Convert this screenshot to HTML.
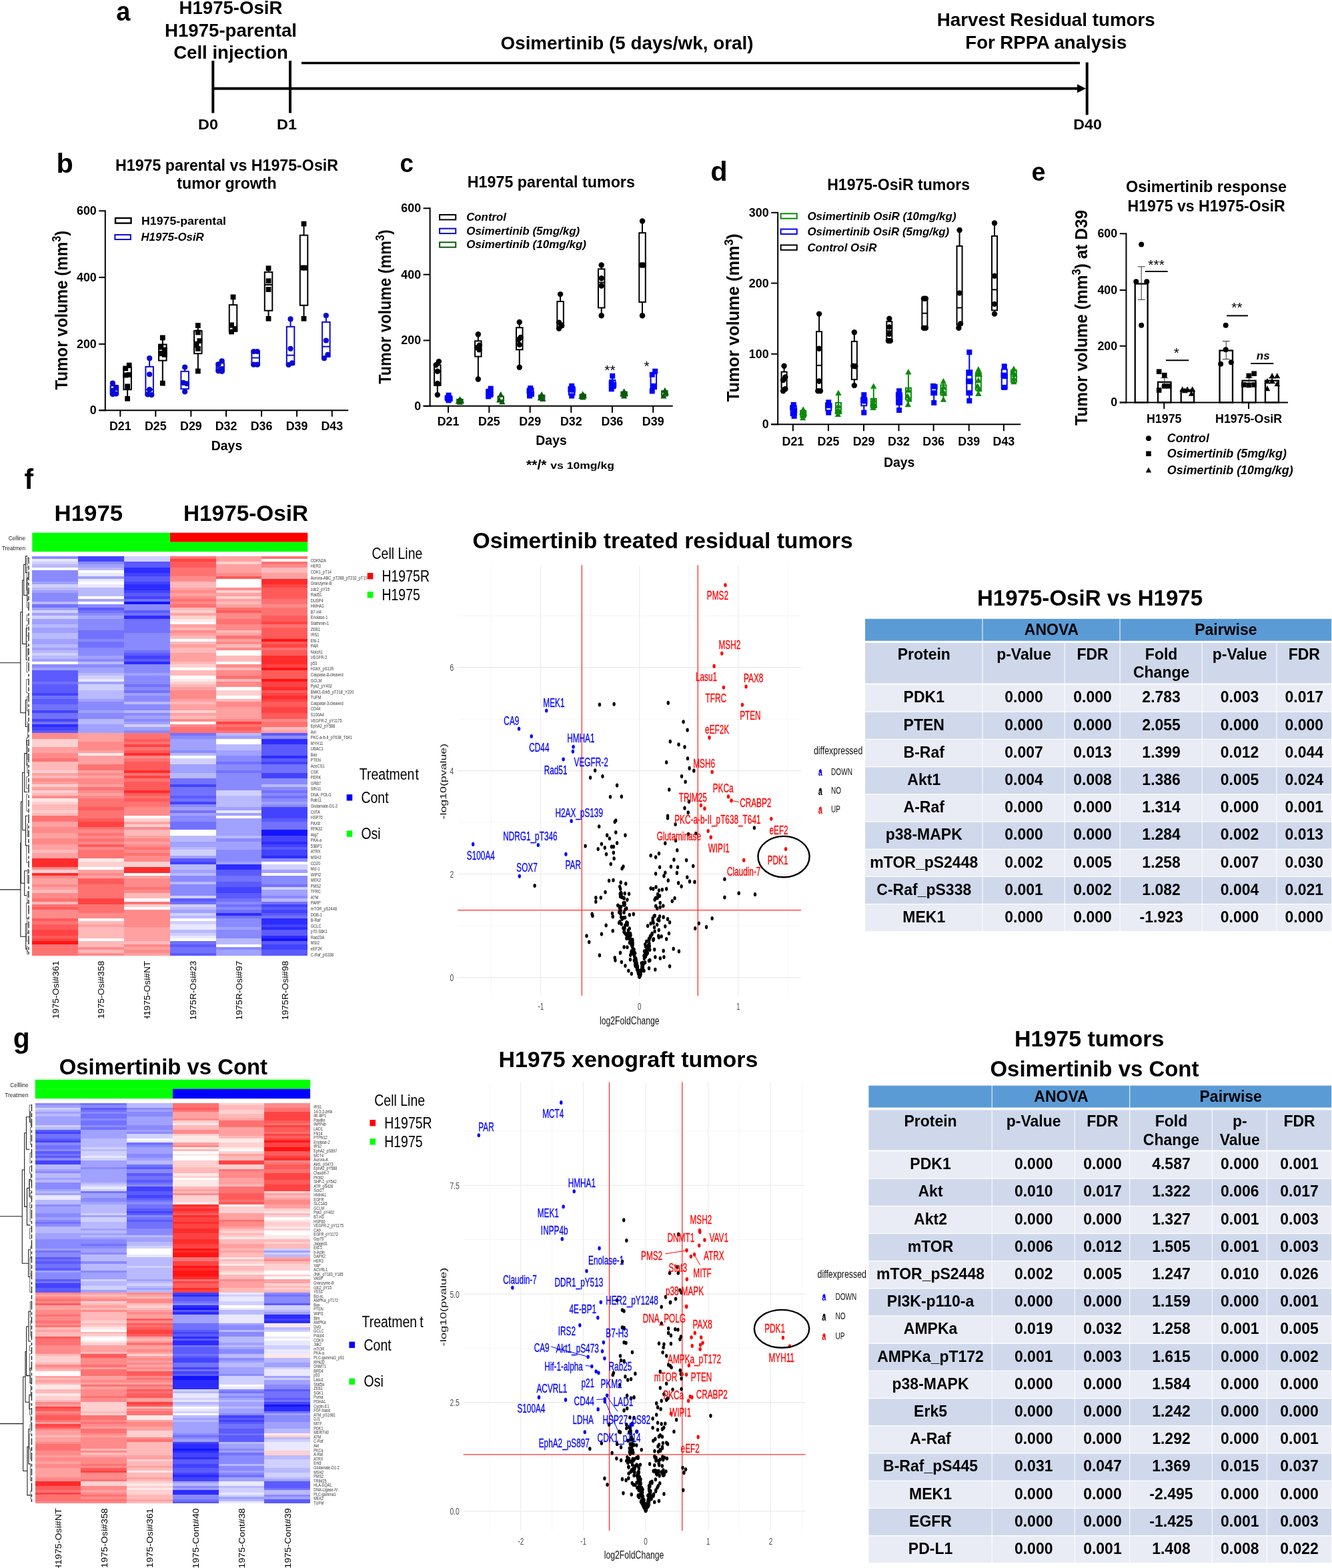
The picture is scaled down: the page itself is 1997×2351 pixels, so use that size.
<!DOCTYPE html>
<html lang="en">
<head>
<meta charset="utf-8">
<title>Figure</title>
<style>
html,body{margin:0;padding:0;background:#fff;}
body{width:1997px;height:2351px;overflow:hidden;}
svg{display:block;font-family:"Liberation Sans",sans-serif;}
svg text{white-space:pre;}
</style>
</head>
<body>
<svg width="1997" height="2351" viewBox="0 0 1997 2351">
<rect x="0" y="0" width="1997" height="2351" fill="#ffffff"/>
<g id="p-a">
<text transform="translate(174.3,30.6) scale(0.95,1)" font-size="40" font-weight="bold">a</text>
<text transform="translate(346,21.3)" font-size="27.6" font-weight="bold" text-anchor="middle">H1975-OsiR</text>
<text transform="translate(346,54.6)" font-size="27.6" font-weight="bold" text-anchor="middle">H1975-parental</text>
<text transform="translate(346,88.1)" font-size="27.6" font-weight="bold" text-anchor="middle">Cell injection</text>
<text transform="translate(940,73.7)" font-size="27.8" font-weight="bold" text-anchor="middle" textLength="379" lengthAdjust="spacingAndGlyphs">Osimertinib (5 days/wk, oral)</text>
<text transform="translate(1568.3,39.2)" font-size="27.8" font-weight="bold" text-anchor="middle" textLength="327" lengthAdjust="spacingAndGlyphs">Harvest Residual tumors</text>
<text transform="translate(1568.3,72.9)" font-size="27.8" font-weight="bold" text-anchor="middle" textLength="242" lengthAdjust="spacingAndGlyphs">For RPPA analysis</text>
<line x1="319.3" y1="91" x2="319.3" y2="169.5" stroke="#000" stroke-width="4" />
<line x1="435" y1="91" x2="435" y2="169.5" stroke="#000" stroke-width="4" />
<line x1="1629.7" y1="93.5" x2="1629.7" y2="172.3" stroke="#000" stroke-width="4" />
<line x1="318" y1="132.8" x2="1618" y2="132.8" stroke="#000" stroke-width="4" />
<path d="M1615 126.3L1628 132.8L1615 139.3Z" fill="#000"/>
<line x1="452" y1="94.5" x2="1619" y2="94.5" stroke="#000" stroke-width="3.5" />
<text transform="translate(312,194.3) scale(1.04,1)" font-size="22.5" font-weight="bold" text-anchor="middle">D0</text>
<text transform="translate(430,194.3) scale(1.04,1)" font-size="22.5" font-weight="bold" text-anchor="middle">D1</text>
<text transform="translate(1630.6,194.4)" font-size="22.5" font-weight="bold" text-anchor="middle" textLength="42.5" lengthAdjust="spacingAndGlyphs">D40</text>
</g>
<g id="p-b">
<text transform="translate(84.5,258.7)" font-size="41.5" font-weight="bold">b</text>
<text transform="translate(340,256.3)" font-size="23" font-weight="bold" text-anchor="middle" textLength="334" lengthAdjust="spacingAndGlyphs">H1975 parental vs H1975-OsiR</text>
<text transform="translate(340,282.8)" font-size="23" font-weight="bold" text-anchor="middle" textLength="149.5" lengthAdjust="spacingAndGlyphs">tumor growth</text>
<line x1="157.78" y1="315.19" x2="157.78" y2="616.24" stroke="#000" stroke-width="2" />
<line x1="148.25" y1="615.24" x2="522.22" y2="615.24" stroke="#000" stroke-width="2" />
<line x1="148.25" y1="316.19" x2="157.78" y2="316.19" stroke="#000" stroke-width="2" />
<text transform="translate(144.75,322.14) scale(0.94,1)" font-size="19" font-weight="bold" text-anchor="end">600</text>
<line x1="148.25" y1="415.87" x2="157.78" y2="415.87" stroke="#000" stroke-width="2" />
<text transform="translate(144.75,421.83) scale(0.94,1)" font-size="19" font-weight="bold" text-anchor="end">400</text>
<line x1="148.25" y1="515.87" x2="157.78" y2="515.87" stroke="#000" stroke-width="2" />
<text transform="translate(144.75,521.83) scale(0.94,1)" font-size="19" font-weight="bold" text-anchor="end">200</text>
<line x1="148.25" y1="615.24" x2="157.78" y2="615.24" stroke="#000" stroke-width="2" />
<text transform="translate(144.75,621.19) scale(0.94,1)" font-size="19" font-weight="bold" text-anchor="end">0</text>
<line x1="180.32" y1="615.24" x2="180.32" y2="624.76" stroke="#000" stroke-width="2" />
<text transform="translate(180.32,645.4) scale(0.94,1)" font-size="19" font-weight="bold" text-anchor="middle">D21</text>
<line x1="233.33" y1="615.24" x2="233.33" y2="624.76" stroke="#000" stroke-width="2" />
<text transform="translate(233.33,645.4) scale(0.94,1)" font-size="19" font-weight="bold" text-anchor="middle">D25</text>
<line x1="286.35" y1="615.24" x2="286.35" y2="624.76" stroke="#000" stroke-width="2" />
<text transform="translate(286.35,645.4) scale(0.94,1)" font-size="19" font-weight="bold" text-anchor="middle">D29</text>
<line x1="339.05" y1="615.24" x2="339.05" y2="624.76" stroke="#000" stroke-width="2" />
<text transform="translate(339.05,645.4) scale(0.94,1)" font-size="19" font-weight="bold" text-anchor="middle">D32</text>
<line x1="392.06" y1="615.24" x2="392.06" y2="624.76" stroke="#000" stroke-width="2" />
<text transform="translate(392.06,645.4) scale(0.94,1)" font-size="19" font-weight="bold" text-anchor="middle">D36</text>
<line x1="445.08" y1="615.24" x2="445.08" y2="624.76" stroke="#000" stroke-width="2" />
<text transform="translate(445.08,645.4) scale(0.94,1)" font-size="19" font-weight="bold" text-anchor="middle">D39</text>
<line x1="497.78" y1="615.24" x2="497.78" y2="624.76" stroke="#000" stroke-width="2" />
<text transform="translate(497.78,645.4) scale(0.94,1)" font-size="19" font-weight="bold" text-anchor="middle">D43</text>
<text transform="translate(340,675.24) scale(0.97,1)" font-size="20" font-weight="bold" text-anchor="middle">Days</text>
<text transform="translate(100.95,465.08) rotate(-90)" font-size="26" font-weight="bold" text-anchor="middle" textLength="238.73" lengthAdjust="spacingAndGlyphs">Tumor volume (mm<tspan dy="-9.88" font-size="17.68">3</tspan><tspan dy="9.88">)</tspan></text>
<rect x="173.02" y="326.98" width="23.49" height="7.62" fill="#fff" stroke="#000" stroke-width="2.4"/>
<text transform="translate(212.06,336.51)" font-size="17" font-weight="bold" textLength="126.98" lengthAdjust="spacingAndGlyphs">H1975-parental</text>
<rect x="172.38" y="352.06" width="23.49" height="6.98" fill="#fff" stroke="#0a0ad2" stroke-width="2"/>
<text transform="translate(211.43,361.27)" font-size="17" font-weight="bold" font-style="italic" textLength="94.29" lengthAdjust="spacingAndGlyphs">H1975-OsiR</text>
<line x1="171.43" y1="574.6" x2="171.43" y2="578.41" stroke="#0a0ad2" stroke-width="2" />
<line x1="171.43" y1="591.11" x2="171.43" y2="592.38" stroke="#0a0ad2" stroke-width="2" />
<rect x="165.68" y="578.41" width="11.5" height="12.7" fill="#fff" stroke="#0a0ad2" stroke-width="2"/>
<line x1="165.68" y1="584.76" x2="177.18" y2="584.76" stroke="#0a0ad2" stroke-width="2" />
<circle cx="168.89" cy="574.6" r="4.1" fill="#0a0ad2"/>
<circle cx="173.97" cy="580.95" r="4.1" fill="#0a0ad2"/>
<circle cx="168.89" cy="585.71" r="4.1" fill="#0a0ad2"/>
<circle cx="173.97" cy="590.48" r="4.1" fill="#0a0ad2"/>
<circle cx="168.89" cy="591.11" r="4.1" fill="#0a0ad2"/>
<line x1="224.13" y1="537.14" x2="224.13" y2="549.84" stroke="#0a0ad2" stroke-width="2" />
<line x1="224.13" y1="592.06" x2="224.13" y2="593.02" stroke="#0a0ad2" stroke-width="2" />
<rect x="218.38" y="549.84" width="11.5" height="42.22" fill="#fff" stroke="#0a0ad2" stroke-width="2"/>
<line x1="218.38" y1="584.13" x2="229.88" y2="584.13" stroke="#0a0ad2" stroke-width="2" />
<circle cx="224.13" cy="537.14" r="4.1" fill="#0a0ad2"/>
<circle cx="224.13" cy="561.27" r="4.1" fill="#0a0ad2"/>
<circle cx="224.13" cy="584.13" r="4.1" fill="#0a0ad2"/>
<circle cx="221.59" cy="591.43" r="4.1" fill="#0a0ad2"/>
<circle cx="227.3" cy="592.06" r="4.1" fill="#0a0ad2"/>
<line x1="277.14" y1="550.48" x2="277.14" y2="556.83" stroke="#0a0ad2" stroke-width="2" />
<line x1="277.14" y1="583.17" x2="277.14" y2="587.94" stroke="#0a0ad2" stroke-width="2" />
<rect x="271.39" y="556.83" width="11.5" height="26.35" fill="#fff" stroke="#0a0ad2" stroke-width="2"/>
<line x1="271.39" y1="574.6" x2="282.89" y2="574.6" stroke="#0a0ad2" stroke-width="2" />
<circle cx="277.14" cy="550.48" r="4.1" fill="#0a0ad2"/>
<circle cx="274.92" cy="573.97" r="4.1" fill="#0a0ad2"/>
<circle cx="280" cy="575.24" r="4.1" fill="#0a0ad2"/>
<circle cx="277.14" cy="587.3" r="4.1" fill="#0a0ad2"/>
<line x1="330.16" y1="541.27" x2="330.16" y2="544.44" stroke="#0a0ad2" stroke-width="2" />
<line x1="330.16" y1="557.14" x2="330.16" y2="557.78" stroke="#0a0ad2" stroke-width="2" />
<rect x="324.41" y="544.44" width="11.5" height="12.7" fill="#fff" stroke="#0a0ad2" stroke-width="2"/>
<line x1="324.41" y1="550.79" x2="335.91" y2="550.79" stroke="#0a0ad2" stroke-width="2" />
<circle cx="332.7" cy="541.27" r="4.1" fill="#0a0ad2"/>
<circle cx="327.62" cy="546.03" r="4.1" fill="#0a0ad2"/>
<circle cx="332.7" cy="553.02" r="4.1" fill="#0a0ad2"/>
<circle cx="327.62" cy="556.19" r="4.1" fill="#0a0ad2"/>
<circle cx="332.7" cy="556.83" r="4.1" fill="#0a0ad2"/>
<line x1="383.17" y1="526.35" x2="383.17" y2="526.98" stroke="#0a0ad2" stroke-width="2" />
<line x1="383.17" y1="547.62" x2="383.17" y2="548.25" stroke="#0a0ad2" stroke-width="2" />
<rect x="377.42" y="526.98" width="11.5" height="20.63" fill="#fff" stroke="#0a0ad2" stroke-width="2"/>
<line x1="377.42" y1="536.51" x2="388.92" y2="536.51" stroke="#0a0ad2" stroke-width="2" />
<circle cx="380.32" cy="526.98" r="4.1" fill="#0a0ad2"/>
<circle cx="385.71" cy="526.98" r="4.1" fill="#0a0ad2"/>
<circle cx="380.32" cy="546.67" r="4.1" fill="#0a0ad2"/>
<circle cx="385.71" cy="546.67" r="4.1" fill="#0a0ad2"/>
<line x1="435.56" y1="478.41" x2="435.56" y2="489.84" stroke="#0a0ad2" stroke-width="2" />
<line x1="435.56" y1="546.67" x2="435.56" y2="547.3" stroke="#0a0ad2" stroke-width="2" />
<rect x="429.81" y="489.84" width="11.5" height="56.83" fill="#fff" stroke="#0a0ad2" stroke-width="2"/>
<line x1="429.81" y1="532.7" x2="441.31" y2="532.7" stroke="#0a0ad2" stroke-width="2" />
<circle cx="435.56" cy="478.41" r="4.1" fill="#0a0ad2"/>
<circle cx="435.56" cy="522.86" r="4.1" fill="#0a0ad2"/>
<circle cx="438.1" cy="544.44" r="4.1" fill="#0a0ad2"/>
<circle cx="432.7" cy="546.98" r="4.1" fill="#0a0ad2"/>
<line x1="488.89" y1="473.02" x2="488.89" y2="482.86" stroke="#0a0ad2" stroke-width="2" />
<line x1="488.89" y1="534.92" x2="488.89" y2="537.46" stroke="#0a0ad2" stroke-width="2" />
<rect x="483.14" y="482.86" width="11.5" height="52.06" fill="#fff" stroke="#0a0ad2" stroke-width="2"/>
<line x1="483.14" y1="519.68" x2="494.64" y2="519.68" stroke="#0a0ad2" stroke-width="2" />
<circle cx="488.89" cy="473.02" r="4.1" fill="#0a0ad2"/>
<circle cx="488.89" cy="510.48" r="4.1" fill="#0a0ad2"/>
<circle cx="491.43" cy="531.75" r="4.1" fill="#0a0ad2"/>
<circle cx="486.03" cy="537.14" r="4.1" fill="#0a0ad2"/>
<line x1="191.11" y1="547.62" x2="191.11" y2="550.79" stroke="#000" stroke-width="2" />
<line x1="191.11" y1="584.13" x2="191.11" y2="597.78" stroke="#000" stroke-width="2" />
<rect x="185.36" y="550.79" width="11.5" height="33.33" fill="#fff" stroke="#000" stroke-width="2"/>
<line x1="185.36" y1="561.9" x2="196.86" y2="561.9" stroke="#000" stroke-width="2" />
<rect x="189.76" y="543.72" width="7.79" height="7.79" fill="#000"/>
<rect x="184.36" y="548.49" width="7.79" height="7.79" fill="#000"/>
<rect x="189.76" y="558.01" width="7.79" height="7.79" fill="#000"/>
<rect x="184.36" y="558.64" width="7.79" height="7.79" fill="#000"/>
<rect x="187.22" y="575.47" width="7.79" height="7.79" fill="#000"/>
<rect x="187.22" y="593.88" width="7.79" height="7.79" fill="#000"/>
<line x1="243.81" y1="506.35" x2="243.81" y2="516.51" stroke="#000" stroke-width="2" />
<line x1="243.81" y1="540.63" x2="243.81" y2="574.6" stroke="#000" stroke-width="2" />
<rect x="238.06" y="516.51" width="11.5" height="24.13" fill="#fff" stroke="#000" stroke-width="2"/>
<line x1="238.06" y1="526.98" x2="249.56" y2="526.98" stroke="#000" stroke-width="2" />
<rect x="239.91" y="502.45" width="7.79" height="7.79" fill="#000"/>
<rect x="237.37" y="516.74" width="7.79" height="7.79" fill="#000"/>
<rect x="242.77" y="520.55" width="7.79" height="7.79" fill="#000"/>
<rect x="237.37" y="526.26" width="7.79" height="7.79" fill="#000"/>
<rect x="242.77" y="527.85" width="7.79" height="7.79" fill="#000"/>
<rect x="239.91" y="570.71" width="7.79" height="7.79" fill="#000"/>
<line x1="296.83" y1="487.94" x2="296.83" y2="495.87" stroke="#000" stroke-width="2" />
<line x1="296.83" y1="530.16" x2="296.83" y2="556.51" stroke="#000" stroke-width="2" />
<rect x="291.08" y="495.87" width="11.5" height="34.29" fill="#fff" stroke="#000" stroke-width="2"/>
<line x1="291.08" y1="512.7" x2="302.58" y2="512.7" stroke="#000" stroke-width="2" />
<rect x="292.93" y="484.04" width="7.79" height="7.79" fill="#000"/>
<rect x="292.93" y="494.52" width="7.79" height="7.79" fill="#000"/>
<rect x="295.47" y="507.22" width="7.79" height="7.79" fill="#000"/>
<rect x="290.71" y="513.57" width="7.79" height="7.79" fill="#000"/>
<rect x="292.93" y="518.96" width="7.79" height="7.79" fill="#000"/>
<rect x="292.93" y="552.61" width="7.79" height="7.79" fill="#000"/>
<line x1="349.52" y1="445.4" x2="349.52" y2="457.14" stroke="#000" stroke-width="2" />
<line x1="349.52" y1="496.83" x2="349.52" y2="498.41" stroke="#000" stroke-width="2" />
<rect x="343.77" y="457.14" width="11.5" height="39.68" fill="#fff" stroke="#000" stroke-width="2"/>
<line x1="343.77" y1="490.48" x2="355.27" y2="490.48" stroke="#000" stroke-width="2" />
<rect x="345.63" y="441.5" width="7.79" height="7.79" fill="#000"/>
<rect x="343.09" y="483.41" width="7.79" height="7.79" fill="#000"/>
<rect x="348.49" y="489.12" width="7.79" height="7.79" fill="#000"/>
<rect x="343.09" y="493.57" width="7.79" height="7.79" fill="#000"/>
<line x1="402.54" y1="402.22" x2="402.54" y2="407.94" stroke="#000" stroke-width="2" />
<line x1="402.54" y1="465.71" x2="402.54" y2="477.78" stroke="#000" stroke-width="2" />
<rect x="396.79" y="407.94" width="11.5" height="57.78" fill="#fff" stroke="#000" stroke-width="2"/>
<line x1="396.79" y1="426.98" x2="408.29" y2="426.98" stroke="#000" stroke-width="2" />
<rect x="398.64" y="398.33" width="7.79" height="7.79" fill="#000"/>
<rect x="398.64" y="417.37" width="7.79" height="7.79" fill="#000"/>
<rect x="398.64" y="430.07" width="7.79" height="7.79" fill="#000"/>
<rect x="398.64" y="473.88" width="7.79" height="7.79" fill="#000"/>
<line x1="455.56" y1="335.56" x2="455.56" y2="352.7" stroke="#000" stroke-width="2" />
<line x1="455.56" y1="457.78" x2="455.56" y2="477.78" stroke="#000" stroke-width="2" />
<rect x="449.81" y="352.7" width="11.5" height="105.08" fill="#fff" stroke="#000" stroke-width="2"/>
<line x1="449.81" y1="401.59" x2="461.31" y2="401.59" stroke="#000" stroke-width="2" />
<rect x="451.66" y="331.66" width="7.79" height="7.79" fill="#000"/>
<rect x="449.44" y="397.69" width="7.79" height="7.79" fill="#000"/>
<rect x="454.2" y="397.69" width="7.79" height="7.79" fill="#000"/>
<rect x="451.66" y="473.88" width="7.79" height="7.79" fill="#000"/>
</g>
<g id="p-c">
<text transform="translate(599.6,257.7) scale(0.93,1)" font-size="39.7" font-weight="bold">c</text>
<text transform="translate(826.3,281.07)" font-size="23" font-weight="bold" text-anchor="middle" textLength="251.16" lengthAdjust="spacingAndGlyphs">H1975 parental tumors</text>
<line x1="644.65" y1="311.31" x2="644.65" y2="609.87" stroke="#000" stroke-width="2" />
<line x1="634.63" y1="608.87" x2="1008.71" y2="608.87" stroke="#000" stroke-width="2" />
<line x1="634.63" y1="312.31" x2="644.65" y2="312.31" stroke="#000" stroke-width="2" />
<text transform="translate(631.13,318.26) scale(0.94,1)" font-size="19" font-weight="bold" text-anchor="end">600</text>
<line x1="634.63" y1="411.66" x2="644.65" y2="411.66" stroke="#000" stroke-width="2" />
<text transform="translate(631.13,417.61) scale(0.94,1)" font-size="19" font-weight="bold" text-anchor="end">400</text>
<line x1="634.63" y1="510.41" x2="644.65" y2="510.41" stroke="#000" stroke-width="2" />
<text transform="translate(631.13,516.36) scale(0.94,1)" font-size="19" font-weight="bold" text-anchor="end">200</text>
<line x1="634.63" y1="608.87" x2="644.65" y2="608.87" stroke="#000" stroke-width="2" />
<text transform="translate(631.13,614.82) scale(0.94,1)" font-size="19" font-weight="bold" text-anchor="end">0</text>
<line x1="672.06" y1="608.87" x2="672.06" y2="618.89" stroke="#000" stroke-width="2" />
<text transform="translate(672.06,638.34) scale(0.94,1)" font-size="19" font-weight="bold" text-anchor="middle">D21</text>
<line x1="733.38" y1="608.87" x2="733.38" y2="618.89" stroke="#000" stroke-width="2" />
<text transform="translate(733.38,638.34) scale(0.94,1)" font-size="19" font-weight="bold" text-anchor="middle">D25</text>
<line x1="794.69" y1="608.87" x2="794.69" y2="618.89" stroke="#000" stroke-width="2" />
<text transform="translate(794.69,638.34) scale(0.94,1)" font-size="19" font-weight="bold" text-anchor="middle">D29</text>
<line x1="856.3" y1="608.87" x2="856.3" y2="618.89" stroke="#000" stroke-width="2" />
<text transform="translate(856.3,638.34) scale(0.94,1)" font-size="19" font-weight="bold" text-anchor="middle">D32</text>
<line x1="917.91" y1="608.87" x2="917.91" y2="618.89" stroke="#000" stroke-width="2" />
<text transform="translate(917.91,638.34) scale(0.94,1)" font-size="19" font-weight="bold" text-anchor="middle">D36</text>
<line x1="979.23" y1="608.87" x2="979.23" y2="618.89" stroke="#000" stroke-width="2" />
<text transform="translate(979.23,638.34) scale(0.94,1)" font-size="19" font-weight="bold" text-anchor="middle">D39</text>
<text transform="translate(826.53,667.23) scale(0.97,1)" font-size="20" font-weight="bold" text-anchor="middle">Days</text>
<text transform="translate(585.99,460) rotate(-90)" font-size="26" font-weight="bold" text-anchor="middle" textLength="231.41" lengthAdjust="spacingAndGlyphs">Tumor volume (mm<tspan dy="-9.88" font-size="17.68">3</tspan><tspan dy="9.88">)</tspan></text>
<text transform="translate(789.09,703.79)" font-size="21" font-weight="bold" textLength="30.36" lengthAdjust="spacingAndGlyphs">**/*</text>
<text transform="translate(825.35,702.61)" font-size="14.5" font-weight="bold" textLength="95.51" lengthAdjust="spacingAndGlyphs">vs 10mg/kg</text>
<rect x="659.09" y="322.04" width="24.17" height="7.37" fill="#fff" stroke="#000" stroke-width="2"/>
<text transform="translate(699.18,331.18)" font-size="17" font-weight="bold" font-style="italic" textLength="59.84" lengthAdjust="spacingAndGlyphs">Control</text>
<rect x="659.09" y="342.68" width="24.17" height="7.37" fill="#fff" stroke="#0a0ad2" stroke-width="2"/>
<text transform="translate(699.18,351.81)" font-size="17" font-weight="bold" font-style="italic" textLength="170.09" lengthAdjust="spacingAndGlyphs">Osimertinib (5mg/kg)</text>
<rect x="659.09" y="363.31" width="24.17" height="7.37" fill="#fff" stroke="#0b5a0b" stroke-width="2"/>
<text transform="translate(699.18,372.45)" font-size="17" font-weight="bold" font-style="italic" textLength="179.82" lengthAdjust="spacingAndGlyphs">Osimertinib (10mg/kg)</text>
<line x1="655.85" y1="541.95" x2="655.85" y2="547.26" stroke="#000" stroke-width="2" />
<line x1="655.85" y1="577.91" x2="655.85" y2="592.06" stroke="#000" stroke-width="2" />
<rect x="651.1" y="547.26" width="9.5" height="30.66" fill="#fff" stroke="#000" stroke-width="2"/>
<line x1="651.1" y1="557.28" x2="660.6" y2="557.28" stroke="#000" stroke-width="2" />
<circle cx="657.91" cy="541.95" r="4.2" fill="#000"/>
<circle cx="653.79" cy="547.26" r="4.2" fill="#000"/>
<circle cx="655.85" cy="556.69" r="4.2" fill="#000"/>
<circle cx="655.85" cy="574.97" r="4.2" fill="#000"/>
<circle cx="655.85" cy="592.06" r="4.2" fill="#000"/>
<line x1="716.87" y1="501.27" x2="716.87" y2="511.29" stroke="#000" stroke-width="2" />
<line x1="716.87" y1="534.58" x2="716.87" y2="568.48" stroke="#000" stroke-width="2" />
<rect x="712.12" y="511.29" width="9.5" height="23.29" fill="#fff" stroke="#000" stroke-width="2"/>
<line x1="712.12" y1="521.32" x2="721.62" y2="521.32" stroke="#000" stroke-width="2" />
<circle cx="716.87" cy="501.27" r="4.2" fill="#000"/>
<circle cx="718.93" cy="517.78" r="4.2" fill="#000"/>
<circle cx="715.4" cy="521.32" r="4.2" fill="#000"/>
<circle cx="718.34" cy="524.26" r="4.2" fill="#000"/>
<circle cx="716.87" cy="568.48" r="4.2" fill="#000"/>
<line x1="778.78" y1="482.99" x2="778.78" y2="491.25" stroke="#000" stroke-width="2" />
<line x1="778.78" y1="524.26" x2="778.78" y2="550.79" stroke="#000" stroke-width="2" />
<rect x="774.03" y="491.25" width="9.5" height="33.02" fill="#fff" stroke="#000" stroke-width="2"/>
<line x1="774.03" y1="508.05" x2="783.53" y2="508.05" stroke="#000" stroke-width="2" />
<circle cx="778.78" cy="482.99" r="4.2" fill="#000"/>
<circle cx="780.54" cy="505.99" r="4.2" fill="#000"/>
<circle cx="777.01" cy="509.52" r="4.2" fill="#000"/>
<circle cx="778.78" cy="516.89" r="4.2" fill="#000"/>
<circle cx="778.78" cy="550.79" r="4.2" fill="#000"/>
<line x1="840.09" y1="441.13" x2="840.09" y2="452.04" stroke="#000" stroke-width="2" />
<line x1="840.09" y1="490.36" x2="840.09" y2="493.31" stroke="#000" stroke-width="2" />
<rect x="835.34" y="452.04" width="9.5" height="38.32" fill="#fff" stroke="#000" stroke-width="2"/>
<line x1="835.34" y1="484.47" x2="844.84" y2="484.47" stroke="#000" stroke-width="2" />
<circle cx="840.09" cy="441.13" r="4.2" fill="#000"/>
<circle cx="838.03" cy="483.58" r="4.2" fill="#000"/>
<circle cx="842.15" cy="488.3" r="4.2" fill="#000"/>
<circle cx="838.03" cy="492.43" r="4.2" fill="#000"/>
<line x1="901.7" y1="397.51" x2="901.7" y2="403.4" stroke="#000" stroke-width="2" />
<line x1="901.7" y1="461.47" x2="901.7" y2="473.27" stroke="#000" stroke-width="2" />
<rect x="896.95" y="403.4" width="9.5" height="58.07" fill="#fff" stroke="#000" stroke-width="2"/>
<line x1="896.95" y1="423.45" x2="906.45" y2="423.45" stroke="#000" stroke-width="2" />
<circle cx="901.7" cy="397.51" r="4.2" fill="#000"/>
<circle cx="901.7" cy="417.26" r="4.2" fill="#000"/>
<circle cx="901.7" cy="428.46" r="4.2" fill="#000"/>
<circle cx="901.7" cy="473.27" r="4.2" fill="#000"/>
<line x1="963.02" y1="331.47" x2="963.02" y2="349.16" stroke="#000" stroke-width="2" />
<line x1="963.02" y1="452.93" x2="963.02" y2="473.27" stroke="#000" stroke-width="2" />
<rect x="958.27" y="349.16" width="9.5" height="103.76" fill="#fff" stroke="#000" stroke-width="2"/>
<line x1="958.27" y1="397.51" x2="967.77" y2="397.51" stroke="#000" stroke-width="2" />
<circle cx="963.02" cy="331.47" r="4.2" fill="#000"/>
<circle cx="961.54" cy="397.51" r="4.2" fill="#000"/>
<circle cx="964.78" cy="397.51" r="4.2" fill="#000"/>
<circle cx="963.02" cy="473.27" r="4.2" fill="#000"/>
<line x1="672.65" y1="592.06" x2="672.65" y2="593.83" stroke="#0000ff" stroke-width="2" />
<line x1="672.65" y1="600.91" x2="672.65" y2="601.5" stroke="#0000ff" stroke-width="2" />
<rect x="668.4" y="593.83" width="8.5" height="7.07" fill="#fff" stroke="#0000ff" stroke-width="2"/>
<rect x="668.66" y="588.66" width="7.98" height="7.98" fill="#0000ff"/>
<rect x="666.6" y="592.5" width="7.98" height="7.98" fill="#0000ff"/>
<rect x="670.73" y="593.97" width="7.98" height="7.98" fill="#0000ff"/>
<rect x="668.66" y="596.33" width="7.98" height="7.98" fill="#0000ff"/>
<line x1="733.97" y1="581.75" x2="733.97" y2="583.81" stroke="#0000ff" stroke-width="2" />
<line x1="733.97" y1="595.01" x2="733.97" y2="596.49" stroke="#0000ff" stroke-width="2" />
<rect x="729.72" y="583.81" width="8.5" height="11.2" fill="#fff" stroke="#0000ff" stroke-width="2"/>
<rect x="731.75" y="578.64" width="7.98" height="7.98" fill="#0000ff"/>
<rect x="728.21" y="583.65" width="7.98" height="7.98" fill="#0000ff"/>
<rect x="731.75" y="586.6" width="7.98" height="7.98" fill="#0000ff"/>
<rect x="728.21" y="590.43" width="7.98" height="7.98" fill="#0000ff"/>
<line x1="795.28" y1="581.16" x2="795.28" y2="582.34" stroke="#0000ff" stroke-width="2" />
<line x1="795.28" y1="593.83" x2="795.28" y2="595.01" stroke="#0000ff" stroke-width="2" />
<rect x="791.03" y="582.34" width="8.5" height="11.5" fill="#fff" stroke="#0000ff" stroke-width="2"/>
<rect x="791.29" y="578.05" width="7.98" height="7.98" fill="#0000ff"/>
<rect x="789.52" y="582.18" width="7.98" height="7.98" fill="#0000ff"/>
<rect x="793.06" y="586.6" width="7.98" height="7.98" fill="#0000ff"/>
<rect x="790.11" y="589.55" width="7.98" height="7.98" fill="#0000ff"/>
<line x1="857.19" y1="578.21" x2="857.19" y2="579.68" stroke="#0000ff" stroke-width="2" />
<line x1="857.19" y1="592.06" x2="857.19" y2="594.13" stroke="#0000ff" stroke-width="2" />
<rect x="852.94" y="579.68" width="8.5" height="12.38" fill="#fff" stroke="#0000ff" stroke-width="2"/>
<rect x="853.2" y="574.81" width="7.98" height="7.98" fill="#0000ff"/>
<rect x="851.43" y="580.11" width="7.98" height="7.98" fill="#0000ff"/>
<rect x="854.97" y="580.7" width="7.98" height="7.98" fill="#0000ff"/>
<rect x="853.2" y="589.55" width="7.98" height="7.98" fill="#0000ff"/>
<line x1="918.21" y1="563.76" x2="918.21" y2="569.95" stroke="#0000ff" stroke-width="2" />
<line x1="918.21" y1="582.34" x2="918.21" y2="584.69" stroke="#0000ff" stroke-width="2" />
<rect x="913.96" y="569.95" width="8.5" height="12.38" fill="#fff" stroke="#0000ff" stroke-width="2"/>
<rect x="914.22" y="559.77" width="7.98" height="7.98" fill="#0000ff"/>
<rect x="912.74" y="570.98" width="7.98" height="7.98" fill="#0000ff"/>
<rect x="916.28" y="573.33" width="7.98" height="7.98" fill="#0000ff"/>
<rect x="912.74" y="579.23" width="7.98" height="7.98" fill="#0000ff"/>
<line x1="979.82" y1="556.69" x2="979.82" y2="560.23" stroke="#0000ff" stroke-width="2" />
<line x1="979.82" y1="583.22" x2="979.82" y2="587.05" stroke="#0000ff" stroke-width="2" />
<rect x="975.57" y="560.23" width="8.5" height="22.99" fill="#fff" stroke="#0000ff" stroke-width="2"/>
<rect x="978.19" y="552.7" width="7.98" height="7.98" fill="#0000ff"/>
<rect x="973.77" y="557.71" width="7.98" height="7.98" fill="#0000ff"/>
<rect x="975.83" y="574.81" width="7.98" height="7.98" fill="#0000ff"/>
<rect x="973.77" y="582.47" width="7.98" height="7.98" fill="#0000ff"/>
<line x1="689.46" y1="597.96" x2="689.46" y2="598.84" stroke="#0b5a0b" stroke-width="2" />
<line x1="689.46" y1="602.68" x2="689.46" y2="603.27" stroke="#0b5a0b" stroke-width="2" />
<rect x="685.21" y="598.84" width="8.5" height="3.83" fill="#fff" stroke="#0b5a0b" stroke-width="2"/>
<path d="M689.46 593.92L694.09 602.52L684.83 602.52Z" fill="#0b5a0b"/>
<path d="M687.39 596.87L692.02 605.47L682.76 605.47Z" fill="#0b5a0b"/>
<path d="M691.52 596.28L696.15 604.88L686.89 604.88Z" fill="#0b5a0b"/>
<path d="M689.46 598.05L694.09 606.64L684.83 606.64Z" fill="#0b5a0b"/>
<line x1="750.77" y1="591.47" x2="750.77" y2="594.42" stroke="#0b5a0b" stroke-width="2" />
<line x1="750.77" y1="601.5" x2="750.77" y2="603.85" stroke="#0b5a0b" stroke-width="2" />
<rect x="746.52" y="594.42" width="8.5" height="7.07" fill="#fff" stroke="#0b5a0b" stroke-width="2"/>
<path d="M750.77 586.84L755.4 595.44L746.14 595.44Z" fill="#0b5a0b"/>
<path d="M748.71 594.8L753.34 603.4L744.08 603.4Z" fill="#0b5a0b"/>
<path d="M752.83 597.75L757.46 606.35L748.2 606.35Z" fill="#0b5a0b"/>
<line x1="812.09" y1="590.88" x2="812.09" y2="592.65" stroke="#0b5a0b" stroke-width="2" />
<line x1="812.09" y1="598.55" x2="812.09" y2="599.73" stroke="#0b5a0b" stroke-width="2" />
<rect x="807.84" y="592.65" width="8.5" height="5.9" fill="#fff" stroke="#0b5a0b" stroke-width="2"/>
<path d="M812.09 586.84L816.72 595.44L807.46 595.44Z" fill="#0b5a0b"/>
<path d="M810.32 591.85L814.95 600.45L805.69 600.45Z" fill="#0b5a0b"/>
<path d="M813.85 593.33L818.49 601.93L809.22 601.93Z" fill="#0b5a0b"/>
<line x1="873.7" y1="590.29" x2="873.7" y2="591.47" stroke="#0b5a0b" stroke-width="2" />
<line x1="873.7" y1="595.6" x2="873.7" y2="596.49" stroke="#0b5a0b" stroke-width="2" />
<rect x="869.45" y="591.47" width="8.5" height="4.13" fill="#fff" stroke="#0b5a0b" stroke-width="2"/>
<path d="M873.7 586.25L878.33 594.85L869.07 594.85Z" fill="#0b5a0b"/>
<path d="M871.93 589.5L876.56 598.1L867.3 598.1Z" fill="#0b5a0b"/>
<path d="M875.46 588.91L880.1 597.51L870.83 597.51Z" fill="#0b5a0b"/>
<path d="M873.7 590.97L878.33 599.57L869.07 599.57Z" fill="#0b5a0b"/>
<line x1="935.6" y1="586.17" x2="935.6" y2="587.64" stroke="#0b5a0b" stroke-width="2" />
<line x1="935.6" y1="593.54" x2="935.6" y2="594.42" stroke="#0b5a0b" stroke-width="2" />
<rect x="931.35" y="587.64" width="8.5" height="5.9" fill="#fff" stroke="#0b5a0b" stroke-width="2"/>
<path d="M935.6 582.13L940.23 590.73L930.97 590.73Z" fill="#0b5a0b"/>
<path d="M933.83 585.96L938.46 594.56L929.2 594.56Z" fill="#0b5a0b"/>
<path d="M937.37 585.07L942 593.67L932.74 593.67Z" fill="#0b5a0b"/>
<path d="M935.6 588.91L940.23 597.51L930.97 597.51Z" fill="#0b5a0b"/>
<line x1="996.33" y1="584.69" x2="996.33" y2="586.17" stroke="#0b5a0b" stroke-width="2" />
<line x1="996.33" y1="593.54" x2="996.33" y2="594.42" stroke="#0b5a0b" stroke-width="2" />
<rect x="992.08" y="586.17" width="8.5" height="7.37" fill="#fff" stroke="#0b5a0b" stroke-width="2"/>
<path d="M996.92 580.65L1001.55 589.25L992.29 589.25Z" fill="#0b5a0b"/>
<path d="M998.39 583.9L1003.02 592.5L993.76 592.5Z" fill="#0b5a0b"/>
<path d="M994.85 588.91L999.48 597.51L990.22 597.51Z" fill="#0b5a0b"/>
<text transform="translate(914.38,562)" font-size="21" text-anchor="middle">**</text>
<text transform="translate(969.5,556.1)" font-size="21" text-anchor="middle">*</text>
</g>
<g id="p-d">
<text transform="translate(1065.35,271.34)" font-size="41.5" font-weight="bold">d</text>
<text transform="translate(1347.17,284.6)" font-size="23" font-weight="bold" text-anchor="middle" textLength="214.01" lengthAdjust="spacingAndGlyphs">H1975-OsiR tumors</text>
<line x1="1166.17" y1="317.8" x2="1166.17" y2="637.28" stroke="#000" stroke-width="2" />
<line x1="1156.15" y1="636.28" x2="1530.23" y2="636.28" stroke="#000" stroke-width="2" />
<line x1="1156.15" y1="318.8" x2="1166.17" y2="318.8" stroke="#000" stroke-width="2" />
<text transform="translate(1152.65,324.75) scale(0.94,1)" font-size="19" font-weight="bold" text-anchor="end">300</text>
<line x1="1156.15" y1="424.63" x2="1166.17" y2="424.63" stroke="#000" stroke-width="2" />
<text transform="translate(1152.65,430.58) scale(0.94,1)" font-size="19" font-weight="bold" text-anchor="end">200</text>
<line x1="1156.15" y1="530.75" x2="1166.17" y2="530.75" stroke="#000" stroke-width="2" />
<text transform="translate(1152.65,536.7) scale(0.94,1)" font-size="19" font-weight="bold" text-anchor="end">100</text>
<line x1="1156.15" y1="636.28" x2="1166.17" y2="636.28" stroke="#000" stroke-width="2" />
<text transform="translate(1152.65,642.23) scale(0.94,1)" font-size="19" font-weight="bold" text-anchor="end">0</text>
<line x1="1188.87" y1="636.28" x2="1188.87" y2="646.3" stroke="#000" stroke-width="2" />
<text transform="translate(1188.87,668.12) scale(0.94,1)" font-size="19" font-weight="bold" text-anchor="middle">D21</text>
<line x1="1241.93" y1="636.28" x2="1241.93" y2="646.3" stroke="#000" stroke-width="2" />
<text transform="translate(1241.93,668.12) scale(0.94,1)" font-size="19" font-weight="bold" text-anchor="middle">D25</text>
<line x1="1294.99" y1="636.28" x2="1294.99" y2="646.3" stroke="#000" stroke-width="2" />
<text transform="translate(1294.99,668.12) scale(0.94,1)" font-size="19" font-weight="bold" text-anchor="middle">D29</text>
<line x1="1347.46" y1="636.28" x2="1347.46" y2="646.3" stroke="#000" stroke-width="2" />
<text transform="translate(1347.46,668.12) scale(0.94,1)" font-size="19" font-weight="bold" text-anchor="middle">D32</text>
<line x1="1399.64" y1="636.28" x2="1399.64" y2="646.3" stroke="#000" stroke-width="2" />
<text transform="translate(1399.64,668.12) scale(0.94,1)" font-size="19" font-weight="bold" text-anchor="middle">D36</text>
<line x1="1452.7" y1="636.28" x2="1452.7" y2="646.3" stroke="#000" stroke-width="2" />
<text transform="translate(1452.7,668.12) scale(0.94,1)" font-size="19" font-weight="bold" text-anchor="middle">D39</text>
<line x1="1504.88" y1="636.28" x2="1504.88" y2="646.3" stroke="#000" stroke-width="2" />
<text transform="translate(1504.88,668.12) scale(0.94,1)" font-size="19" font-weight="bold" text-anchor="middle">D43</text>
<text transform="translate(1348.05,700.25) scale(0.97,1)" font-size="20" font-weight="bold" text-anchor="middle">Days</text>
<text transform="translate(1108.39,476.21) rotate(-90)" font-size="26" font-weight="bold" text-anchor="middle" textLength="252.04" lengthAdjust="spacingAndGlyphs">Tumor volume (mm<tspan dy="-9.88" font-size="17.68">3</tspan><tspan dy="9.88">)</tspan></text>
<rect x="1170.59" y="320.27" width="24.17" height="7.37" fill="#fff" stroke="#0a8a0a" stroke-width="2"/>
<text transform="translate(1210.39,329.71)" font-size="17" font-weight="bold" font-style="italic" textLength="223.15" lengthAdjust="spacingAndGlyphs">Osimertinib OsiR (10mg/kg)</text>
<rect x="1170.59" y="343.56" width="24.17" height="7.37" fill="#fff" stroke="#0000ff" stroke-width="2"/>
<text transform="translate(1210.39,352.7)" font-size="17" font-weight="bold" font-style="italic" textLength="212.83" lengthAdjust="spacingAndGlyphs">Osimertinib OsiR (5mg/kg)</text>
<rect x="1170.59" y="367.44" width="24.17" height="7.37" fill="#fff" stroke="#000" stroke-width="2"/>
<text transform="translate(1210.39,376.87)" font-size="17" font-weight="bold" font-style="italic" textLength="104.06" lengthAdjust="spacingAndGlyphs">Control OsiR</text>
<line x1="1175.6" y1="548.73" x2="1175.6" y2="557.57" stroke="#000" stroke-width="2" />
<line x1="1175.6" y1="581.75" x2="1175.6" y2="586.17" stroke="#000" stroke-width="2" />
<rect x="1171.6" y="557.57" width="8" height="24.17" fill="#fff" stroke="#000" stroke-width="2"/>
<line x1="1171.6" y1="569.95" x2="1179.6" y2="569.95" stroke="#000" stroke-width="2" />
<circle cx="1175.6" cy="548.73" r="4.2" fill="#000"/>
<circle cx="1177.37" cy="565.53" r="4.2" fill="#000"/>
<circle cx="1174.13" cy="569.95" r="4.2" fill="#000"/>
<circle cx="1177.37" cy="583.22" r="4.2" fill="#000"/>
<circle cx="1174.13" cy="586.17" r="4.2" fill="#000"/>
<line x1="1228.07" y1="470.61" x2="1228.07" y2="497.14" stroke="#000" stroke-width="2" />
<line x1="1228.07" y1="586.17" x2="1228.07" y2="586.76" stroke="#000" stroke-width="2" />
<rect x="1224.07" y="497.14" width="8" height="89.02" fill="#fff" stroke="#000" stroke-width="2"/>
<line x1="1224.07" y1="547.85" x2="1232.07" y2="547.85" stroke="#000" stroke-width="2" />
<circle cx="1228.07" cy="470.61" r="4.2" fill="#000"/>
<circle cx="1228.07" cy="522.79" r="4.2" fill="#000"/>
<circle cx="1228.07" cy="571.43" r="4.2" fill="#000"/>
<circle cx="1226.3" cy="586.17" r="4.2" fill="#000"/>
<circle cx="1229.84" cy="586.17" r="4.2" fill="#000"/>
<line x1="1280.84" y1="498.32" x2="1280.84" y2="511.88" stroke="#000" stroke-width="2" />
<line x1="1280.84" y1="569.07" x2="1280.84" y2="577.91" stroke="#000" stroke-width="2" />
<rect x="1276.84" y="511.88" width="8" height="57.19" fill="#fff" stroke="#000" stroke-width="2"/>
<line x1="1276.84" y1="548.73" x2="1284.84" y2="548.73" stroke="#000" stroke-width="2" />
<circle cx="1280.84" cy="498.32" r="4.2" fill="#000"/>
<circle cx="1279.37" cy="548.73" r="4.2" fill="#000"/>
<circle cx="1282.31" cy="549.32" r="4.2" fill="#000"/>
<circle cx="1280.84" cy="577.91" r="4.2" fill="#000"/>
<line x1="1333.31" y1="477.69" x2="1333.31" y2="482.11" stroke="#000" stroke-width="2" />
<line x1="1333.31" y1="511" x2="1333.31" y2="511.59" stroke="#000" stroke-width="2" />
<rect x="1329.31" y="482.11" width="8" height="28.89" fill="#fff" stroke="#000" stroke-width="2"/>
<line x1="1329.31" y1="496.26" x2="1337.31" y2="496.26" stroke="#000" stroke-width="2" />
<circle cx="1333.31" cy="477.69" r="4.2" fill="#000"/>
<circle cx="1333.31" cy="490.36" r="4.2" fill="#000"/>
<circle cx="1333.31" cy="500.68" r="4.2" fill="#000"/>
<circle cx="1331.84" cy="511" r="4.2" fill="#000"/>
<circle cx="1334.78" cy="511" r="4.2" fill="#000"/>
<line x1="1386.37" y1="447.03" x2="1386.37" y2="447.62" stroke="#000" stroke-width="2" />
<line x1="1386.37" y1="491.84" x2="1386.37" y2="492.43" stroke="#000" stroke-width="2" />
<rect x="1382.37" y="447.62" width="8" height="44.22" fill="#fff" stroke="#000" stroke-width="2"/>
<line x1="1382.37" y1="469.73" x2="1390.37" y2="469.73" stroke="#000" stroke-width="2" />
<circle cx="1384.9" cy="447.62" r="4.2" fill="#000"/>
<circle cx="1387.85" cy="447.62" r="4.2" fill="#000"/>
<circle cx="1384.9" cy="491.84" r="4.2" fill="#000"/>
<circle cx="1387.85" cy="491.84" r="4.2" fill="#000"/>
<line x1="1438.55" y1="345.03" x2="1438.55" y2="368.91" stroke="#000" stroke-width="2" />
<line x1="1438.55" y1="487.41" x2="1438.55" y2="492.43" stroke="#000" stroke-width="2" />
<rect x="1434.55" y="368.91" width="8" height="118.5" fill="#fff" stroke="#000" stroke-width="2"/>
<line x1="1434.55" y1="461.47" x2="1442.55" y2="461.47" stroke="#000" stroke-width="2" />
<circle cx="1438.55" cy="345.03" r="4.2" fill="#000"/>
<circle cx="1438.55" cy="439.37" r="4.2" fill="#000"/>
<circle cx="1440.02" cy="485.35" r="4.2" fill="#000"/>
<circle cx="1437.37" cy="491.84" r="4.2" fill="#000"/>
<line x1="1491.02" y1="334.42" x2="1491.02" y2="353.88" stroke="#000" stroke-width="2" />
<line x1="1491.02" y1="465.31" x2="1491.02" y2="470.61" stroke="#000" stroke-width="2" />
<rect x="1487.02" y="353.88" width="8" height="111.43" fill="#fff" stroke="#000" stroke-width="2"/>
<line x1="1487.02" y1="434.35" x2="1495.02" y2="434.35" stroke="#000" stroke-width="2" />
<circle cx="1491.02" cy="334.42" r="4.2" fill="#000"/>
<circle cx="1491.02" cy="413.72" r="4.2" fill="#000"/>
<circle cx="1491.02" cy="455.87" r="4.2" fill="#000"/>
<circle cx="1491.02" cy="470.61" r="4.2" fill="#000"/>
<line x1="1189.75" y1="606.21" x2="1189.75" y2="608.28" stroke="#0000ff" stroke-width="2" />
<line x1="1189.75" y1="623.02" x2="1189.75" y2="625.08" stroke="#0000ff" stroke-width="2" />
<rect x="1185.75" y="608.28" width="8" height="14.74" fill="#fff" stroke="#0000ff" stroke-width="2"/>
<rect x="1185.76" y="602.81" width="7.98" height="7.98" fill="#0000ff"/>
<rect x="1184.29" y="607.23" width="7.98" height="7.98" fill="#0000ff"/>
<rect x="1187.23" y="611.66" width="7.98" height="7.98" fill="#0000ff"/>
<rect x="1184.88" y="616.08" width="7.98" height="7.98" fill="#0000ff"/>
<rect x="1186.64" y="619.91" width="7.98" height="7.98" fill="#0000ff"/>
<line x1="1242.22" y1="602.38" x2="1242.22" y2="605.33" stroke="#0000ff" stroke-width="2" />
<line x1="1242.22" y1="615.65" x2="1242.22" y2="619.18" stroke="#0000ff" stroke-width="2" />
<rect x="1238.22" y="605.33" width="8" height="10.32" fill="#fff" stroke="#0000ff" stroke-width="2"/>
<rect x="1238.23" y="599.28" width="7.98" height="7.98" fill="#0000ff"/>
<rect x="1237.05" y="603.4" width="7.98" height="7.98" fill="#0000ff"/>
<rect x="1239.41" y="604.29" width="7.98" height="7.98" fill="#0000ff"/>
<rect x="1238.23" y="614.6" width="7.98" height="7.98" fill="#0000ff"/>
<line x1="1295.28" y1="592.06" x2="1295.28" y2="596.49" stroke="#0000ff" stroke-width="2" />
<line x1="1295.28" y1="608.28" x2="1295.28" y2="618.59" stroke="#0000ff" stroke-width="2" />
<rect x="1291.28" y="596.49" width="8" height="11.79" fill="#fff" stroke="#0000ff" stroke-width="2"/>
<rect x="1291.29" y="588.07" width="7.98" height="7.98" fill="#0000ff"/>
<rect x="1290.11" y="595.44" width="7.98" height="7.98" fill="#0000ff"/>
<rect x="1292.47" y="597.51" width="7.98" height="7.98" fill="#0000ff"/>
<rect x="1291.29" y="614.6" width="7.98" height="7.98" fill="#0000ff"/>
<line x1="1348.05" y1="585.58" x2="1348.05" y2="589.12" stroke="#0000ff" stroke-width="2" />
<line x1="1348.05" y1="606.8" x2="1348.05" y2="615.65" stroke="#0000ff" stroke-width="2" />
<rect x="1344.05" y="589.12" width="8" height="17.69" fill="#fff" stroke="#0000ff" stroke-width="2"/>
<rect x="1344.06" y="582.18" width="7.98" height="7.98" fill="#0000ff"/>
<rect x="1342.88" y="588.07" width="7.98" height="7.98" fill="#0000ff"/>
<rect x="1345.24" y="592.5" width="7.98" height="7.98" fill="#0000ff"/>
<rect x="1343.47" y="598.39" width="7.98" height="7.98" fill="#0000ff"/>
<rect x="1344.06" y="611.07" width="7.98" height="7.98" fill="#0000ff"/>
<line x1="1400.23" y1="578.21" x2="1400.23" y2="580.27" stroke="#0000ff" stroke-width="2" />
<line x1="1400.23" y1="592.06" x2="1400.23" y2="603.85" stroke="#0000ff" stroke-width="2" />
<rect x="1396.23" y="580.27" width="8" height="11.79" fill="#fff" stroke="#0000ff" stroke-width="2"/>
<rect x="1395.06" y="574.81" width="7.98" height="7.98" fill="#0000ff"/>
<rect x="1397.71" y="575.69" width="7.98" height="7.98" fill="#0000ff"/>
<rect x="1396.24" y="585.13" width="7.98" height="7.98" fill="#0000ff"/>
<rect x="1396.24" y="599.86" width="7.98" height="7.98" fill="#0000ff"/>
<line x1="1453.29" y1="528.1" x2="1453.29" y2="555.22" stroke="#0000ff" stroke-width="2" />
<line x1="1453.29" y1="592.06" x2="1453.29" y2="601.5" stroke="#0000ff" stroke-width="2" />
<rect x="1449.29" y="555.22" width="8" height="36.85" fill="#fff" stroke="#0000ff" stroke-width="2"/>
<rect x="1449.3" y="524.11" width="7.98" height="7.98" fill="#0000ff"/>
<rect x="1449.3" y="555.65" width="7.98" height="7.98" fill="#0000ff"/>
<rect x="1448.12" y="567.44" width="7.98" height="7.98" fill="#0000ff"/>
<rect x="1450.48" y="568.03" width="7.98" height="7.98" fill="#0000ff"/>
<rect x="1449.3" y="585.13" width="7.98" height="7.98" fill="#0000ff"/>
<rect x="1449.3" y="596.92" width="7.98" height="7.98" fill="#0000ff"/>
<line x1="1505.76" y1="549.32" x2="1505.76" y2="553.74" stroke="#0000ff" stroke-width="2" />
<line x1="1505.76" y1="583.22" x2="1505.76" y2="583.81" stroke="#0000ff" stroke-width="2" />
<rect x="1501.76" y="553.74" width="8" height="29.48" fill="#fff" stroke="#0000ff" stroke-width="2"/>
<rect x="1501.77" y="545.33" width="7.98" height="7.98" fill="#0000ff"/>
<rect x="1500.59" y="558.6" width="7.98" height="7.98" fill="#0000ff"/>
<rect x="1502.95" y="560.07" width="7.98" height="7.98" fill="#0000ff"/>
<rect x="1501.77" y="576.87" width="7.98" height="7.98" fill="#0000ff"/>
<line x1="1204.2" y1="613.29" x2="1204.2" y2="615.65" stroke="#0a8a0a" stroke-width="2" />
<line x1="1204.2" y1="624.49" x2="1204.2" y2="626.85" stroke="#0a8a0a" stroke-width="2" />
<rect x="1200.2" y="615.65" width="8" height="8.84" fill="#fff" stroke="#0a8a0a" stroke-width="2"/>
<path d="M1204.2 609.25L1208.83 617.85L1199.56 617.85Z" fill="#0a8a0a"/>
<path d="M1202.72 613.37L1207.35 621.97L1198.09 621.97Z" fill="#0a8a0a"/>
<path d="M1205.67 614.55L1210.3 623.15L1201.04 623.15Z" fill="#0a8a0a"/>
<path d="M1204.2 618.39L1208.83 626.98L1199.56 626.98Z" fill="#0a8a0a"/>
<path d="M1203.61 621.63L1208.24 630.23L1198.97 630.23Z" fill="#0a8a0a"/>
<line x1="1256.96" y1="589.12" x2="1256.96" y2="603.85" stroke="#0a8a0a" stroke-width="2" />
<line x1="1256.96" y1="620.07" x2="1256.96" y2="622.13" stroke="#0a8a0a" stroke-width="2" />
<rect x="1252.96" y="603.85" width="8" height="16.21" fill="#fff" stroke="#0a8a0a" stroke-width="2"/>
<path d="M1256.96 584.49L1261.59 593.08L1252.33 593.08Z" fill="#0a8a0a"/>
<path d="M1256.96 603.65L1261.59 612.25L1252.33 612.25Z" fill="#0a8a0a"/>
<path d="M1255.78 611.02L1260.41 619.62L1251.15 619.62Z" fill="#0a8a0a"/>
<path d="M1258.14 611.61L1262.77 620.2L1253.51 620.2Z" fill="#0a8a0a"/>
<path d="M1256.37 616.32L1261 624.92L1251.74 624.92Z" fill="#0a8a0a"/>
<line x1="1309.73" y1="578.8" x2="1309.73" y2="597.96" stroke="#0a8a0a" stroke-width="2" />
<line x1="1309.73" y1="611.22" x2="1309.73" y2="612.11" stroke="#0a8a0a" stroke-width="2" />
<rect x="1305.73" y="597.96" width="8" height="13.27" fill="#fff" stroke="#0a8a0a" stroke-width="2"/>
<path d="M1309.73 574.17L1314.36 582.77L1305.1 582.77Z" fill="#0a8a0a"/>
<path d="M1309.73 594.8L1314.36 603.4L1305.1 603.4Z" fill="#0a8a0a"/>
<path d="M1308.55 600.7L1313.18 609.3L1303.92 609.3Z" fill="#0a8a0a"/>
<path d="M1310.91 602.17L1315.54 610.77L1306.28 610.77Z" fill="#0a8a0a"/>
<path d="M1309.14 606.3L1313.77 614.9L1304.51 614.9Z" fill="#0a8a0a"/>
<line x1="1361.9" y1="557.57" x2="1361.9" y2="581.75" stroke="#0a8a0a" stroke-width="2" />
<line x1="1361.9" y1="599.43" x2="1361.9" y2="606.8" stroke="#0a8a0a" stroke-width="2" />
<rect x="1357.9" y="581.75" width="8" height="17.69" fill="#fff" stroke="#0a8a0a" stroke-width="2"/>
<path d="M1361.9 552.94L1366.54 561.54L1357.27 561.54Z" fill="#0a8a0a"/>
<path d="M1361.9 580.06L1366.54 588.66L1357.27 588.66Z" fill="#0a8a0a"/>
<path d="M1360.73 588.91L1365.36 597.51L1356.1 597.51Z" fill="#0a8a0a"/>
<path d="M1363.08 593.92L1367.71 602.52L1358.45 602.52Z" fill="#0a8a0a"/>
<path d="M1361.32 601.58L1365.95 610.18L1356.68 610.18Z" fill="#0a8a0a"/>
<line x1="1414.38" y1="570.84" x2="1414.38" y2="577.32" stroke="#0a8a0a" stroke-width="2" />
<line x1="1414.38" y1="592.06" x2="1414.38" y2="599.43" stroke="#0a8a0a" stroke-width="2" />
<rect x="1410.38" y="577.32" width="8" height="14.74" fill="#fff" stroke="#0a8a0a" stroke-width="2"/>
<path d="M1414.38 566.8L1419.01 575.4L1409.75 575.4Z" fill="#0a8a0a"/>
<path d="M1414.38 575.64L1419.01 584.24L1409.75 584.24Z" fill="#0a8a0a"/>
<path d="M1413.2 581.54L1417.83 590.14L1408.57 590.14Z" fill="#0a8a0a"/>
<path d="M1415.56 585.07L1420.19 593.67L1410.93 593.67Z" fill="#0a8a0a"/>
<path d="M1414.38 594.21L1419.01 602.81L1409.75 602.81Z" fill="#0a8a0a"/>
<line x1="1466.85" y1="553.15" x2="1466.85" y2="559.05" stroke="#0a8a0a" stroke-width="2" />
<line x1="1466.85" y1="584.69" x2="1466.85" y2="590.59" stroke="#0a8a0a" stroke-width="2" />
<rect x="1462.85" y="559.05" width="8" height="25.65" fill="#fff" stroke="#0a8a0a" stroke-width="2"/>
<path d="M1466.85 549.11L1471.48 557.71L1462.22 557.71Z" fill="#0a8a0a"/>
<path d="M1465.67 555.6L1470.3 564.2L1461.04 564.2Z" fill="#0a8a0a"/>
<path d="M1468.32 556.48L1472.95 565.08L1463.69 565.08Z" fill="#0a8a0a"/>
<path d="M1466.85 565.32L1471.48 573.92L1462.22 573.92Z" fill="#0a8a0a"/>
<path d="M1465.67 574.17L1470.3 582.77L1461.04 582.77Z" fill="#0a8a0a"/>
<path d="M1468.03 578.59L1472.66 587.19L1463.4 587.19Z" fill="#0a8a0a"/>
<path d="M1466.85 585.37L1471.48 593.97L1462.22 593.97Z" fill="#0a8a0a"/>
<line x1="1519.91" y1="552.27" x2="1519.91" y2="555.22" stroke="#0a8a0a" stroke-width="2" />
<line x1="1519.91" y1="572.9" x2="1519.91" y2="573.79" stroke="#0a8a0a" stroke-width="2" />
<rect x="1515.91" y="555.22" width="8" height="17.69" fill="#fff" stroke="#0a8a0a" stroke-width="2"/>
<path d="M1519.91 548.23L1524.54 556.83L1515.28 556.83Z" fill="#0a8a0a"/>
<path d="M1518.73 553.53L1523.36 562.13L1514.1 562.13Z" fill="#0a8a0a"/>
<path d="M1521.09 556.48L1525.72 565.08L1516.46 565.08Z" fill="#0a8a0a"/>
<path d="M1519.91 562.38L1524.54 570.98L1515.28 570.98Z" fill="#0a8a0a"/>
<path d="M1519.91 567.68L1524.54 576.28L1515.28 576.28Z" fill="#0a8a0a"/>
</g>
<g id="p-e">
<text transform="translate(1546.5,270.57) scale(0.95,1)" font-size="39.7" font-weight="bold">e</text>
<text transform="translate(1808.53,288.14)" font-size="23" font-weight="bold" text-anchor="middle" textLength="241.2" lengthAdjust="spacingAndGlyphs">Osimertinib response</text>
<text transform="translate(1808.53,316.54)" font-size="23" font-weight="bold" text-anchor="middle" textLength="236.07" lengthAdjust="spacingAndGlyphs">H1975 vs H1975-OsiR</text>
<rect x="1701.73" y="425.51" width="18.89" height="177.93" fill="#fff" stroke="#000" stroke-width="2.3"/>
<line x1="1711.18" y1="399.82" x2="1711.18" y2="449.31" stroke="#333" stroke-width="1" />
<line x1="1705.68" y1="399.82" x2="1716.68" y2="399.82" stroke="#333" stroke-width="1" />
<line x1="1705.68" y1="449.31" x2="1716.68" y2="449.31" stroke="#333" stroke-width="1" />
<rect x="1736.07" y="572.88" width="19.43" height="30.56" fill="#fff" stroke="#000" stroke-width="2.3"/>
<line x1="1745.79" y1="566.66" x2="1745.79" y2="579.1" stroke="#333" stroke-width="1" />
<line x1="1740.29" y1="566.66" x2="1751.29" y2="566.66" stroke="#333" stroke-width="1" />
<line x1="1740.29" y1="579.1" x2="1751.29" y2="579.1" stroke="#333" stroke-width="1" />
<rect x="1770.69" y="585.59" width="19.43" height="17.85" fill="#fff" stroke="#000" stroke-width="2.3"/>
<line x1="1780.4" y1="583.7" x2="1780.4" y2="587.76" stroke="#333" stroke-width="1" />
<line x1="1774.9" y1="583.7" x2="1785.9" y2="583.7" stroke="#333" stroke-width="1" />
<line x1="1774.9" y1="587.76" x2="1785.9" y2="587.76" stroke="#333" stroke-width="1" />
<rect x="1828.55" y="525.56" width="19.43" height="77.88" fill="#fff" stroke="#000" stroke-width="2.3"/>
<line x1="1838.27" y1="511.5" x2="1838.27" y2="538.54" stroke="#333" stroke-width="1" />
<line x1="1832.77" y1="511.5" x2="1843.77" y2="511.5" stroke="#333" stroke-width="1" />
<line x1="1832.77" y1="538.54" x2="1843.77" y2="538.54" stroke="#333" stroke-width="1" />
<rect x="1862.63" y="570.72" width="19.97" height="32.72" fill="#fff" stroke="#000" stroke-width="2.3"/>
<line x1="1872.61" y1="566.12" x2="1872.61" y2="574.78" stroke="#333" stroke-width="1" />
<line x1="1867.11" y1="566.12" x2="1878.11" y2="566.12" stroke="#333" stroke-width="1" />
<line x1="1867.11" y1="574.78" x2="1878.11" y2="574.78" stroke="#333" stroke-width="1" />
<rect x="1896.97" y="570.72" width="19.97" height="32.72" fill="#fff" stroke="#000" stroke-width="2.3"/>
<line x1="1906.95" y1="566.93" x2="1906.95" y2="574.23" stroke="#333" stroke-width="1" />
<line x1="1901.45" y1="566.93" x2="1912.45" y2="566.93" stroke="#333" stroke-width="1" />
<line x1="1901.45" y1="574.23" x2="1912.45" y2="574.23" stroke="#333" stroke-width="1" />
<line x1="1688.46" y1="349.34" x2="1688.46" y2="604.44" stroke="#000" stroke-width="2" />
<line x1="1678.73" y1="603.44" x2="1931.02" y2="603.44" stroke="#000" stroke-width="2" />
<line x1="1678.73" y1="350.34" x2="1688.46" y2="350.34" stroke="#000" stroke-width="2" />
<text transform="translate(1675.23,356.29) scale(0.94,1)" font-size="19" font-weight="bold" text-anchor="end">600</text>
<line x1="1678.73" y1="434.97" x2="1688.46" y2="434.97" stroke="#000" stroke-width="2" />
<text transform="translate(1675.23,440.93) scale(0.94,1)" font-size="19" font-weight="bold" text-anchor="end">400</text>
<line x1="1678.73" y1="518.8" x2="1688.46" y2="518.8" stroke="#000" stroke-width="2" />
<text transform="translate(1675.23,524.75) scale(0.94,1)" font-size="19" font-weight="bold" text-anchor="end">200</text>
<line x1="1678.73" y1="603.44" x2="1688.46" y2="603.44" stroke="#000" stroke-width="2" />
<text transform="translate(1675.23,609.39) scale(0.94,1)" font-size="19" font-weight="bold" text-anchor="end">0</text>
<line x1="1745.25" y1="603.44" x2="1745.25" y2="613.17" stroke="#000" stroke-width="2" />
<text transform="translate(1745.25,633.72) scale(0.94,1)" font-size="19" font-weight="bold" text-anchor="middle">H1975</text>
<line x1="1872.07" y1="603.44" x2="1872.07" y2="613.17" stroke="#000" stroke-width="2" />
<text transform="translate(1872.07,633.72) scale(0.94,1)" font-size="19" font-weight="bold" text-anchor="middle">H1975-OsiR</text>
<text transform="translate(1630.06,476.35) rotate(-90)" font-size="26.5" font-weight="bold" text-anchor="middle" textLength="323.14" lengthAdjust="spacingAndGlyphs">Tumor volume (mm<tspan dy="-10.07" font-size="18.02">3</tspan><tspan dy="10.07">) at D39</tspan></text>
<circle cx="1711.18" cy="366.56" r="4" fill="#000"/>
<circle cx="1703.34" cy="422.27" r="4" fill="#000"/>
<circle cx="1719.29" cy="422.27" r="4" fill="#000"/>
<circle cx="1711.18" cy="487.7" r="4" fill="#000"/>
<rect x="1733.88" y="553.4" width="7.6" height="7.6" fill="#000"/>
<rect x="1741.99" y="558.81" width="7.6" height="7.6" fill="#000"/>
<rect x="1733.88" y="581.25" width="7.6" height="7.6" fill="#000"/>
<rect x="1748.75" y="575.03" width="7.6" height="7.6" fill="#000"/>
<rect x="1741.99" y="575.03" width="7.6" height="7.6" fill="#000"/>
<path d="M1772.83 579.29L1777.24 587.48L1768.42 587.48Z" fill="#000"/>
<path d="M1780.13 579.29L1784.54 587.48L1775.72 587.48Z" fill="#000"/>
<path d="M1787.7 579.29L1792.11 587.48L1783.29 587.48Z" fill="#000"/>
<path d="M1776.35 581.18L1780.76 589.37L1771.94 589.37Z" fill="#000"/>
<path d="M1786.35 585.51L1790.76 593.7L1781.94 593.7Z" fill="#000"/>
<circle cx="1837.73" cy="487.7" r="4" fill="#000"/>
<circle cx="1837.73" cy="524.21" r="4" fill="#000"/>
<circle cx="1830.16" cy="545.84" r="4" fill="#000"/>
<circle cx="1845.84" cy="543.14" r="4" fill="#000"/>
<rect x="1868.54" y="559.62" width="7.6" height="7.6" fill="#000"/>
<rect x="1876.38" y="556.37" width="7.6" height="7.6" fill="#000"/>
<rect x="1860.97" y="573.14" width="7.6" height="7.6" fill="#000"/>
<rect x="1868.54" y="573.68" width="7.6" height="7.6" fill="#000"/>
<rect x="1876.38" y="573.14" width="7.6" height="7.6" fill="#000"/>
<path d="M1907.22 559.01L1911.63 567.2L1902.81 567.2Z" fill="#000"/>
<path d="M1914.8 559.01L1919.21 567.2L1910.39 567.2Z" fill="#000"/>
<path d="M1899.92 567.12L1904.33 575.31L1895.51 575.31Z" fill="#000"/>
<path d="M1907.22 567.12L1911.63 575.31L1902.81 575.31Z" fill="#000"/>
<path d="M1914.8 571.18L1919.21 579.37L1910.39 579.37Z" fill="#000"/>
<path d="M1899.92 577.94L1904.33 586.13L1895.51 586.13Z" fill="#000"/>
<line x1="1716.86" y1="407.12" x2="1750.66" y2="407.12" stroke="#000" stroke-width="2" />
<line x1="1747.95" y1="540.16" x2="1782.3" y2="540.16" stroke="#000" stroke-width="2" />
<line x1="1839.08" y1="473.37" x2="1870.99" y2="473.37" stroke="#000" stroke-width="2" />
<line x1="1875.05" y1="545.03" x2="1909.39" y2="545.03" stroke="#000" stroke-width="2" />
<text transform="translate(1733.62,403.88)" font-size="21" text-anchor="middle">***</text>
<text transform="translate(1763.91,536.38)" font-size="21" text-anchor="middle">*</text>
<text transform="translate(1854.49,467.69)" font-size="21" text-anchor="middle">**</text>
<text transform="translate(1893.7,539.08)" font-size="17" font-weight="bold" font-style="italic" text-anchor="middle">ns</text>
<circle cx="1721.99" cy="657.25" r="4" fill="#000"/>
<rect x="1718.19" y="676.43" width="7.6" height="7.6" fill="#000"/>
<path d="M1721.99 700.64L1726.19 708.44L1717.79 708.44Z" fill="#000"/>
<text transform="translate(1749.85,663.47)" font-size="17.5" font-weight="bold" font-style="italic" textLength="63.01" lengthAdjust="spacingAndGlyphs">Control</text>
<text transform="translate(1749.85,686.45)" font-size="17.5" font-weight="bold" font-style="italic" textLength="179.01" lengthAdjust="spacingAndGlyphs">Osimertinib (5mg/kg)</text>
<text transform="translate(1749.85,710.79)" font-size="17.5" font-weight="bold" font-style="italic" textLength="188.74" lengthAdjust="spacingAndGlyphs">Osimertinib (10mg/kg)</text>
</g>
<g id="p-f1_heatmap">
<text transform="translate(36.5,732.93) scale(0.95,1)" font-size="43" font-weight="bold">f</text>
<text transform="translate(81.56,781.19)" font-size="33" font-weight="bold" textLength="102.52" lengthAdjust="spacingAndGlyphs">H1975</text>
<text transform="translate(275,781.19)" font-size="33" font-weight="bold" textLength="187.07" lengthAdjust="spacingAndGlyphs">H1975-OsiR</text>
<rect x="48.27" y="798.78" width="206.53" height="14.03" fill="#00ff00"/>
<rect x="254.8" y="798.78" width="206.53" height="14.03" fill="#ff0000"/>
<rect x="48.27" y="812.62" width="413.06" height="14.59" fill="#00ff00"/>
<text transform="translate(38.16,810) scale(0.88,1)" font-size="9.5" text-anchor="end" fill="#222">Celline</text>
<text transform="translate(38.16,824.59) scale(0.88,1)" font-size="9.5" text-anchor="end" fill="#222">Treatmen</text>
<g shape-rendering="crispEdges">
<rect x="48.27" y="833.57" width="69.14" height="4.58" fill="#8a8aff"/>
<rect x="48.27" y="837.85" width="69.14" height="4.58" fill="#e8e8ff"/>
<rect x="48.27" y="842.13" width="69.14" height="4.58" fill="#d0d0ff"/>
<rect x="48.27" y="846.41" width="69.14" height="4.58" fill="#b9b9ff"/>
<rect x="48.27" y="850.69" width="69.14" height="4.58" fill="#ffffff"/>
<rect x="48.27" y="854.97" width="69.14" height="17.42" fill="#8a8aff"/>
<rect x="48.27" y="872.09" width="69.14" height="4.58" fill="#a1a1ff"/>
<rect x="48.27" y="876.38" width="69.14" height="4.58" fill="#d0d0ff"/>
<rect x="48.27" y="880.66" width="69.14" height="4.58" fill="#b9b9ff"/>
<rect x="48.27" y="884.94" width="69.14" height="4.58" fill="#a1a1ff"/>
<rect x="48.27" y="889.22" width="69.14" height="13.14" fill="#8a8aff"/>
<rect x="48.27" y="902.06" width="69.14" height="4.58" fill="#b9b9ff"/>
<rect x="48.27" y="906.34" width="69.14" height="4.58" fill="#7272ff"/>
<rect x="48.27" y="910.62" width="69.14" height="4.58" fill="#a1a1ff"/>
<rect x="48.27" y="914.9" width="69.14" height="4.58" fill="#d0d0ff"/>
<rect x="48.27" y="919.18" width="69.14" height="4.58" fill="#a1a1ff"/>
<rect x="48.27" y="923.46" width="69.14" height="4.58" fill="#d0d0ff"/>
<rect x="48.27" y="927.74" width="69.14" height="8.86" fill="#a1a1ff"/>
<rect x="48.27" y="936.3" width="69.14" height="4.58" fill="#b9b9ff"/>
<rect x="48.27" y="940.58" width="69.14" height="8.86" fill="#a1a1ff"/>
<rect x="48.27" y="949.14" width="69.14" height="8.86" fill="#b9b9ff"/>
<rect x="48.27" y="957.7" width="69.14" height="8.86" fill="#a1a1ff"/>
<rect x="48.27" y="966.26" width="69.14" height="4.58" fill="#b9b9ff"/>
<rect x="48.27" y="970.54" width="69.14" height="4.58" fill="#a1a1ff"/>
<rect x="48.27" y="974.82" width="69.14" height="4.58" fill="#b9b9ff"/>
<rect x="48.27" y="979.1" width="69.14" height="4.58" fill="#d0d0ff"/>
<rect x="48.27" y="983.38" width="69.14" height="4.58" fill="#b9b9ff"/>
<rect x="48.27" y="987.66" width="69.14" height="4.58" fill="#a1a1ff"/>
<rect x="48.27" y="991.95" width="69.14" height="4.58" fill="#ffffff"/>
<rect x="48.27" y="996.23" width="69.14" height="4.58" fill="#8a8aff"/>
<rect x="48.27" y="1000.51" width="69.14" height="4.58" fill="#a1a1ff"/>
<rect x="48.27" y="1004.79" width="69.14" height="17.42" fill="#5b5bff"/>
<rect x="48.27" y="1021.91" width="69.14" height="4.58" fill="#7272ff"/>
<rect x="48.27" y="1026.19" width="69.14" height="13.14" fill="#5b5bff"/>
<rect x="48.27" y="1039.03" width="69.14" height="4.58" fill="#4343ff"/>
<rect x="48.27" y="1043.31" width="69.14" height="4.58" fill="#7272ff"/>
<rect x="48.27" y="1047.59" width="69.14" height="8.86" fill="#5b5bff"/>
<rect x="48.27" y="1056.15" width="69.14" height="8.86" fill="#7272ff"/>
<rect x="48.27" y="1064.71" width="69.14" height="4.58" fill="#4343ff"/>
<rect x="48.27" y="1068.99" width="69.14" height="8.86" fill="#7272ff"/>
<rect x="48.27" y="1077.55" width="69.14" height="4.58" fill="#4343ff"/>
<rect x="48.27" y="1081.83" width="69.14" height="4.58" fill="#7272ff"/>
<rect x="48.27" y="1086.11" width="69.14" height="4.58" fill="#2c2cff"/>
<rect x="48.27" y="1090.39" width="69.14" height="4.58" fill="#4343ff"/>
<rect x="48.27" y="1094.67" width="69.14" height="4.58" fill="#5b5bff"/>
<rect x="48.27" y="1098.95" width="69.14" height="8.86" fill="#ff8a8a"/>
<rect x="48.27" y="1107.52" width="69.14" height="13.14" fill="#ffd0d0"/>
<rect x="48.27" y="1120.36" width="69.14" height="8.86" fill="#ffa1a1"/>
<rect x="48.27" y="1128.92" width="69.14" height="8.86" fill="#ff8a8a"/>
<rect x="48.27" y="1137.48" width="69.14" height="4.58" fill="#ff7272"/>
<rect x="48.27" y="1141.76" width="69.14" height="13.14" fill="#ffb9b9"/>
<rect x="48.27" y="1154.6" width="69.14" height="4.58" fill="#ffd0d0"/>
<rect x="48.27" y="1158.88" width="69.14" height="4.58" fill="#ffa1a1"/>
<rect x="48.27" y="1163.16" width="69.14" height="4.58" fill="#ffb9b9"/>
<rect x="48.27" y="1167.44" width="69.14" height="4.58" fill="#ff8a8a"/>
<rect x="48.27" y="1171.72" width="69.14" height="4.58" fill="#ffa1a1"/>
<rect x="48.27" y="1176" width="69.14" height="4.58" fill="#ffd0d0"/>
<rect x="48.27" y="1180.28" width="69.14" height="4.58" fill="#ffa1a1"/>
<rect x="48.27" y="1184.56" width="69.14" height="4.58" fill="#ffd0d0"/>
<rect x="48.27" y="1188.84" width="69.14" height="4.58" fill="#ffb9b9"/>
<rect x="48.27" y="1193.12" width="69.14" height="4.58" fill="#ff8a8a"/>
<rect x="48.27" y="1197.4" width="69.14" height="4.58" fill="#ffe8e8"/>
<rect x="48.27" y="1201.68" width="69.14" height="4.58" fill="#ffd0d0"/>
<rect x="48.27" y="1205.96" width="69.14" height="8.86" fill="#ffb9b9"/>
<rect x="48.27" y="1214.52" width="69.14" height="4.58" fill="#ffd0d0"/>
<rect x="48.27" y="1218.8" width="69.14" height="4.58" fill="#ffb9b9"/>
<rect x="48.27" y="1223.09" width="69.14" height="8.86" fill="#ff7272"/>
<rect x="48.27" y="1231.65" width="69.14" height="8.86" fill="#ffa1a1"/>
<rect x="48.27" y="1240.21" width="69.14" height="8.86" fill="#ff8a8a"/>
<rect x="48.27" y="1248.77" width="69.14" height="8.86" fill="#ffa1a1"/>
<rect x="48.27" y="1257.33" width="69.14" height="8.86" fill="#ff8a8a"/>
<rect x="48.27" y="1265.89" width="69.14" height="8.86" fill="#ffa1a1"/>
<rect x="48.27" y="1274.45" width="69.14" height="4.58" fill="#ffb9b9"/>
<rect x="48.27" y="1278.73" width="69.14" height="8.86" fill="#ffa1a1"/>
<rect x="48.27" y="1287.29" width="69.14" height="13.14" fill="#ff2c2c"/>
<rect x="48.27" y="1300.13" width="69.14" height="4.58" fill="#ff8a8a"/>
<rect x="48.27" y="1304.41" width="69.14" height="4.58" fill="#ffd0d0"/>
<rect x="48.27" y="1308.69" width="69.14" height="4.58" fill="#ff2c2c"/>
<rect x="48.27" y="1312.97" width="69.14" height="4.58" fill="#ff8a8a"/>
<rect x="48.27" y="1317.25" width="69.14" height="8.86" fill="#ffa1a1"/>
<rect x="48.27" y="1325.81" width="69.14" height="4.58" fill="#ff8a8a"/>
<rect x="48.27" y="1330.09" width="69.14" height="4.58" fill="#ffa1a1"/>
<rect x="48.27" y="1334.37" width="69.14" height="4.58" fill="#ffb9b9"/>
<rect x="48.27" y="1338.66" width="69.14" height="8.86" fill="#ff8a8a"/>
<rect x="48.27" y="1347.22" width="69.14" height="4.58" fill="#ff7272"/>
<rect x="48.27" y="1351.5" width="69.14" height="4.58" fill="#ffb9b9"/>
<rect x="48.27" y="1355.78" width="69.14" height="4.58" fill="#ff7272"/>
<rect x="48.27" y="1360.06" width="69.14" height="4.58" fill="#ff5b5b"/>
<rect x="48.27" y="1364.34" width="69.14" height="13.14" fill="#ff8a8a"/>
<rect x="48.27" y="1377.18" width="69.14" height="4.58" fill="#ff5b5b"/>
<rect x="48.27" y="1381.46" width="69.14" height="4.58" fill="#ff7272"/>
<rect x="48.27" y="1385.74" width="69.14" height="8.86" fill="#ff5b5b"/>
<rect x="48.27" y="1394.3" width="69.14" height="8.86" fill="#ff4343"/>
<rect x="48.27" y="1402.86" width="69.14" height="4.58" fill="#ff5b5b"/>
<rect x="48.27" y="1407.14" width="69.14" height="4.58" fill="#ff4343"/>
<rect x="48.27" y="1411.42" width="69.14" height="4.58" fill="#ff1414"/>
<rect x="48.27" y="1415.7" width="69.14" height="17.12" fill="#ff7272"/>
<rect x="117.11" y="833.57" width="69.14" height="8.86" fill="#4343ff"/>
<rect x="117.11" y="842.13" width="69.14" height="4.58" fill="#8a8aff"/>
<rect x="117.11" y="846.41" width="69.14" height="4.58" fill="#a1a1ff"/>
<rect x="117.11" y="850.69" width="69.14" height="4.58" fill="#b9b9ff"/>
<rect x="117.11" y="854.97" width="69.14" height="4.58" fill="#ffffff"/>
<rect x="117.11" y="859.25" width="69.14" height="4.58" fill="#e8e8ff"/>
<rect x="117.11" y="863.53" width="69.14" height="4.58" fill="#a1a1ff"/>
<rect x="117.11" y="867.81" width="69.14" height="4.58" fill="#e8e8ff"/>
<rect x="117.11" y="872.09" width="69.14" height="4.58" fill="#ffffff"/>
<rect x="117.11" y="876.38" width="69.14" height="4.58" fill="#e8e8ff"/>
<rect x="117.11" y="880.66" width="69.14" height="13.14" fill="#b9b9ff"/>
<rect x="117.11" y="893.5" width="69.14" height="4.58" fill="#ffffff"/>
<rect x="117.11" y="897.78" width="69.14" height="4.58" fill="#a1a1ff"/>
<rect x="117.11" y="902.06" width="69.14" height="4.58" fill="#ffffff"/>
<rect x="117.11" y="906.34" width="69.14" height="4.58" fill="#8a8aff"/>
<rect x="117.11" y="910.62" width="69.14" height="4.58" fill="#5b5bff"/>
<rect x="117.11" y="914.9" width="69.14" height="4.58" fill="#7272ff"/>
<rect x="117.11" y="919.18" width="69.14" height="4.58" fill="#8a8aff"/>
<rect x="117.11" y="923.46" width="69.14" height="4.58" fill="#a1a1ff"/>
<rect x="117.11" y="927.74" width="69.14" height="17.42" fill="#8a8aff"/>
<rect x="117.11" y="944.86" width="69.14" height="13.14" fill="#7272ff"/>
<rect x="117.11" y="957.7" width="69.14" height="4.58" fill="#8a8aff"/>
<rect x="117.11" y="961.98" width="69.14" height="8.86" fill="#7272ff"/>
<rect x="117.11" y="970.54" width="69.14" height="13.14" fill="#8a8aff"/>
<rect x="117.11" y="983.38" width="69.14" height="4.58" fill="#a1a1ff"/>
<rect x="117.11" y="987.66" width="69.14" height="4.58" fill="#8a8aff"/>
<rect x="117.11" y="991.95" width="69.14" height="4.58" fill="#b9b9ff"/>
<rect x="117.11" y="996.23" width="69.14" height="4.58" fill="#8a8aff"/>
<rect x="117.11" y="1000.51" width="69.14" height="8.86" fill="#a1a1ff"/>
<rect x="117.11" y="1009.07" width="69.14" height="4.58" fill="#b9b9ff"/>
<rect x="117.11" y="1013.35" width="69.14" height="4.58" fill="#d0d0ff"/>
<rect x="117.11" y="1017.63" width="69.14" height="4.58" fill="#e8e8ff"/>
<rect x="117.11" y="1021.91" width="69.14" height="4.58" fill="#a1a1ff"/>
<rect x="117.11" y="1026.19" width="69.14" height="8.86" fill="#d0d0ff"/>
<rect x="117.11" y="1034.75" width="69.14" height="13.14" fill="#b9b9ff"/>
<rect x="117.11" y="1047.59" width="69.14" height="4.58" fill="#a1a1ff"/>
<rect x="117.11" y="1051.87" width="69.14" height="13.14" fill="#8a8aff"/>
<rect x="117.11" y="1064.71" width="69.14" height="4.58" fill="#a1a1ff"/>
<rect x="117.11" y="1068.99" width="69.14" height="8.86" fill="#8a8aff"/>
<rect x="117.11" y="1077.55" width="69.14" height="8.86" fill="#b9b9ff"/>
<rect x="117.11" y="1086.11" width="69.14" height="13.14" fill="#a1a1ff"/>
<rect x="117.11" y="1098.95" width="69.14" height="13.14" fill="#ffa1a1"/>
<rect x="117.11" y="1111.8" width="69.14" height="13.14" fill="#ff8a8a"/>
<rect x="117.11" y="1124.64" width="69.14" height="4.58" fill="#ffa1a1"/>
<rect x="117.11" y="1128.92" width="69.14" height="4.58" fill="#ffe8e8"/>
<rect x="117.11" y="1133.2" width="69.14" height="13.14" fill="#ffa1a1"/>
<rect x="117.11" y="1146.04" width="69.14" height="8.86" fill="#ff7272"/>
<rect x="117.11" y="1154.6" width="69.14" height="4.58" fill="#ffa1a1"/>
<rect x="117.11" y="1158.88" width="69.14" height="4.58" fill="#ff8a8a"/>
<rect x="117.11" y="1163.16" width="69.14" height="4.58" fill="#ffa1a1"/>
<rect x="117.11" y="1167.44" width="69.14" height="8.86" fill="#ff8a8a"/>
<rect x="117.11" y="1176" width="69.14" height="4.58" fill="#ffa1a1"/>
<rect x="117.11" y="1180.28" width="69.14" height="4.58" fill="#ff7272"/>
<rect x="117.11" y="1184.56" width="69.14" height="4.58" fill="#ff8a8a"/>
<rect x="117.11" y="1188.84" width="69.14" height="4.58" fill="#ffa1a1"/>
<rect x="117.11" y="1193.12" width="69.14" height="4.58" fill="#ff8a8a"/>
<rect x="117.11" y="1197.4" width="69.14" height="13.14" fill="#ff7272"/>
<rect x="117.11" y="1210.24" width="69.14" height="4.58" fill="#ff5b5b"/>
<rect x="117.11" y="1214.52" width="69.14" height="13.14" fill="#ff7272"/>
<rect x="117.11" y="1227.37" width="69.14" height="4.58" fill="#ff5b5b"/>
<rect x="117.11" y="1231.65" width="69.14" height="8.86" fill="#ff4343"/>
<rect x="117.11" y="1240.21" width="69.14" height="4.58" fill="#ff7272"/>
<rect x="117.11" y="1244.49" width="69.14" height="4.58" fill="#ff8a8a"/>
<rect x="117.11" y="1248.77" width="69.14" height="4.58" fill="#ff7272"/>
<rect x="117.11" y="1253.05" width="69.14" height="4.58" fill="#ff8a8a"/>
<rect x="117.11" y="1257.33" width="69.14" height="4.58" fill="#ff7272"/>
<rect x="117.11" y="1261.61" width="69.14" height="4.58" fill="#ff8a8a"/>
<rect x="117.11" y="1265.89" width="69.14" height="4.58" fill="#ff5b5b"/>
<rect x="117.11" y="1270.17" width="69.14" height="4.58" fill="#ff8a8a"/>
<rect x="117.11" y="1274.45" width="69.14" height="13.14" fill="#ff7272"/>
<rect x="117.11" y="1287.29" width="69.14" height="4.58" fill="#ffe8e8"/>
<rect x="117.11" y="1291.57" width="69.14" height="8.86" fill="#ffd0d0"/>
<rect x="117.11" y="1300.13" width="69.14" height="4.58" fill="#ffffff"/>
<rect x="117.11" y="1304.41" width="69.14" height="4.58" fill="#ffa1a1"/>
<rect x="117.11" y="1308.69" width="69.14" height="4.58" fill="#ff8a8a"/>
<rect x="117.11" y="1312.97" width="69.14" height="4.58" fill="#ffa1a1"/>
<rect x="117.11" y="1317.25" width="69.14" height="8.86" fill="#ff5b5b"/>
<rect x="117.11" y="1325.81" width="69.14" height="21.7" fill="#ff7272"/>
<rect x="117.11" y="1347.22" width="69.14" height="8.86" fill="#ff4343"/>
<rect x="117.11" y="1355.78" width="69.14" height="13.14" fill="#ff7272"/>
<rect x="117.11" y="1368.62" width="69.14" height="8.86" fill="#ff8a8a"/>
<rect x="117.11" y="1377.18" width="69.14" height="4.58" fill="#ffffff"/>
<rect x="117.11" y="1381.46" width="69.14" height="4.58" fill="#ffb9b9"/>
<rect x="117.11" y="1385.74" width="69.14" height="4.58" fill="#ffa1a1"/>
<rect x="117.11" y="1390.02" width="69.14" height="17.42" fill="#ffb9b9"/>
<rect x="117.11" y="1407.14" width="69.14" height="4.58" fill="#ffffff"/>
<rect x="117.11" y="1411.42" width="69.14" height="8.86" fill="#ffb9b9"/>
<rect x="117.11" y="1419.98" width="69.14" height="4.58" fill="#ff8a8a"/>
<rect x="117.11" y="1424.26" width="69.14" height="4.58" fill="#ffb9b9"/>
<rect x="117.11" y="1428.54" width="69.14" height="4.28" fill="#ff8a8a"/>
<rect x="185.95" y="833.57" width="69.14" height="8.86" fill="#d0d0ff"/>
<rect x="185.95" y="842.13" width="69.14" height="8.86" fill="#5b5bff"/>
<rect x="185.95" y="850.69" width="69.14" height="8.86" fill="#2c2cff"/>
<rect x="185.95" y="859.25" width="69.14" height="4.58" fill="#4343ff"/>
<rect x="185.95" y="863.53" width="69.14" height="8.86" fill="#5b5bff"/>
<rect x="185.95" y="872.09" width="69.14" height="4.58" fill="#4343ff"/>
<rect x="185.95" y="876.38" width="69.14" height="8.86" fill="#2c2cff"/>
<rect x="185.95" y="884.94" width="69.14" height="4.58" fill="#4343ff"/>
<rect x="185.95" y="889.22" width="69.14" height="4.58" fill="#5b5bff"/>
<rect x="185.95" y="893.5" width="69.14" height="4.58" fill="#4343ff"/>
<rect x="185.95" y="897.78" width="69.14" height="4.58" fill="#7272ff"/>
<rect x="185.95" y="902.06" width="69.14" height="4.58" fill="#1414ff"/>
<rect x="185.95" y="906.34" width="69.14" height="8.86" fill="#8a8aff"/>
<rect x="185.95" y="914.9" width="69.14" height="4.58" fill="#5b5bff"/>
<rect x="185.95" y="919.18" width="69.14" height="4.58" fill="#7272ff"/>
<rect x="185.95" y="923.46" width="69.14" height="4.58" fill="#2c2cff"/>
<rect x="185.95" y="927.74" width="69.14" height="21.7" fill="#7272ff"/>
<rect x="185.95" y="949.14" width="69.14" height="25.98" fill="#8a8aff"/>
<rect x="185.95" y="974.82" width="69.14" height="4.58" fill="#7272ff"/>
<rect x="185.95" y="979.1" width="69.14" height="4.58" fill="#5b5bff"/>
<rect x="185.95" y="983.38" width="69.14" height="4.58" fill="#4343ff"/>
<rect x="185.95" y="987.66" width="69.14" height="4.58" fill="#5b5bff"/>
<rect x="185.95" y="991.95" width="69.14" height="4.58" fill="#2c2cff"/>
<rect x="185.95" y="996.23" width="69.14" height="13.14" fill="#8a8aff"/>
<rect x="185.95" y="1009.07" width="69.14" height="4.58" fill="#a1a1ff"/>
<rect x="185.95" y="1013.35" width="69.14" height="13.14" fill="#8a8aff"/>
<rect x="185.95" y="1026.19" width="69.14" height="4.58" fill="#7272ff"/>
<rect x="185.95" y="1030.47" width="69.14" height="4.58" fill="#8a8aff"/>
<rect x="185.95" y="1034.75" width="69.14" height="4.58" fill="#7272ff"/>
<rect x="185.95" y="1039.03" width="69.14" height="4.58" fill="#a1a1ff"/>
<rect x="185.95" y="1043.31" width="69.14" height="8.86" fill="#8a8aff"/>
<rect x="185.95" y="1051.87" width="69.14" height="4.58" fill="#b9b9ff"/>
<rect x="185.95" y="1056.15" width="69.14" height="8.86" fill="#8a8aff"/>
<rect x="185.95" y="1064.71" width="69.14" height="4.58" fill="#b9b9ff"/>
<rect x="185.95" y="1068.99" width="69.14" height="4.58" fill="#8a8aff"/>
<rect x="185.95" y="1073.27" width="69.14" height="4.58" fill="#a1a1ff"/>
<rect x="185.95" y="1077.55" width="69.14" height="4.58" fill="#8a8aff"/>
<rect x="185.95" y="1081.83" width="69.14" height="4.58" fill="#a1a1ff"/>
<rect x="185.95" y="1086.11" width="69.14" height="4.58" fill="#d0d0ff"/>
<rect x="185.95" y="1090.39" width="69.14" height="4.58" fill="#a1a1ff"/>
<rect x="185.95" y="1094.67" width="69.14" height="4.58" fill="#8a8aff"/>
<rect x="185.95" y="1098.95" width="69.14" height="8.86" fill="#ff7272"/>
<rect x="185.95" y="1107.52" width="69.14" height="4.58" fill="#ff5b5b"/>
<rect x="185.95" y="1111.8" width="69.14" height="4.58" fill="#ff7272"/>
<rect x="185.95" y="1116.08" width="69.14" height="4.58" fill="#ff4343"/>
<rect x="185.95" y="1120.36" width="69.14" height="4.58" fill="#ff7272"/>
<rect x="185.95" y="1124.64" width="69.14" height="4.58" fill="#ff5b5b"/>
<rect x="185.95" y="1128.92" width="69.14" height="4.58" fill="#ff2c2c"/>
<rect x="185.95" y="1133.2" width="69.14" height="4.58" fill="#ff8a8a"/>
<rect x="185.95" y="1137.48" width="69.14" height="4.58" fill="#ff7272"/>
<rect x="185.95" y="1141.76" width="69.14" height="13.14" fill="#ff5b5b"/>
<rect x="185.95" y="1154.6" width="69.14" height="4.58" fill="#ff2c2c"/>
<rect x="185.95" y="1158.88" width="69.14" height="4.58" fill="#ff7272"/>
<rect x="185.95" y="1163.16" width="69.14" height="4.58" fill="#ff4343"/>
<rect x="185.95" y="1167.44" width="69.14" height="4.58" fill="#ff7272"/>
<rect x="185.95" y="1171.72" width="69.14" height="13.14" fill="#ff5b5b"/>
<rect x="185.95" y="1184.56" width="69.14" height="4.58" fill="#ff2c2c"/>
<rect x="185.95" y="1188.84" width="69.14" height="4.58" fill="#ff5b5b"/>
<rect x="185.95" y="1193.12" width="69.14" height="4.58" fill="#ff7272"/>
<rect x="185.95" y="1197.4" width="69.14" height="4.58" fill="#ff5b5b"/>
<rect x="185.95" y="1201.68" width="69.14" height="8.86" fill="#ff7272"/>
<rect x="185.95" y="1210.24" width="69.14" height="13.14" fill="#ff8a8a"/>
<rect x="185.95" y="1223.09" width="69.14" height="4.58" fill="#ffffff"/>
<rect x="185.95" y="1227.37" width="69.14" height="4.58" fill="#ffd0d0"/>
<rect x="185.95" y="1231.65" width="69.14" height="4.58" fill="#ffa1a1"/>
<rect x="185.95" y="1235.93" width="69.14" height="4.58" fill="#ffd0d0"/>
<rect x="185.95" y="1240.21" width="69.14" height="4.58" fill="#ff8a8a"/>
<rect x="185.95" y="1244.49" width="69.14" height="8.86" fill="#ffb9b9"/>
<rect x="185.95" y="1253.05" width="69.14" height="4.58" fill="#ffa1a1"/>
<rect x="185.95" y="1257.33" width="69.14" height="4.58" fill="#ff8a8a"/>
<rect x="185.95" y="1261.61" width="69.14" height="4.58" fill="#ffa1a1"/>
<rect x="185.95" y="1265.89" width="69.14" height="4.58" fill="#ff8a8a"/>
<rect x="185.95" y="1270.17" width="69.14" height="4.58" fill="#ff7272"/>
<rect x="185.95" y="1274.45" width="69.14" height="4.58" fill="#ff8a8a"/>
<rect x="185.95" y="1278.73" width="69.14" height="4.58" fill="#ff7272"/>
<rect x="185.95" y="1283.01" width="69.14" height="8.86" fill="#ff8a8a"/>
<rect x="185.95" y="1291.57" width="69.14" height="8.86" fill="#ffd0d0"/>
<rect x="185.95" y="1300.13" width="69.14" height="8.86" fill="#ff2c2c"/>
<rect x="185.95" y="1308.69" width="69.14" height="4.58" fill="#ffffff"/>
<rect x="185.95" y="1312.97" width="69.14" height="4.58" fill="#ffa1a1"/>
<rect x="185.95" y="1317.25" width="69.14" height="13.14" fill="#ff8a8a"/>
<rect x="185.95" y="1330.09" width="69.14" height="4.58" fill="#ff7272"/>
<rect x="185.95" y="1334.37" width="69.14" height="4.58" fill="#ff8a8a"/>
<rect x="185.95" y="1338.66" width="69.14" height="8.86" fill="#ffb9b9"/>
<rect x="185.95" y="1347.22" width="69.14" height="4.58" fill="#ffffff"/>
<rect x="185.95" y="1351.5" width="69.14" height="4.58" fill="#ff7272"/>
<rect x="185.95" y="1355.78" width="69.14" height="4.58" fill="#ffd0d0"/>
<rect x="185.95" y="1360.06" width="69.14" height="4.58" fill="#ffffff"/>
<rect x="185.95" y="1364.34" width="69.14" height="25.98" fill="#ff8a8a"/>
<rect x="185.95" y="1390.02" width="69.14" height="21.7" fill="#ffa1a1"/>
<rect x="185.95" y="1411.42" width="69.14" height="4.58" fill="#ffb9b9"/>
<rect x="185.95" y="1415.7" width="69.14" height="4.58" fill="#ff8a8a"/>
<rect x="185.95" y="1419.98" width="69.14" height="4.58" fill="#ffa1a1"/>
<rect x="185.95" y="1424.26" width="69.14" height="4.58" fill="#ff8a8a"/>
<rect x="185.95" y="1428.54" width="69.14" height="4.28" fill="#ffa1a1"/>
<rect x="254.8" y="833.57" width="69.14" height="4.58" fill="#ff7272"/>
<rect x="254.8" y="837.85" width="69.14" height="4.58" fill="#ff4343"/>
<rect x="254.8" y="842.13" width="69.14" height="8.86" fill="#ff5b5b"/>
<rect x="254.8" y="850.69" width="69.14" height="13.14" fill="#ff7272"/>
<rect x="254.8" y="863.53" width="69.14" height="8.86" fill="#ff8a8a"/>
<rect x="254.8" y="872.09" width="69.14" height="8.86" fill="#ffb9b9"/>
<rect x="254.8" y="880.66" width="69.14" height="4.58" fill="#ffa1a1"/>
<rect x="254.8" y="884.94" width="69.14" height="4.58" fill="#ff8a8a"/>
<rect x="254.8" y="889.22" width="69.14" height="4.58" fill="#ffa1a1"/>
<rect x="254.8" y="893.5" width="69.14" height="4.58" fill="#ff8a8a"/>
<rect x="254.8" y="897.78" width="69.14" height="4.58" fill="#ff7272"/>
<rect x="254.8" y="902.06" width="69.14" height="4.58" fill="#ff8a8a"/>
<rect x="254.8" y="906.34" width="69.14" height="4.58" fill="#ff7272"/>
<rect x="254.8" y="910.62" width="69.14" height="4.58" fill="#ffb9b9"/>
<rect x="254.8" y="914.9" width="69.14" height="4.58" fill="#ffd0d0"/>
<rect x="254.8" y="919.18" width="69.14" height="4.58" fill="#ffa1a1"/>
<rect x="254.8" y="923.46" width="69.14" height="4.58" fill="#ffd0d0"/>
<rect x="254.8" y="927.74" width="69.14" height="4.58" fill="#ffe8e8"/>
<rect x="254.8" y="932.02" width="69.14" height="4.58" fill="#ffffff"/>
<rect x="254.8" y="936.3" width="69.14" height="4.58" fill="#ffa1a1"/>
<rect x="254.8" y="940.58" width="69.14" height="4.58" fill="#ffb9b9"/>
<rect x="254.8" y="944.86" width="69.14" height="4.58" fill="#ff8a8a"/>
<rect x="254.8" y="949.14" width="69.14" height="4.58" fill="#ffa1a1"/>
<rect x="254.8" y="953.42" width="69.14" height="4.58" fill="#ffb9b9"/>
<rect x="254.8" y="957.7" width="69.14" height="4.58" fill="#ffffff"/>
<rect x="254.8" y="961.98" width="69.14" height="4.58" fill="#ffb9b9"/>
<rect x="254.8" y="966.26" width="69.14" height="4.58" fill="#ffa1a1"/>
<rect x="254.8" y="970.54" width="69.14" height="8.86" fill="#ffb9b9"/>
<rect x="254.8" y="979.1" width="69.14" height="13.14" fill="#ffa1a1"/>
<rect x="254.8" y="991.95" width="69.14" height="4.58" fill="#ffb9b9"/>
<rect x="254.8" y="996.23" width="69.14" height="4.58" fill="#ffd0d0"/>
<rect x="254.8" y="1000.51" width="69.14" height="4.58" fill="#ffffff"/>
<rect x="254.8" y="1004.79" width="69.14" height="8.86" fill="#ffb9b9"/>
<rect x="254.8" y="1013.35" width="69.14" height="4.58" fill="#ffffff"/>
<rect x="254.8" y="1017.63" width="69.14" height="4.58" fill="#ffe8e8"/>
<rect x="254.8" y="1021.91" width="69.14" height="4.58" fill="#ffd0d0"/>
<rect x="254.8" y="1026.19" width="69.14" height="4.58" fill="#ffb9b9"/>
<rect x="254.8" y="1030.47" width="69.14" height="4.58" fill="#ffa1a1"/>
<rect x="254.8" y="1034.75" width="69.14" height="13.14" fill="#ff8a8a"/>
<rect x="254.8" y="1047.59" width="69.14" height="4.58" fill="#ffa1a1"/>
<rect x="254.8" y="1051.87" width="69.14" height="4.58" fill="#ffb9b9"/>
<rect x="254.8" y="1056.15" width="69.14" height="8.86" fill="#ffa1a1"/>
<rect x="254.8" y="1064.71" width="69.14" height="4.58" fill="#ffd0d0"/>
<rect x="254.8" y="1068.99" width="69.14" height="4.58" fill="#ffa1a1"/>
<rect x="254.8" y="1073.27" width="69.14" height="4.58" fill="#ffb9b9"/>
<rect x="254.8" y="1077.55" width="69.14" height="4.58" fill="#ff8a8a"/>
<rect x="254.8" y="1081.83" width="69.14" height="4.58" fill="#ffffff"/>
<rect x="254.8" y="1086.11" width="69.14" height="4.58" fill="#ff8a8a"/>
<rect x="254.8" y="1090.39" width="69.14" height="8.86" fill="#ff7272"/>
<rect x="254.8" y="1098.95" width="69.14" height="4.58" fill="#7272ff"/>
<rect x="254.8" y="1103.23" width="69.14" height="4.58" fill="#8a8aff"/>
<rect x="254.8" y="1107.52" width="69.14" height="17.42" fill="#a1a1ff"/>
<rect x="254.8" y="1124.64" width="69.14" height="4.58" fill="#8a8aff"/>
<rect x="254.8" y="1128.92" width="69.14" height="4.58" fill="#b9b9ff"/>
<rect x="254.8" y="1133.2" width="69.14" height="4.58" fill="#ffffff"/>
<rect x="254.8" y="1137.48" width="69.14" height="8.86" fill="#d0d0ff"/>
<rect x="254.8" y="1146.04" width="69.14" height="13.14" fill="#a1a1ff"/>
<rect x="254.8" y="1158.88" width="69.14" height="8.86" fill="#b9b9ff"/>
<rect x="254.8" y="1167.44" width="69.14" height="8.86" fill="#7272ff"/>
<rect x="254.8" y="1176" width="69.14" height="4.58" fill="#4343ff"/>
<rect x="254.8" y="1180.28" width="69.14" height="13.14" fill="#7272ff"/>
<rect x="254.8" y="1193.12" width="69.14" height="4.58" fill="#5b5bff"/>
<rect x="254.8" y="1197.4" width="69.14" height="4.58" fill="#7272ff"/>
<rect x="254.8" y="1201.68" width="69.14" height="4.58" fill="#4343ff"/>
<rect x="254.8" y="1205.96" width="69.14" height="4.58" fill="#8a8aff"/>
<rect x="254.8" y="1210.24" width="69.14" height="4.58" fill="#a1a1ff"/>
<rect x="254.8" y="1214.52" width="69.14" height="4.58" fill="#7272ff"/>
<rect x="254.8" y="1218.8" width="69.14" height="4.58" fill="#a1a1ff"/>
<rect x="254.8" y="1223.09" width="69.14" height="8.86" fill="#8a8aff"/>
<rect x="254.8" y="1231.65" width="69.14" height="13.14" fill="#7272ff"/>
<rect x="254.8" y="1244.49" width="69.14" height="8.86" fill="#ffffff"/>
<rect x="254.8" y="1253.05" width="69.14" height="8.86" fill="#b9b9ff"/>
<rect x="254.8" y="1261.61" width="69.14" height="8.86" fill="#a1a1ff"/>
<rect x="254.8" y="1270.17" width="69.14" height="4.58" fill="#b9b9ff"/>
<rect x="254.8" y="1274.45" width="69.14" height="8.86" fill="#d0d0ff"/>
<rect x="254.8" y="1283.01" width="69.14" height="4.58" fill="#a1a1ff"/>
<rect x="254.8" y="1287.29" width="69.14" height="4.58" fill="#5b5bff"/>
<rect x="254.8" y="1291.57" width="69.14" height="4.58" fill="#4343ff"/>
<rect x="254.8" y="1295.85" width="69.14" height="8.86" fill="#b9b9ff"/>
<rect x="254.8" y="1304.41" width="69.14" height="4.58" fill="#a1a1ff"/>
<rect x="254.8" y="1308.69" width="69.14" height="4.58" fill="#b9b9ff"/>
<rect x="254.8" y="1312.97" width="69.14" height="8.86" fill="#8a8aff"/>
<rect x="254.8" y="1321.53" width="69.14" height="4.58" fill="#b9b9ff"/>
<rect x="254.8" y="1325.81" width="69.14" height="17.42" fill="#8a8aff"/>
<rect x="254.8" y="1342.94" width="69.14" height="4.58" fill="#d0d0ff"/>
<rect x="254.8" y="1347.22" width="69.14" height="4.58" fill="#5b5bff"/>
<rect x="254.8" y="1351.5" width="69.14" height="4.58" fill="#7272ff"/>
<rect x="254.8" y="1355.78" width="69.14" height="4.58" fill="#d0d0ff"/>
<rect x="254.8" y="1360.06" width="69.14" height="4.58" fill="#b9b9ff"/>
<rect x="254.8" y="1364.34" width="69.14" height="4.58" fill="#a1a1ff"/>
<rect x="254.8" y="1368.62" width="69.14" height="4.58" fill="#d0d0ff"/>
<rect x="254.8" y="1372.9" width="69.14" height="4.58" fill="#b9b9ff"/>
<rect x="254.8" y="1377.18" width="69.14" height="4.58" fill="#ffffff"/>
<rect x="254.8" y="1381.46" width="69.14" height="4.58" fill="#d0d0ff"/>
<rect x="254.8" y="1385.74" width="69.14" height="8.86" fill="#e8e8ff"/>
<rect x="254.8" y="1394.3" width="69.14" height="4.58" fill="#b9b9ff"/>
<rect x="254.8" y="1398.58" width="69.14" height="4.58" fill="#d0d0ff"/>
<rect x="254.8" y="1402.86" width="69.14" height="4.58" fill="#e8e8ff"/>
<rect x="254.8" y="1407.14" width="69.14" height="4.58" fill="#ffffff"/>
<rect x="254.8" y="1411.42" width="69.14" height="4.58" fill="#7272ff"/>
<rect x="254.8" y="1415.7" width="69.14" height="4.58" fill="#5b5bff"/>
<rect x="254.8" y="1419.98" width="69.14" height="8.86" fill="#7272ff"/>
<rect x="254.8" y="1428.54" width="69.14" height="4.28" fill="#5b5bff"/>
<rect x="323.64" y="833.57" width="69.14" height="8.86" fill="#ffa1a1"/>
<rect x="323.64" y="842.13" width="69.14" height="4.58" fill="#ffd0d0"/>
<rect x="323.64" y="846.41" width="69.14" height="13.14" fill="#ffa1a1"/>
<rect x="323.64" y="859.25" width="69.14" height="4.58" fill="#ff8a8a"/>
<rect x="323.64" y="863.53" width="69.14" height="4.58" fill="#ff5b5b"/>
<rect x="323.64" y="867.81" width="69.14" height="13.14" fill="#ffffff"/>
<rect x="323.64" y="880.66" width="69.14" height="4.58" fill="#ff8a8a"/>
<rect x="323.64" y="884.94" width="69.14" height="4.58" fill="#ffd0d0"/>
<rect x="323.64" y="889.22" width="69.14" height="4.58" fill="#ffa1a1"/>
<rect x="323.64" y="893.5" width="69.14" height="4.58" fill="#ffd0d0"/>
<rect x="323.64" y="897.78" width="69.14" height="4.58" fill="#ffa1a1"/>
<rect x="323.64" y="902.06" width="69.14" height="4.58" fill="#ffb9b9"/>
<rect x="323.64" y="906.34" width="69.14" height="4.58" fill="#ffa1a1"/>
<rect x="323.64" y="910.62" width="69.14" height="4.58" fill="#ff7272"/>
<rect x="323.64" y="914.9" width="69.14" height="4.58" fill="#ff5b5b"/>
<rect x="323.64" y="919.18" width="69.14" height="8.86" fill="#ff8a8a"/>
<rect x="323.64" y="927.74" width="69.14" height="8.86" fill="#ff7272"/>
<rect x="323.64" y="936.3" width="69.14" height="8.86" fill="#ff8a8a"/>
<rect x="323.64" y="944.86" width="69.14" height="4.58" fill="#ffb9b9"/>
<rect x="323.64" y="949.14" width="69.14" height="4.58" fill="#ffa1a1"/>
<rect x="323.64" y="953.42" width="69.14" height="4.58" fill="#ff7272"/>
<rect x="323.64" y="957.7" width="69.14" height="4.58" fill="#ffa1a1"/>
<rect x="323.64" y="961.98" width="69.14" height="4.58" fill="#ff8a8a"/>
<rect x="323.64" y="966.26" width="69.14" height="4.58" fill="#ffb9b9"/>
<rect x="323.64" y="970.54" width="69.14" height="4.58" fill="#ff8a8a"/>
<rect x="323.64" y="974.82" width="69.14" height="8.86" fill="#ffffff"/>
<rect x="323.64" y="983.38" width="69.14" height="8.86" fill="#ffb9b9"/>
<rect x="323.64" y="991.95" width="69.14" height="4.58" fill="#ffffff"/>
<rect x="323.64" y="996.23" width="69.14" height="4.58" fill="#ff8a8a"/>
<rect x="323.64" y="1000.51" width="69.14" height="4.58" fill="#ffb9b9"/>
<rect x="323.64" y="1004.79" width="69.14" height="8.86" fill="#ff8a8a"/>
<rect x="323.64" y="1013.35" width="69.14" height="4.58" fill="#ff7272"/>
<rect x="323.64" y="1017.63" width="69.14" height="4.58" fill="#ffb9b9"/>
<rect x="323.64" y="1021.91" width="69.14" height="8.86" fill="#ff8a8a"/>
<rect x="323.64" y="1030.47" width="69.14" height="4.58" fill="#ffffff"/>
<rect x="323.64" y="1034.75" width="69.14" height="8.86" fill="#ffd0d0"/>
<rect x="323.64" y="1043.31" width="69.14" height="4.58" fill="#ffffff"/>
<rect x="323.64" y="1047.59" width="69.14" height="4.58" fill="#ffb9b9"/>
<rect x="323.64" y="1051.87" width="69.14" height="8.86" fill="#ff8a8a"/>
<rect x="323.64" y="1060.43" width="69.14" height="17.42" fill="#ffa1a1"/>
<rect x="323.64" y="1077.55" width="69.14" height="4.58" fill="#ff8a8a"/>
<rect x="323.64" y="1081.83" width="69.14" height="4.58" fill="#ff4343"/>
<rect x="323.64" y="1086.11" width="69.14" height="4.58" fill="#ff7272"/>
<rect x="323.64" y="1090.39" width="69.14" height="4.58" fill="#ff5b5b"/>
<rect x="323.64" y="1094.67" width="69.14" height="4.58" fill="#ff7272"/>
<rect x="323.64" y="1098.95" width="69.14" height="4.58" fill="#b9b9ff"/>
<rect x="323.64" y="1103.23" width="69.14" height="4.58" fill="#a1a1ff"/>
<rect x="323.64" y="1107.52" width="69.14" height="8.86" fill="#ffffff"/>
<rect x="323.64" y="1116.08" width="69.14" height="8.86" fill="#b9b9ff"/>
<rect x="323.64" y="1124.64" width="69.14" height="8.86" fill="#a1a1ff"/>
<rect x="323.64" y="1133.2" width="69.14" height="8.86" fill="#8a8aff"/>
<rect x="323.64" y="1141.76" width="69.14" height="4.58" fill="#7272ff"/>
<rect x="323.64" y="1146.04" width="69.14" height="8.86" fill="#8a8aff"/>
<rect x="323.64" y="1154.6" width="69.14" height="4.58" fill="#7272ff"/>
<rect x="323.64" y="1158.88" width="69.14" height="25.98" fill="#8a8aff"/>
<rect x="323.64" y="1184.56" width="69.14" height="8.86" fill="#d0d0ff"/>
<rect x="323.64" y="1193.12" width="69.14" height="17.42" fill="#b9b9ff"/>
<rect x="323.64" y="1210.24" width="69.14" height="4.58" fill="#a1a1ff"/>
<rect x="323.64" y="1214.52" width="69.14" height="4.58" fill="#e8e8ff"/>
<rect x="323.64" y="1218.8" width="69.14" height="4.58" fill="#a1a1ff"/>
<rect x="323.64" y="1223.09" width="69.14" height="4.58" fill="#ffffff"/>
<rect x="323.64" y="1227.37" width="69.14" height="25.98" fill="#a1a1ff"/>
<rect x="323.64" y="1253.05" width="69.14" height="4.58" fill="#b9b9ff"/>
<rect x="323.64" y="1257.33" width="69.14" height="4.58" fill="#8a8aff"/>
<rect x="323.64" y="1261.61" width="69.14" height="13.14" fill="#a1a1ff"/>
<rect x="323.64" y="1274.45" width="69.14" height="17.42" fill="#8a8aff"/>
<rect x="323.64" y="1291.57" width="69.14" height="4.58" fill="#a1a1ff"/>
<rect x="323.64" y="1295.85" width="69.14" height="8.86" fill="#2c2cff"/>
<rect x="323.64" y="1304.41" width="69.14" height="8.86" fill="#5b5bff"/>
<rect x="323.64" y="1312.97" width="69.14" height="8.86" fill="#7272ff"/>
<rect x="323.64" y="1321.53" width="69.14" height="8.86" fill="#5b5bff"/>
<rect x="323.64" y="1330.09" width="69.14" height="8.86" fill="#4343ff"/>
<rect x="323.64" y="1338.66" width="69.14" height="8.86" fill="#5b5bff"/>
<rect x="323.64" y="1347.22" width="69.14" height="4.58" fill="#7272ff"/>
<rect x="323.64" y="1351.5" width="69.14" height="4.58" fill="#8a8aff"/>
<rect x="323.64" y="1355.78" width="69.14" height="4.58" fill="#7272ff"/>
<rect x="323.64" y="1360.06" width="69.14" height="4.58" fill="#8a8aff"/>
<rect x="323.64" y="1364.34" width="69.14" height="4.58" fill="#7272ff"/>
<rect x="323.64" y="1368.62" width="69.14" height="4.58" fill="#2c2cff"/>
<rect x="323.64" y="1372.9" width="69.14" height="4.58" fill="#7272ff"/>
<rect x="323.64" y="1377.18" width="69.14" height="13.14" fill="#8a8aff"/>
<rect x="323.64" y="1390.02" width="69.14" height="4.58" fill="#a1a1ff"/>
<rect x="323.64" y="1394.3" width="69.14" height="13.14" fill="#8a8aff"/>
<rect x="323.64" y="1407.14" width="69.14" height="8.86" fill="#b9b9ff"/>
<rect x="323.64" y="1415.7" width="69.14" height="4.58" fill="#ffffff"/>
<rect x="323.64" y="1419.98" width="69.14" height="4.58" fill="#8a8aff"/>
<rect x="323.64" y="1424.26" width="69.14" height="8.56" fill="#a1a1ff"/>
<rect x="392.48" y="833.57" width="68.84" height="4.58" fill="#ff7272"/>
<rect x="392.48" y="837.85" width="68.84" height="4.58" fill="#ffffff"/>
<rect x="392.48" y="842.13" width="68.84" height="4.58" fill="#ff7272"/>
<rect x="392.48" y="846.41" width="68.84" height="4.58" fill="#ff8a8a"/>
<rect x="392.48" y="850.69" width="68.84" height="8.86" fill="#ffb9b9"/>
<rect x="392.48" y="859.25" width="68.84" height="8.86" fill="#ffa1a1"/>
<rect x="392.48" y="867.81" width="68.84" height="8.86" fill="#ff2c2c"/>
<rect x="392.48" y="876.38" width="68.84" height="4.58" fill="#ff4343"/>
<rect x="392.48" y="880.66" width="68.84" height="17.42" fill="#ff5b5b"/>
<rect x="392.48" y="897.78" width="68.84" height="8.86" fill="#ff7272"/>
<rect x="392.48" y="906.34" width="68.84" height="4.58" fill="#ff8a8a"/>
<rect x="392.48" y="910.62" width="68.84" height="13.14" fill="#ff7272"/>
<rect x="392.48" y="923.46" width="68.84" height="8.86" fill="#ff5b5b"/>
<rect x="392.48" y="932.02" width="68.84" height="4.58" fill="#ff4343"/>
<rect x="392.48" y="936.3" width="68.84" height="4.58" fill="#ff7272"/>
<rect x="392.48" y="940.58" width="68.84" height="17.42" fill="#ff5b5b"/>
<rect x="392.48" y="957.7" width="68.84" height="4.58" fill="#ff1414"/>
<rect x="392.48" y="961.98" width="68.84" height="4.58" fill="#ff5b5b"/>
<rect x="392.48" y="966.26" width="68.84" height="4.58" fill="#ff4343"/>
<rect x="392.48" y="970.54" width="68.84" height="4.58" fill="#ff7272"/>
<rect x="392.48" y="974.82" width="68.84" height="8.86" fill="#ff5b5b"/>
<rect x="392.48" y="983.38" width="68.84" height="13.14" fill="#ff2c2c"/>
<rect x="392.48" y="996.23" width="68.84" height="4.58" fill="#ff4343"/>
<rect x="392.48" y="1000.51" width="68.84" height="4.58" fill="#ff1414"/>
<rect x="392.48" y="1004.79" width="68.84" height="13.14" fill="#ff5b5b"/>
<rect x="392.48" y="1017.63" width="68.84" height="4.58" fill="#ff1414"/>
<rect x="392.48" y="1021.91" width="68.84" height="8.86" fill="#ff4343"/>
<rect x="392.48" y="1030.47" width="68.84" height="4.58" fill="#ff2c2c"/>
<rect x="392.48" y="1034.75" width="68.84" height="4.58" fill="#ff5b5b"/>
<rect x="392.48" y="1039.03" width="68.84" height="4.58" fill="#ff4343"/>
<rect x="392.48" y="1043.31" width="68.84" height="4.58" fill="#ff2c2c"/>
<rect x="392.48" y="1047.59" width="68.84" height="4.58" fill="#ff4343"/>
<rect x="392.48" y="1051.87" width="68.84" height="8.86" fill="#ff5b5b"/>
<rect x="392.48" y="1060.43" width="68.84" height="8.86" fill="#ff4343"/>
<rect x="392.48" y="1068.99" width="68.84" height="8.86" fill="#ff5b5b"/>
<rect x="392.48" y="1077.55" width="68.84" height="4.58" fill="#ff8a8a"/>
<rect x="392.48" y="1081.83" width="68.84" height="8.86" fill="#ff7272"/>
<rect x="392.48" y="1090.39" width="68.84" height="4.58" fill="#ffb9b9"/>
<rect x="392.48" y="1094.67" width="68.84" height="4.58" fill="#ffa1a1"/>
<rect x="392.48" y="1098.95" width="68.84" height="4.58" fill="#5b5bff"/>
<rect x="392.48" y="1103.23" width="68.84" height="4.58" fill="#8a8aff"/>
<rect x="392.48" y="1107.52" width="68.84" height="8.86" fill="#2c2cff"/>
<rect x="392.48" y="1116.08" width="68.84" height="17.42" fill="#5b5bff"/>
<rect x="392.48" y="1133.2" width="68.84" height="4.58" fill="#2c2cff"/>
<rect x="392.48" y="1137.48" width="68.84" height="4.58" fill="#5b5bff"/>
<rect x="392.48" y="1141.76" width="68.84" height="4.58" fill="#4343ff"/>
<rect x="392.48" y="1146.04" width="68.84" height="13.14" fill="#7272ff"/>
<rect x="392.48" y="1158.88" width="68.84" height="8.86" fill="#4343ff"/>
<rect x="392.48" y="1167.44" width="68.84" height="8.86" fill="#8a8aff"/>
<rect x="392.48" y="1176" width="68.84" height="4.58" fill="#b9b9ff"/>
<rect x="392.48" y="1180.28" width="68.84" height="4.58" fill="#8a8aff"/>
<rect x="392.48" y="1184.56" width="68.84" height="4.58" fill="#7272ff"/>
<rect x="392.48" y="1188.84" width="68.84" height="4.58" fill="#8a8aff"/>
<rect x="392.48" y="1193.12" width="68.84" height="4.58" fill="#7272ff"/>
<rect x="392.48" y="1197.4" width="68.84" height="4.58" fill="#8a8aff"/>
<rect x="392.48" y="1201.68" width="68.84" height="4.58" fill="#a1a1ff"/>
<rect x="392.48" y="1205.96" width="68.84" height="4.58" fill="#8a8aff"/>
<rect x="392.48" y="1210.24" width="68.84" height="17.42" fill="#4343ff"/>
<rect x="392.48" y="1227.37" width="68.84" height="4.58" fill="#5b5bff"/>
<rect x="392.48" y="1231.65" width="68.84" height="13.14" fill="#7272ff"/>
<rect x="392.48" y="1244.49" width="68.84" height="8.86" fill="#1414ff"/>
<rect x="392.48" y="1253.05" width="68.84" height="8.86" fill="#4343ff"/>
<rect x="392.48" y="1261.61" width="68.84" height="4.58" fill="#2c2cff"/>
<rect x="392.48" y="1265.89" width="68.84" height="4.58" fill="#4343ff"/>
<rect x="392.48" y="1270.17" width="68.84" height="4.58" fill="#5b5bff"/>
<rect x="392.48" y="1274.45" width="68.84" height="8.86" fill="#4343ff"/>
<rect x="392.48" y="1283.01" width="68.84" height="4.58" fill="#2c2cff"/>
<rect x="392.48" y="1287.29" width="68.84" height="4.58" fill="#8a8aff"/>
<rect x="392.48" y="1291.57" width="68.84" height="4.58" fill="#ffffff"/>
<rect x="392.48" y="1295.85" width="68.84" height="8.86" fill="#d0d0ff"/>
<rect x="392.48" y="1304.41" width="68.84" height="4.58" fill="#a1a1ff"/>
<rect x="392.48" y="1308.69" width="68.84" height="4.58" fill="#ffffff"/>
<rect x="392.48" y="1312.97" width="68.84" height="13.14" fill="#8a8aff"/>
<rect x="392.48" y="1325.81" width="68.84" height="4.58" fill="#7272ff"/>
<rect x="392.48" y="1330.09" width="68.84" height="4.58" fill="#d0d0ff"/>
<rect x="392.48" y="1334.37" width="68.84" height="8.86" fill="#a1a1ff"/>
<rect x="392.48" y="1342.94" width="68.84" height="4.58" fill="#8a8aff"/>
<rect x="392.48" y="1347.22" width="68.84" height="4.58" fill="#b9b9ff"/>
<rect x="392.48" y="1351.5" width="68.84" height="4.58" fill="#7272ff"/>
<rect x="392.48" y="1355.78" width="68.84" height="4.58" fill="#4343ff"/>
<rect x="392.48" y="1360.06" width="68.84" height="4.58" fill="#5b5bff"/>
<rect x="392.48" y="1364.34" width="68.84" height="4.58" fill="#4343ff"/>
<rect x="392.48" y="1368.62" width="68.84" height="4.58" fill="#5b5bff"/>
<rect x="392.48" y="1372.9" width="68.84" height="4.58" fill="#7272ff"/>
<rect x="392.48" y="1377.18" width="68.84" height="8.86" fill="#2c2cff"/>
<rect x="392.48" y="1385.74" width="68.84" height="4.58" fill="#4343ff"/>
<rect x="392.48" y="1390.02" width="68.84" height="4.58" fill="#2c2cff"/>
<rect x="392.48" y="1394.3" width="68.84" height="8.86" fill="#5b5bff"/>
<rect x="392.48" y="1402.86" width="68.84" height="4.58" fill="#2c2cff"/>
<rect x="392.48" y="1407.14" width="68.84" height="4.58" fill="#1414ff"/>
<rect x="392.48" y="1411.42" width="68.84" height="4.58" fill="#5b5bff"/>
<rect x="392.48" y="1415.7" width="68.84" height="8.86" fill="#4343ff"/>
<rect x="392.48" y="1424.26" width="68.84" height="8.56" fill="#5b5bff"/>
</g>
<clipPath id="clipfr"><rect x="460" y="820" width="90.4" height="630"/></clipPath>
<g clip-path="url(#clipfr)">
<g font-size="6.6" fill="#333" font-weight="normal">
<text transform="translate(465.82,842.83) scale(0.86,1)">CDKN2A</text>
<text transform="translate(465.82,851.39) scale(0.86,1)">HER3</text>
<text transform="translate(465.82,859.95) scale(0.86,1)">CDK1_pT14</text>
<text transform="translate(465.82,868.51) scale(0.86,1)">Aurora-ABC_pT288_pT232_pT198</text>
<text transform="translate(465.82,877.07) scale(0.86,1)">Granzyme-B</text>
<text transform="translate(465.82,885.63) scale(0.86,1)">cdc2_pY15</text>
<text transform="translate(465.82,894.19) scale(0.86,1)">Rad51</text>
<text transform="translate(465.82,902.75) scale(0.86,1)">DUSP4</text>
<text transform="translate(465.82,911.31) scale(0.86,1)">HMHA1</text>
<text transform="translate(465.82,919.87) scale(0.86,1)">B7-H4</text>
<text transform="translate(465.82,928.44) scale(0.86,1)">Enolase-1</text>
<text transform="translate(465.82,937) scale(0.86,1)">Stathmin-1</text>
<text transform="translate(465.82,945.56) scale(0.86,1)">ZEB1</text>
<text transform="translate(465.82,954.12) scale(0.86,1)">IRS1</text>
<text transform="translate(465.82,962.68) scale(0.86,1)">Ets-1</text>
<text transform="translate(465.82,971.24) scale(0.86,1)">PAR</text>
<text transform="translate(465.82,979.8) scale(0.86,1)">Notch1</text>
<text transform="translate(465.82,988.36) scale(0.86,1)">VEGFR-2</text>
<text transform="translate(465.82,996.92) scale(0.86,1)">p53</text>
<text transform="translate(465.82,1005.48) scale(0.86,1)">H2AX_pS139</text>
<text transform="translate(465.82,1014.04) scale(0.86,1)">Caspase-8-cleaved</text>
<text transform="translate(465.82,1022.6) scale(0.86,1)">GCLM</text>
<text transform="translate(465.82,1031.16) scale(0.86,1)">Pyk2_pY402</text>
<text transform="translate(465.82,1039.72) scale(0.86,1)">BMK1-Erk5_pT218_Y220</text>
<text transform="translate(465.82,1048.29) scale(0.86,1)">TUFM</text>
<text transform="translate(465.82,1056.85) scale(0.86,1)">Caspase-3-cleaved</text>
<text transform="translate(465.82,1065.41) scale(0.86,1)">CD44</text>
<text transform="translate(465.82,1073.97) scale(0.86,1)">S100A4</text>
<text transform="translate(465.82,1082.53) scale(0.86,1)">VEGFR-2_pY1175</text>
<text transform="translate(465.82,1091.09) scale(0.86,1)">EphA2_pY588</text>
<text transform="translate(465.82,1099.65) scale(0.86,1)">Axl</text>
<text transform="translate(465.82,1108.21) scale(0.86,1)">PKC-a-b-II_pT638_T641</text>
<text transform="translate(465.82,1116.77) scale(0.86,1)">MYH11</text>
<text transform="translate(465.82,1125.33) scale(0.86,1)">UBAC1</text>
<text transform="translate(465.82,1133.89) scale(0.86,1)">Bax</text>
<text transform="translate(465.82,1142.45) scale(0.86,1)">PTEN</text>
<text transform="translate(465.82,1151.01) scale(0.86,1)">AceCS1</text>
<text transform="translate(465.82,1159.58) scale(0.86,1)">CSK</text>
<text transform="translate(465.82,1168.14) scale(0.86,1)">PERK</text>
<text transform="translate(465.82,1176.7) scale(0.86,1)">GRB7</text>
<text transform="translate(465.82,1185.26) scale(0.86,1)">Slfn11</text>
<text transform="translate(465.82,1193.82) scale(0.86,1)">DNA_POLG</text>
<text transform="translate(465.82,1202.38) scale(0.86,1)">Rab11</text>
<text transform="translate(465.82,1210.94) scale(0.86,1)">Glutamate-D1-2</text>
<text transform="translate(465.82,1219.5) scale(0.86,1)">CIITA</text>
<text transform="translate(465.82,1228.06) scale(0.86,1)">HSP70</text>
<text transform="translate(465.82,1236.62) scale(0.86,1)">PAX8</text>
<text transform="translate(465.82,1245.18) scale(0.86,1)">RPA32</text>
<text transform="translate(465.82,1253.74) scale(0.86,1)">Atg7</text>
<text transform="translate(465.82,1262.3) scale(0.86,1)">PKA-a</text>
<text transform="translate(465.82,1270.86) scale(0.86,1)">53BP1</text>
<text transform="translate(465.82,1279.43) scale(0.86,1)">ATRX</text>
<text transform="translate(465.82,1287.99) scale(0.86,1)">MSH2</text>
<text transform="translate(465.82,1296.55) scale(0.86,1)">CD20</text>
<text transform="translate(465.82,1305.11) scale(0.86,1)">Mcl-1</text>
<text transform="translate(465.82,1313.67) scale(0.86,1)">WIPI2</text>
<text transform="translate(465.82,1322.23) scale(0.86,1)">MEK2</text>
<text transform="translate(465.82,1330.79) scale(0.86,1)">PMS2</text>
<text transform="translate(465.82,1339.35) scale(0.86,1)">TFRC</text>
<text transform="translate(465.82,1347.91) scale(0.86,1)">ATM</text>
<text transform="translate(465.82,1356.47) scale(0.86,1)">PARP</text>
<text transform="translate(465.82,1365.03) scale(0.86,1)">mTOR_pS2448</text>
<text transform="translate(465.82,1373.59) scale(0.86,1)">DDB-1</text>
<text transform="translate(465.82,1382.15) scale(0.86,1)">B-Raf</text>
<text transform="translate(465.82,1390.72) scale(0.86,1)">GCLC</text>
<text transform="translate(465.82,1399.28) scale(0.86,1)">p70-S6K1</text>
<text transform="translate(465.82,1407.84) scale(0.86,1)">Rad23A</text>
<text transform="translate(465.82,1416.4) scale(0.86,1)">MSI2</text>
<text transform="translate(465.82,1424.96) scale(0.86,1)">eEF2K</text>
<text transform="translate(465.82,1433.52) scale(0.86,1)">C-Raf_pS338</text>
</g>
</g>
<clipPath id="clipf"><rect x="0" y="1436" width="700" height="91.8"/></clipPath>
<g clip-path="url(#clipf)">
<text transform="translate(87.62,1440.68) rotate(-90) scale(1.01,1)" font-size="13.7" text-anchor="end">H1975-Osi#361</text>
<text transform="translate(156.46,1440.68) rotate(-90) scale(1.01,1)" font-size="13.7" text-anchor="end">H1975-Osi#358</text>
<text transform="translate(225.31,1440.68) rotate(-90) scale(1.01,1)" font-size="13.7" text-anchor="end">H1975-Osi#NT</text>
<text transform="translate(294.15,1440.68) rotate(-90) scale(1.01,1)" font-size="13.7" text-anchor="end">H1975R-Osi#23</text>
<text transform="translate(362.99,1440.68) rotate(-90) scale(1.01,1)" font-size="13.7" text-anchor="end">H1975R-Osi#97</text>
<text transform="translate(431.84,1440.68) rotate(-90) scale(1.01,1)" font-size="13.7" text-anchor="end">H1975R-Osi#98</text>
</g>
<g stroke="#1a1a1a" stroke-width="1.05" fill="none">
<path d="M0 993.76H30.81M33.58 917.82H30.81V1068.78H38.51M35.74 870.06H33.58V965.57H39.28M38.51 846.5H35.74V892.4H40.82M41.28 941.69H39.28V989.45H41.28M40.82 1049.53H38.51V1089.58H40.82M41.28 833.86H38.51V858.51H41.28M42.21 866.21H40.82V900.1H42.21M0 1333.88H30.84M31.52 1263.6H30.84V1404.33H38.76M33.71 1202.08H31.52V1324.27H36.74M36.74 1158.26H33.71V1244.72H38.43M40.45 1129.61H36.74V1187.42H41.29M41.29 1223.15H38.43V1267.81H41.29M40.11 1305.73H36.74V1342.81H40.11M41.29 1384.94H38.76V1422.87H41.29M41.8 1110.22H40.11V1147.3H41.8"/>
<path d="M42.17 836.57H40.38V847.33H42.17M42.17 849.84H40.21V867.92H42.17M42.17 867.17H39.79V873.44H42.17M42.17 874.27H39.47V884.96H42.17M42.17 888.41H40.51V911.14H42.17M42.17 921.94H40.2V930.96H42.17M42.17 937.1H39.98V953.56H42.17M42.17 961.86H39.95V969.14H42.17M42.17 972.29H41.4V984.31H42.17M42.17 992.48H40.03V1007.93H42.17M42.17 1018.61H39.62V1038.89H42.17M42.17 1044.07H40.58V1066.09H42.17M42.17 1082.43H41.27V1106.01H42.17M42.17 1106.54H39.53V1116.88H42.17M42.17 1119.9H40.86V1138.43H42.17M42.17 1145.04H40.76V1158.76H42.17M42.17 1164.61H39.66V1182.29H42.17M42.17 1191.38H39.75V1215.96H42.17M42.17 1235.42H41.14V1254.85H42.17M42.17 1267.95H39.66V1293.25H42.17M42.17 1303.67H41.04V1323.95H42.17M42.17 1337.1H40.9V1354.57H42.17M42.17 1353.82H39.49V1376.9H42.17M42.17 1376.43H40.64V1398.44H42.17M42.17 1399.22H39.93V1411.1H42.17M42.17 1419.24H40.24V1426.13H42.17M42.17 1425.72H40.8V1430.82H42.17" stroke="#444" stroke-width="0.8"/>
</g>
<path d="M42.97 835.57V1430.82" stroke="#1a1a1a" stroke-width="1.3" stroke-dasharray="10 3 6 2.5 13 4 4 3" fill="none"/>
<text transform="translate(557.48,837.69) scale(0.83,1)" font-size="23.5">Cell Line</text>
<rect x="550.75" y="859.01" width="8.6" height="9.4" fill="#ff0000"/>
<text transform="translate(572.45,872.11) scale(0.83,1)" font-size="23.5">H1975R</text>
<rect x="550.75" y="887.07" width="8.6" height="9.4" fill="#00ff00"/>
<text transform="translate(572.45,900.17) scale(0.83,1)" font-size="23.5">H1975</text>
<text transform="translate(538.78,1169.05) scale(0.83,1)" font-size="23.5">Treatmen</text>
<text transform="translate(622.59,1169.05) scale(0.83,1)" font-size="23.5">t</text>
<rect x="519.69" y="1191.12" width="8.6" height="9.4" fill="#0000ff"/>
<text transform="translate(541.39,1204.22) scale(0.83,1)" font-size="23.5">Cont</text>
<rect x="519.69" y="1245.37" width="8.6" height="9.4" fill="#00ff00"/>
<text transform="translate(541.39,1258.47) scale(0.83,1)" font-size="23.5">Osi</text>
</g>
<g id="p-f2_volcano">
<text transform="translate(708.47,821.9)" font-size="32.5" font-weight="bold" textLength="570.2" lengthAdjust="spacingAndGlyphs">Osimertinib treated residual tumors</text>
<line x1="736.81" y1="847.35" x2="736.81" y2="1492.99" stroke="#f2f2f2" stroke-width="0.7" />
<line x1="884.79" y1="847.35" x2="884.79" y2="1492.99" stroke="#f2f2f2" stroke-width="0.7" />
<line x1="1032.76" y1="847.35" x2="1032.76" y2="1492.99" stroke="#f2f2f2" stroke-width="0.7" />
<line x1="1180.74" y1="847.35" x2="1180.74" y2="1492.99" stroke="#f2f2f2" stroke-width="0.7" />
<line x1="686.02" y1="1388.19" x2="1201.22" y2="1388.19" stroke="#f2f2f2" stroke-width="0.8" />
<line x1="686.02" y1="1233.21" x2="1201.22" y2="1233.21" stroke="#f2f2f2" stroke-width="0.8" />
<line x1="686.02" y1="1078.24" x2="1201.22" y2="1078.24" stroke="#f2f2f2" stroke-width="0.8" />
<line x1="686.02" y1="923.26" x2="1201.22" y2="923.26" stroke="#f2f2f2" stroke-width="0.8" />
<line x1="810.8" y1="847.35" x2="810.8" y2="1492.99" stroke="#ebebeb" stroke-width="1.1" />
<line x1="958.78" y1="847.35" x2="958.78" y2="1492.99" stroke="#ebebeb" stroke-width="1.1" />
<line x1="1106.75" y1="847.35" x2="1106.75" y2="1492.99" stroke="#ebebeb" stroke-width="1.1" />
<line x1="686.02" y1="1465.68" x2="1201.22" y2="1465.68" stroke="#ebebeb" stroke-width="1.3" />
<line x1="686.02" y1="1310.7" x2="1201.22" y2="1310.7" stroke="#ebebeb" stroke-width="1.3" />
<line x1="686.02" y1="1155.73" x2="1201.22" y2="1155.73" stroke="#ebebeb" stroke-width="1.3" />
<line x1="686.02" y1="1000.75" x2="1201.22" y2="1000.75" stroke="#ebebeb" stroke-width="1.3" />
<line x1="872.35" y1="847.35" x2="872.35" y2="1492.99" stroke="#ff3030" stroke-width="1.3" />
<line x1="1046.33" y1="847.35" x2="1046.33" y2="1492.99" stroke="#ff3030" stroke-width="1.3" />
<line x1="686.02" y1="1364.66" x2="1201.22" y2="1364.66" stroke="#ff3030" stroke-width="1.3" />
<text transform="translate(810.8,1514.29) scale(0.7,1)" font-size="14.2" text-anchor="middle" fill="#4d4d4d">-1</text>
<text transform="translate(958.78,1514.29) scale(0.7,1)" font-size="14.2" text-anchor="middle" fill="#4d4d4d">0</text>
<text transform="translate(1106.75,1514.29) scale(0.7,1)" font-size="14.2" text-anchor="middle" fill="#4d4d4d">1</text>
<text transform="translate(680.22,1471.08) scale(0.72,1)" font-size="14.4" text-anchor="end" fill="#4d4d4d">0</text>
<text transform="translate(680.22,1316.1) scale(0.72,1)" font-size="14.4" text-anchor="end" fill="#4d4d4d">2</text>
<text transform="translate(680.22,1161.13) scale(0.72,1)" font-size="14.4" text-anchor="end" fill="#4d4d4d">4</text>
<text transform="translate(680.22,1006.15) scale(0.72,1)" font-size="14.4" text-anchor="end" fill="#4d4d4d">6</text>
<text transform="translate(943.81,1535.9) scale(0.74,1)" font-size="16.5" text-anchor="middle" fill="#111">log2FoldChange</text>
<text transform="translate(668.81,1171.67) rotate(-90)" font-size="12.5" text-anchor="middle" fill="#111" textLength="113.61" lengthAdjust="spacingAndGlyphs">-log10(pvalue)</text>
<ellipse cx="898.91" cy="1056.5" rx="2.2" ry="3.05" fill="#000"/>
<ellipse cx="920.61" cy="1055.75" rx="2.2" ry="3.05" fill="#000"/>
<ellipse cx="1001.8" cy="1053.88" rx="2.2" ry="3.05" fill="#000"/>
<ellipse cx="1024.63" cy="1082.31" rx="2.2" ry="3.05" fill="#000"/>
<ellipse cx="1030.61" cy="1094.66" rx="2.2" ry="3.05" fill="#000"/>
<ellipse cx="1004.8" cy="1111.87" rx="2.2" ry="3.05" fill="#000"/>
<ellipse cx="1017.52" cy="1116.36" rx="2.2" ry="3.05" fill="#000"/>
<ellipse cx="1026.5" cy="1120.1" rx="2.2" ry="3.05" fill="#000"/>
<ellipse cx="1030.99" cy="1137.31" rx="2.2" ry="3.05" fill="#000"/>
<ellipse cx="999.18" cy="1142.93" rx="2.2" ry="3.05" fill="#000"/>
<ellipse cx="892.18" cy="1155.27" rx="2.2" ry="3.05" fill="#000"/>
<ellipse cx="1033.61" cy="1151.9" rx="2.2" ry="3.05" fill="#000"/>
<ellipse cx="1040.34" cy="1155.65" rx="2.2" ry="3.05" fill="#000"/>
<ellipse cx="885.07" cy="1165.99" rx="2.2" ry="3.05" fill="#000"/>
<ellipse cx="903.4" cy="1164.12" rx="2.2" ry="3.05" fill="#000"/>
<ellipse cx="1022.01" cy="1164.12" rx="2.2" ry="3.05" fill="#000"/>
<ellipse cx="925.1" cy="1177.59" rx="2.2" ry="3.05" fill="#000"/>
<ellipse cx="1027.62" cy="1172.35" rx="2.2" ry="3.05" fill="#000"/>
<ellipse cx="1003.3" cy="1183.95" rx="2.2" ry="3.05" fill="#000"/>
<ellipse cx="915" cy="1194.8" rx="2.2" ry="3.05" fill="#000"/>
<ellipse cx="931.84" cy="1194.42" rx="2.2" ry="3.05" fill="#000"/>
<ellipse cx="1032.86" cy="1201.9" rx="2.2" ry="3.05" fill="#000"/>
<ellipse cx="1026.5" cy="1211.63" rx="2.2" ry="3.05" fill="#000"/>
<ellipse cx="1031.73" cy="1218.37" rx="2.2" ry="3.05" fill="#000"/>
<ellipse cx="1001.05" cy="1223.61" rx="2.2" ry="3.05" fill="#000"/>
<ellipse cx="1001.05" cy="1226.6" rx="2.2" ry="3.05" fill="#000"/>
<ellipse cx="923.23" cy="1230.34" rx="2.2" ry="3.05" fill="#000"/>
<ellipse cx="921.73" cy="1232.21" rx="2.2" ry="3.05" fill="#000"/>
<ellipse cx="1012.65" cy="1235.95" rx="2.2" ry="3.05" fill="#000"/>
<ellipse cx="898.16" cy="1239.32" rx="2.2" ry="3.05" fill="#000"/>
<ellipse cx="1130.88" cy="1241.19" rx="2.2" ry="3.05" fill="#000"/>
<ellipse cx="923.23" cy="1247.93" rx="2.2" ry="3.05" fill="#000"/>
<ellipse cx="910.14" cy="1252.41" rx="2.2" ry="3.05" fill="#000"/>
<ellipse cx="937.45" cy="1252.41" rx="2.2" ry="3.05" fill="#000"/>
<ellipse cx="1032.11" cy="1250.92" rx="2.2" ry="3.05" fill="#000"/>
<ellipse cx="1043.33" cy="1249.8" rx="2.2" ry="3.05" fill="#000"/>
<ellipse cx="913.88" cy="1257.28" rx="2.2" ry="3.05" fill="#000"/>
<ellipse cx="1013.03" cy="1260.27" rx="2.2" ry="3.05" fill="#000"/>
<ellipse cx="997.31" cy="1264.39" rx="2.2" ry="3.05" fill="#000"/>
<ellipse cx="901.9" cy="1265.51" rx="2.2" ry="3.05" fill="#000"/>
<ellipse cx="925.1" cy="1264.01" rx="2.2" ry="3.05" fill="#000"/>
<ellipse cx="877.59" cy="1268.5" rx="2.2" ry="3.05" fill="#000"/>
<ellipse cx="906.77" cy="1271.12" rx="2.2" ry="3.05" fill="#000"/>
<ellipse cx="916.87" cy="1269.63" rx="2.2" ry="3.05" fill="#000"/>
<ellipse cx="919.86" cy="1269.63" rx="2.2" ry="3.05" fill="#000"/>
<ellipse cx="896.67" cy="1272.99" rx="2.2" ry="3.05" fill="#000"/>
<ellipse cx="1015.27" cy="1274.86" rx="2.2" ry="3.05" fill="#000"/>
<ellipse cx="919.86" cy="1278.61" rx="2.2" ry="3.05" fill="#000"/>
<ellipse cx="909.01" cy="1280.85" rx="2.2" ry="3.05" fill="#000"/>
<ellipse cx="975.61" cy="1282.72" rx="2.2" ry="3.05" fill="#000"/>
<ellipse cx="987.96" cy="1279.73" rx="2.2" ry="3.05" fill="#000"/>
<ellipse cx="983.1" cy="1285.34" rx="2.2" ry="3.05" fill="#000"/>
<ellipse cx="920.61" cy="1287.21" rx="2.2" ry="3.05" fill="#000"/>
<ellipse cx="1010.41" cy="1289.08" rx="2.2" ry="3.05" fill="#000"/>
<ellipse cx="1029.12" cy="1289.83" rx="2.2" ry="3.05" fill="#000"/>
<ellipse cx="915.75" cy="1295.44" rx="2.2" ry="3.05" fill="#000"/>
<ellipse cx="989.08" cy="1300.31" rx="2.2" ry="3.05" fill="#000"/>
<ellipse cx="934.46" cy="1299.18" rx="2.2" ry="3.05" fill="#000"/>
<ellipse cx="932.59" cy="1302.18" rx="2.2" ry="3.05" fill="#000"/>
<ellipse cx="1005.92" cy="1299.56" rx="2.2" ry="3.05" fill="#000"/>
<ellipse cx="1016.02" cy="1300.31" rx="2.2" ry="3.05" fill="#000"/>
<ellipse cx="1039.22" cy="1298.44" rx="2.2" ry="3.05" fill="#000"/>
<ellipse cx="997.31" cy="1308.54" rx="2.2" ry="3.05" fill="#000"/>
<ellipse cx="983.1" cy="1310.03" rx="2.2" ry="3.05" fill="#000"/>
<ellipse cx="1014.9" cy="1308.91" rx="2.2" ry="3.05" fill="#000"/>
<ellipse cx="995.44" cy="1313.4" rx="2.2" ry="3.05" fill="#000"/>
<ellipse cx="1030.24" cy="1315.27" rx="2.2" ry="3.05" fill="#000"/>
<ellipse cx="913.13" cy="1320.51" rx="2.2" ry="3.05" fill="#000"/>
<ellipse cx="919.49" cy="1319.76" rx="2.2" ry="3.05" fill="#000"/>
<ellipse cx="1001.8" cy="1320.14" rx="2.2" ry="3.05" fill="#000"/>
<ellipse cx="1033.98" cy="1321.63" rx="2.2" ry="3.05" fill="#000"/>
<ellipse cx="1041.46" cy="1322.38" rx="2.2" ry="3.05" fill="#000"/>
<ellipse cx="930.71" cy="1323.13" rx="2.2" ry="3.05" fill="#000"/>
<ellipse cx="938.2" cy="1325" rx="2.2" ry="3.05" fill="#000"/>
<ellipse cx="1017.14" cy="1323.88" rx="2.2" ry="3.05" fill="#000"/>
<ellipse cx="1086.36" cy="1318.27" rx="2.2" ry="3.05" fill="#000"/>
<ellipse cx="801.63" cy="1327.99" rx="2.2" ry="3.05" fill="#000"/>
<ellipse cx="1021.63" cy="1329.12" rx="2.2" ry="3.05" fill="#000"/>
<ellipse cx="929.22" cy="1329.49" rx="2.2" ry="3.05" fill="#000"/>
<ellipse cx="975.61" cy="1332.11" rx="2.2" ry="3.05" fill="#000"/>
<ellipse cx="979.35" cy="1332.86" rx="2.2" ry="3.05" fill="#000"/>
<ellipse cx="987.96" cy="1335.1" rx="2.2" ry="3.05" fill="#000"/>
<ellipse cx="992.82" cy="1333.98" rx="2.2" ry="3.05" fill="#000"/>
<ellipse cx="999.18" cy="1332.86" rx="2.2" ry="3.05" fill="#000"/>
<ellipse cx="907.52" cy="1337.72" rx="2.2" ry="3.05" fill="#000"/>
<ellipse cx="931.09" cy="1338.47" rx="2.2" ry="3.05" fill="#000"/>
<ellipse cx="936.7" cy="1339.59" rx="2.2" ry="3.05" fill="#000"/>
<ellipse cx="943.06" cy="1340.34" rx="2.2" ry="3.05" fill="#000"/>
<ellipse cx="986.09" cy="1340.71" rx="2.2" ry="3.05" fill="#000"/>
<ellipse cx="989.08" cy="1343.33" rx="2.2" ry="3.05" fill="#000"/>
<ellipse cx="1107.69" cy="1339.22" rx="2.2" ry="3.05" fill="#000"/>
<ellipse cx="1132.01" cy="1341.09" rx="2.2" ry="3.05" fill="#000"/>
<ellipse cx="893.3" cy="1345.95" rx="2.2" ry="3.05" fill="#000"/>
<ellipse cx="900.78" cy="1345.95" rx="2.2" ry="3.05" fill="#000"/>
<ellipse cx="929.97" cy="1344.08" rx="2.2" ry="3.05" fill="#000"/>
<ellipse cx="935.58" cy="1347.07" rx="2.2" ry="3.05" fill="#000"/>
<ellipse cx="940.44" cy="1348.95" rx="2.2" ry="3.05" fill="#000"/>
<ellipse cx="981.6" cy="1348.95" rx="2.2" ry="3.05" fill="#000"/>
<ellipse cx="1011.53" cy="1346.7" rx="2.2" ry="3.05" fill="#000"/>
<ellipse cx="1086.36" cy="1345.58" rx="2.2" ry="3.05" fill="#000"/>
<ellipse cx="893.3" cy="1351.94" rx="2.2" ry="3.05" fill="#000"/>
<ellipse cx="936.7" cy="1353.81" rx="2.2" ry="3.05" fill="#000"/>
<ellipse cx="1007.79" cy="1351.19" rx="2.2" ry="3.05" fill="#000"/>
<ellipse cx="926.22" cy="1357.55" rx="2.2" ry="3.05" fill="#000"/>
<ellipse cx="931.09" cy="1359.8" rx="2.2" ry="3.05" fill="#000"/>
<ellipse cx="939.32" cy="1362.04" rx="2.2" ry="3.05" fill="#000"/>
<ellipse cx="994.32" cy="1358.3" rx="2.2" ry="3.05" fill="#000"/>
<ellipse cx="985.34" cy="1362.04" rx="2.2" ry="3.05" fill="#000"/>
<ellipse cx="887.69" cy="1370.65" rx="2.2" ry="3.05" fill="#000"/>
<ellipse cx="888.44" cy="1373.27" rx="2.2" ry="3.05" fill="#000"/>
<ellipse cx="917.99" cy="1369.52" rx="2.2" ry="3.05" fill="#000"/>
<ellipse cx="918.74" cy="1374.39" rx="2.2" ry="3.05" fill="#000"/>
<ellipse cx="935.58" cy="1368.03" rx="2.2" ry="3.05" fill="#000"/>
<ellipse cx="943.81" cy="1371.77" rx="2.2" ry="3.05" fill="#000"/>
<ellipse cx="949.8" cy="1370.65" rx="2.2" ry="3.05" fill="#000"/>
<ellipse cx="978.61" cy="1377.01" rx="2.2" ry="3.05" fill="#000"/>
<ellipse cx="989.08" cy="1374.01" rx="2.2" ry="3.05" fill="#000"/>
<ellipse cx="994.69" cy="1375.14" rx="2.2" ry="3.05" fill="#000"/>
<ellipse cx="1001.05" cy="1378.13" rx="2.2" ry="3.05" fill="#000"/>
<ellipse cx="1067.65" cy="1377.01" rx="2.2" ry="3.05" fill="#000"/>
<ellipse cx="908.64" cy="1387.48" rx="2.2" ry="3.05" fill="#000"/>
<ellipse cx="928.1" cy="1383.74" rx="2.2" ry="3.05" fill="#000"/>
<ellipse cx="939.32" cy="1382.99" rx="2.2" ry="3.05" fill="#000"/>
<ellipse cx="971.12" cy="1388.23" rx="2.2" ry="3.05" fill="#000"/>
<ellipse cx="979.73" cy="1383.74" rx="2.2" ry="3.05" fill="#000"/>
<ellipse cx="997.31" cy="1388.98" rx="2.2" ry="3.05" fill="#000"/>
<ellipse cx="1004.05" cy="1382.99" rx="2.2" ry="3.05" fill="#000"/>
<ellipse cx="1047.82" cy="1384.49" rx="2.2" ry="3.05" fill="#000"/>
<ellipse cx="1042.21" cy="1391.97" rx="2.2" ry="3.05" fill="#000"/>
<ellipse cx="1059.05" cy="1390.1" rx="2.2" ry="3.05" fill="#000"/>
<ellipse cx="918.74" cy="1395.71" rx="2.2" ry="3.05" fill="#000"/>
<ellipse cx="935.58" cy="1397.59" rx="2.2" ry="3.05" fill="#000"/>
<ellipse cx="944.93" cy="1399.46" rx="2.2" ry="3.05" fill="#000"/>
<ellipse cx="981.6" cy="1396.46" rx="2.2" ry="3.05" fill="#000"/>
<ellipse cx="987.21" cy="1403.2" rx="2.2" ry="3.05" fill="#000"/>
<ellipse cx="1002.93" cy="1399.46" rx="2.2" ry="3.05" fill="#000"/>
<ellipse cx="879.46" cy="1403.2" rx="2.2" ry="3.05" fill="#000"/>
<ellipse cx="901.9" cy="1400.58" rx="2.2" ry="3.05" fill="#000"/>
<ellipse cx="883.2" cy="1412.55" rx="2.2" ry="3.05" fill="#000"/>
<ellipse cx="939.32" cy="1406.94" rx="2.2" ry="3.05" fill="#000"/>
<ellipse cx="948.67" cy="1414.42" rx="2.2" ry="3.05" fill="#000"/>
<ellipse cx="969.25" cy="1411.43" rx="2.2" ry="3.05" fill="#000"/>
<ellipse cx="974.86" cy="1405.07" rx="2.2" ry="3.05" fill="#000"/>
<ellipse cx="991.7" cy="1403.95" rx="2.2" ry="3.05" fill="#000"/>
<ellipse cx="999.18" cy="1408.06" rx="2.2" ry="3.05" fill="#000"/>
<ellipse cx="1009.66" cy="1422.65" rx="2.2" ry="3.05" fill="#000"/>
<ellipse cx="1017.89" cy="1426.39" rx="2.2" ry="3.05" fill="#000"/>
<ellipse cx="898.91" cy="1432.38" rx="2.2" ry="3.05" fill="#000"/>
<ellipse cx="929.97" cy="1428.64" rx="2.2" ry="3.05" fill="#000"/>
<ellipse cx="935.58" cy="1420.03" rx="2.2" ry="3.05" fill="#000"/>
<ellipse cx="946.8" cy="1426.39" rx="2.2" ry="3.05" fill="#000"/>
<ellipse cx="965.51" cy="1433.13" rx="2.2" ry="3.05" fill="#000"/>
<ellipse cx="981.22" cy="1423.78" rx="2.2" ry="3.05" fill="#000"/>
<ellipse cx="994.69" cy="1425.65" rx="2.2" ry="3.05" fill="#000"/>
<ellipse cx="921.73" cy="1436.12" rx="2.2" ry="3.05" fill="#000"/>
<ellipse cx="922.48" cy="1439.86" rx="2.2" ry="3.05" fill="#000"/>
<ellipse cx="931.84" cy="1442.48" rx="2.2" ry="3.05" fill="#000"/>
<ellipse cx="937.45" cy="1448.1" rx="2.2" ry="3.05" fill="#000"/>
<ellipse cx="944.93" cy="1438.74" rx="2.2" ry="3.05" fill="#000"/>
<ellipse cx="961.77" cy="1444.35" rx="2.2" ry="3.05" fill="#000"/>
<ellipse cx="972.99" cy="1440.61" rx="2.2" ry="3.05" fill="#000"/>
<ellipse cx="982.35" cy="1435" rx="2.2" ry="3.05" fill="#000"/>
<ellipse cx="989.83" cy="1436.87" rx="2.2" ry="3.05" fill="#000"/>
<ellipse cx="995.44" cy="1435" rx="2.2" ry="3.05" fill="#000"/>
<ellipse cx="1004.05" cy="1448.84" rx="2.2" ry="3.05" fill="#000"/>
<ellipse cx="942.31" cy="1455.58" rx="2.2" ry="3.05" fill="#000"/>
<ellipse cx="946.8" cy="1460.07" rx="2.2" ry="3.05" fill="#000"/>
<ellipse cx="965.51" cy="1455.58" rx="2.2" ry="3.05" fill="#000"/>
<ellipse cx="972.99" cy="1451.84" rx="2.2" ry="3.05" fill="#000"/>
<ellipse cx="982.35" cy="1453.71" rx="2.2" ry="3.05" fill="#000"/>
<ellipse cx="978.63" cy="1380.6" rx="2.2" ry="3.05" fill="#000"/>
<ellipse cx="986.3" cy="1344.69" rx="2.2" ry="3.05" fill="#000"/>
<ellipse cx="975.02" cy="1403.45" rx="2.2" ry="3.05" fill="#000"/>
<ellipse cx="954.97" cy="1453.57" rx="2.2" ry="3.05" fill="#000"/>
<ellipse cx="955.64" cy="1449.48" rx="2.2" ry="3.05" fill="#000"/>
<ellipse cx="960.76" cy="1457.35" rx="2.2" ry="3.05" fill="#000"/>
<ellipse cx="960.18" cy="1458.41" rx="2.2" ry="3.05" fill="#000"/>
<ellipse cx="955.67" cy="1449.01" rx="2.2" ry="3.05" fill="#000"/>
<ellipse cx="929.48" cy="1381.94" rx="2.2" ry="3.05" fill="#000"/>
<ellipse cx="930.41" cy="1369.95" rx="2.2" ry="3.05" fill="#000"/>
<ellipse cx="963.85" cy="1448.71" rx="2.2" ry="3.05" fill="#000"/>
<ellipse cx="958.26" cy="1460.86" rx="2.2" ry="3.05" fill="#000"/>
<ellipse cx="941.43" cy="1403" rx="2.2" ry="3.05" fill="#000"/>
<ellipse cx="969.13" cy="1431.44" rx="2.2" ry="3.05" fill="#000"/>
<ellipse cx="959.2" cy="1464.07" rx="2.2" ry="3.05" fill="#000"/>
<ellipse cx="982.91" cy="1346.44" rx="2.2" ry="3.05" fill="#000"/>
<ellipse cx="945.1" cy="1410.49" rx="2.2" ry="3.05" fill="#000"/>
<ellipse cx="929.77" cy="1340.17" rx="2.2" ry="3.05" fill="#000"/>
<ellipse cx="987.19" cy="1378.13" rx="2.2" ry="3.05" fill="#000"/>
<ellipse cx="937.55" cy="1363.43" rx="2.2" ry="3.05" fill="#000"/>
<ellipse cx="983.55" cy="1330" rx="2.2" ry="3.05" fill="#000"/>
<ellipse cx="952.59" cy="1445.94" rx="2.2" ry="3.05" fill="#000"/>
<ellipse cx="931.17" cy="1375.19" rx="2.2" ry="3.05" fill="#000"/>
<ellipse cx="956.45" cy="1455.38" rx="2.2" ry="3.05" fill="#000"/>
<ellipse cx="989.7" cy="1353.87" rx="2.2" ry="3.05" fill="#000"/>
<ellipse cx="970.89" cy="1429.07" rx="2.2" ry="3.05" fill="#000"/>
<ellipse cx="935.43" cy="1391.78" rx="2.2" ry="3.05" fill="#000"/>
<ellipse cx="931.53" cy="1339.79" rx="2.2" ry="3.05" fill="#000"/>
<ellipse cx="960.24" cy="1455.31" rx="2.2" ry="3.05" fill="#000"/>
<ellipse cx="980.51" cy="1373.77" rx="2.2" ry="3.05" fill="#000"/>
<ellipse cx="934.65" cy="1376.01" rx="2.2" ry="3.05" fill="#000"/>
<ellipse cx="983.22" cy="1358.53" rx="2.2" ry="3.05" fill="#000"/>
<ellipse cx="939.41" cy="1402.25" rx="2.2" ry="3.05" fill="#000"/>
<ellipse cx="957.03" cy="1456.71" rx="2.2" ry="3.05" fill="#000"/>
<ellipse cx="974.2" cy="1424.1" rx="2.2" ry="3.05" fill="#000"/>
<ellipse cx="954.36" cy="1443.01" rx="2.2" ry="3.05" fill="#000"/>
<ellipse cx="937.12" cy="1375.82" rx="2.2" ry="3.05" fill="#000"/>
<ellipse cx="979.35" cy="1409.43" rx="2.2" ry="3.05" fill="#000"/>
<ellipse cx="948.26" cy="1420.58" rx="2.2" ry="3.05" fill="#000"/>
<ellipse cx="930.2" cy="1369.1" rx="2.2" ry="3.05" fill="#000"/>
<ellipse cx="946.2" cy="1414.21" rx="2.2" ry="3.05" fill="#000"/>
<ellipse cx="935.84" cy="1391.45" rx="2.2" ry="3.05" fill="#000"/>
<ellipse cx="942.71" cy="1401.5" rx="2.2" ry="3.05" fill="#000"/>
<ellipse cx="934.73" cy="1354.07" rx="2.2" ry="3.05" fill="#000"/>
<ellipse cx="987.85" cy="1394.59" rx="2.2" ry="3.05" fill="#000"/>
<ellipse cx="935" cy="1356.73" rx="2.2" ry="3.05" fill="#000"/>
<ellipse cx="977.75" cy="1399.89" rx="2.2" ry="3.05" fill="#000"/>
<ellipse cx="972.53" cy="1422.14" rx="2.2" ry="3.05" fill="#000"/>
<ellipse cx="979.96" cy="1408.13" rx="2.2" ry="3.05" fill="#000"/>
<ellipse cx="956.79" cy="1458.69" rx="2.2" ry="3.05" fill="#000"/>
<ellipse cx="941.12" cy="1400.09" rx="2.2" ry="3.05" fill="#000"/>
<ellipse cx="955.43" cy="1451.33" rx="2.2" ry="3.05" fill="#000"/>
<ellipse cx="956.37" cy="1455.75" rx="2.2" ry="3.05" fill="#000"/>
<ellipse cx="951.49" cy="1440.87" rx="2.2" ry="3.05" fill="#000"/>
<ellipse cx="932.1" cy="1345.19" rx="2.2" ry="3.05" fill="#000"/>
<ellipse cx="950.62" cy="1423.73" rx="2.2" ry="3.05" fill="#000"/>
<ellipse cx="958.56" cy="1464.24" rx="2.2" ry="3.05" fill="#000"/>
<ellipse cx="952.63" cy="1448.55" rx="2.2" ry="3.05" fill="#000"/>
<ellipse cx="967.21" cy="1429.56" rx="2.2" ry="3.05" fill="#000"/>
<ellipse cx="957.11" cy="1458.82" rx="2.2" ry="3.05" fill="#000"/>
<ellipse cx="988.37" cy="1379.93" rx="2.2" ry="3.05" fill="#000"/>
<ellipse cx="958.78" cy="1463.79" rx="2.2" ry="3.05" fill="#000"/>
<ellipse cx="960.42" cy="1458.44" rx="2.2" ry="3.05" fill="#000"/>
<ellipse cx="949.96" cy="1429.34" rx="2.2" ry="3.05" fill="#000"/>
<ellipse cx="966.05" cy="1426.21" rx="2.2" ry="3.05" fill="#000"/>
<ellipse cx="954.66" cy="1446.37" rx="2.2" ry="3.05" fill="#000"/>
<ellipse cx="953.17" cy="1439.58" rx="2.2" ry="3.05" fill="#000"/>
<ellipse cx="948.54" cy="1417.3" rx="2.2" ry="3.05" fill="#000"/>
<ellipse cx="953.84" cy="1441.32" rx="2.2" ry="3.05" fill="#000"/>
<ellipse cx="946.7" cy="1417" rx="2.2" ry="3.05" fill="#000"/>
<ellipse cx="962.56" cy="1451.47" rx="2.2" ry="3.05" fill="#000"/>
<ellipse cx="963.71" cy="1450.62" rx="2.2" ry="3.05" fill="#000"/>
<ellipse cx="973.36" cy="1414.37" rx="2.2" ry="3.05" fill="#000"/>
<ellipse cx="963.9" cy="1451.33" rx="2.2" ry="3.05" fill="#000"/>
<ellipse cx="946.79" cy="1426.9" rx="2.2" ry="3.05" fill="#000"/>
<ellipse cx="972.89" cy="1407.72" rx="2.2" ry="3.05" fill="#000"/>
<ellipse cx="931.51" cy="1341.78" rx="2.2" ry="3.05" fill="#000"/>
<ellipse cx="937.44" cy="1399.86" rx="2.2" ry="3.05" fill="#000"/>
<ellipse cx="974.4" cy="1439.76" rx="2.2" ry="3.05" fill="#000"/>
<ellipse cx="951.15" cy="1433.26" rx="2.2" ry="3.05" fill="#000"/>
<ellipse cx="935.28" cy="1346.22" rx="2.2" ry="3.05" fill="#000"/>
<ellipse cx="967.62" cy="1434.08" rx="2.2" ry="3.05" fill="#000"/>
<ellipse cx="960.45" cy="1461.25" rx="2.2" ry="3.05" fill="#000"/>
<ellipse cx="952.86" cy="1437.51" rx="2.2" ry="3.05" fill="#000"/>
<ellipse cx="959.33" cy="1459.38" rx="2.2" ry="3.05" fill="#000"/>
<ellipse cx="975.57" cy="1384.78" rx="2.2" ry="3.05" fill="#000"/>
<ellipse cx="989.77" cy="1360.33" rx="2.2" ry="3.05" fill="#000"/>
<ellipse cx="961.97" cy="1454.13" rx="2.2" ry="3.05" fill="#000"/>
<ellipse cx="960.31" cy="1456.12" rx="2.2" ry="3.05" fill="#000"/>
<ellipse cx="943.95" cy="1413.42" rx="2.2" ry="3.05" fill="#000"/>
<ellipse cx="959.06" cy="1463.1" rx="2.2" ry="3.05" fill="#000"/>
<ellipse cx="958.35" cy="1462.72" rx="2.2" ry="3.05" fill="#000"/>
<ellipse cx="960.31" cy="1460.56" rx="2.2" ry="3.05" fill="#000"/>
<ellipse cx="969.42" cy="1420.04" rx="2.2" ry="3.05" fill="#000"/>
<ellipse cx="940.68" cy="1383.71" rx="2.2" ry="3.05" fill="#000"/>
<ellipse cx="931.78" cy="1385.48" rx="2.2" ry="3.05" fill="#000"/>
<ellipse cx="946.04" cy="1413.51" rx="2.2" ry="3.05" fill="#000"/>
<ellipse cx="957.25" cy="1457.54" rx="2.2" ry="3.05" fill="#000"/>
<ellipse cx="961.14" cy="1454.88" rx="2.2" ry="3.05" fill="#000"/>
<ellipse cx="941.81" cy="1395.17" rx="2.2" ry="3.05" fill="#000"/>
<ellipse cx="955.15" cy="1447.96" rx="2.2" ry="3.05" fill="#000"/>
<ellipse cx="936.69" cy="1356.81" rx="2.2" ry="3.05" fill="#000"/>
<ellipse cx="956.96" cy="1455.89" rx="2.2" ry="3.05" fill="#000"/>
<ellipse cx="957.55" cy="1459.18" rx="2.2" ry="3.05" fill="#000"/>
<ellipse cx="960.4" cy="1459.43" rx="2.2" ry="3.05" fill="#000"/>
<ellipse cx="952.8" cy="1444.26" rx="2.2" ry="3.05" fill="#000"/>
<ellipse cx="957.21" cy="1456.01" rx="2.2" ry="3.05" fill="#000"/>
<ellipse cx="967.64" cy="1427.44" rx="2.2" ry="3.05" fill="#000"/>
<ellipse cx="945.29" cy="1412.36" rx="2.2" ry="3.05" fill="#000"/>
<ellipse cx="958.59" cy="1464.32" rx="2.2" ry="3.05" fill="#000"/>
<ellipse cx="969.14" cy="1429.77" rx="2.2" ry="3.05" fill="#000"/>
<ellipse cx="932.69" cy="1378.04" rx="2.2" ry="3.05" fill="#000"/>
<ellipse cx="957.8" cy="1460.59" rx="2.2" ry="3.05" fill="#000"/>
<ellipse cx="951.33" cy="1434.19" rx="2.2" ry="3.05" fill="#000"/>
<ellipse cx="954.23" cy="1445.36" rx="2.2" ry="3.05" fill="#000"/>
<ellipse cx="948.38" cy="1409.1" rx="2.2" ry="3.05" fill="#000"/>
<ellipse cx="930.55" cy="1365.53" rx="2.2" ry="3.05" fill="#000"/>
<ellipse cx="930.21" cy="1332.83" rx="2.2" ry="3.05" fill="#000"/>
<ellipse cx="941.56" cy="1399.41" rx="2.2" ry="3.05" fill="#000"/>
<ellipse cx="958.65" cy="1464.28" rx="2.2" ry="3.05" fill="#000"/>
<ellipse cx="928.92" cy="1361.61" rx="2.2" ry="3.05" fill="#000"/>
<ellipse cx="954.09" cy="1444.67" rx="2.2" ry="3.05" fill="#000"/>
<ellipse cx="955.11" cy="1449.58" rx="2.2" ry="3.05" fill="#000"/>
<ellipse cx="967.56" cy="1434.47" rx="2.2" ry="3.05" fill="#000"/>
<ellipse cx="937.4" cy="1387.32" rx="2.2" ry="3.05" fill="#000"/>
<ellipse cx="928.18" cy="1367.68" rx="2.2" ry="3.05" fill="#000"/>
<ellipse cx="958.18" cy="1461.44" rx="2.2" ry="3.05" fill="#000"/>
<ellipse cx="959.16" cy="1463.59" rx="2.2" ry="3.05" fill="#000"/>
<ellipse cx="958.32" cy="1461.56" rx="2.2" ry="3.05" fill="#000"/>
<ellipse cx="958.41" cy="1462.21" rx="2.2" ry="3.05" fill="#000"/>
<ellipse cx="947.5" cy="1428.67" rx="2.2" ry="3.05" fill="#000"/>
<ellipse cx="953.31" cy="1439.35" rx="2.2" ry="3.05" fill="#000"/>
<ellipse cx="973.16" cy="1409.51" rx="2.2" ry="3.05" fill="#000"/>
<ellipse cx="946.46" cy="1429.21" rx="2.2" ry="3.05" fill="#000"/>
<ellipse cx="943.42" cy="1405.42" rx="2.2" ry="3.05" fill="#000"/>
<ellipse cx="949.42" cy="1426.37" rx="2.2" ry="3.05" fill="#000"/>
<ellipse cx="953.37" cy="1437.52" rx="2.2" ry="3.05" fill="#000"/>
<ellipse cx="964.21" cy="1444.89" rx="2.2" ry="3.05" fill="#000"/>
<ellipse cx="958.01" cy="1462.06" rx="2.2" ry="3.05" fill="#000"/>
<ellipse cx="958.3" cy="1463.21" rx="2.2" ry="3.05" fill="#000"/>
<ellipse cx="954.02" cy="1447.79" rx="2.2" ry="3.05" fill="#000"/>
<ellipse cx="953.31" cy="1441.75" rx="2.2" ry="3.05" fill="#000"/>
<ellipse cx="975.21" cy="1404.73" rx="2.2" ry="3.05" fill="#000"/>
<ellipse cx="935.84" cy="1394.94" rx="2.2" ry="3.05" fill="#000"/>
<ellipse cx="977.02" cy="1401.5" rx="2.2" ry="3.05" fill="#000"/>
<ellipse cx="957.31" cy="1458.97" rx="2.2" ry="3.05" fill="#000"/>
<ellipse cx="941.51" cy="1399.79" rx="2.2" ry="3.05" fill="#000"/>
<ellipse cx="971.7" cy="1417.44" rx="2.2" ry="3.05" fill="#000"/>
<ellipse cx="952.14" cy="1428.93" rx="2.2" ry="3.05" fill="#000"/>
<ellipse cx="962.23" cy="1455.27" rx="2.2" ry="3.05" fill="#000"/>
<ellipse cx="958.73" cy="1463.36" rx="2.2" ry="3.05" fill="#000"/>
<ellipse cx="959.69" cy="1462.71" rx="2.2" ry="3.05" fill="#000"/>
<ellipse cx="968.04" cy="1419.32" rx="2.2" ry="3.05" fill="#000"/>
<ellipse cx="953.23" cy="1439.54" rx="2.2" ry="3.05" fill="#000"/>
<ellipse cx="949.66" cy="1423.82" rx="2.2" ry="3.05" fill="#000"/>
<ellipse cx="929.1" cy="1359.42" rx="2.2" ry="3.05" fill="#000"/>
<ellipse cx="967.22" cy="1415.93" rx="2.2" ry="3.05" fill="#000"/>
<ellipse cx="945.16" cy="1432.11" rx="2.2" ry="3.05" fill="#000"/>
<ellipse cx="955.66" cy="1452.49" rx="2.2" ry="3.05" fill="#000"/>
<ellipse cx="952.15" cy="1438.59" rx="2.2" ry="3.05" fill="#000"/>
<ellipse cx="954.93" cy="1445.52" rx="2.2" ry="3.05" fill="#000"/>
<ellipse cx="973.88" cy="1418.44" rx="2.2" ry="3.05" fill="#000"/>
<ellipse cx="969.44" cy="1423.2" rx="2.2" ry="3.05" fill="#000"/>
<ellipse cx="939.88" cy="1385.6" rx="2.2" ry="3.05" fill="#000"/>
<ellipse cx="964.51" cy="1445.56" rx="2.2" ry="3.05" fill="#000"/>
<ellipse cx="981.03" cy="1390.44" rx="2.2" ry="3.05" fill="#000"/>
<ellipse cx="944.81" cy="1406.42" rx="2.2" ry="3.05" fill="#000"/>
<ellipse cx="958.64" cy="1463.07" rx="2.2" ry="3.05" fill="#000"/>
<ellipse cx="940.45" cy="1420.27" rx="2.2" ry="3.05" fill="#000"/>
<ellipse cx="986.37" cy="1379.18" rx="2.2" ry="3.05" fill="#000"/>
<ellipse cx="936.59" cy="1391.71" rx="2.2" ry="3.05" fill="#000"/>
<ellipse cx="970.5" cy="1425.08" rx="2.2" ry="3.05" fill="#000"/>
<ellipse cx="952.18" cy="1445.2" rx="2.2" ry="3.05" fill="#000"/>
<ellipse cx="964.06" cy="1443.43" rx="2.2" ry="3.05" fill="#000"/>
<ellipse cx="959.38" cy="1460.13" rx="2.2" ry="3.05" fill="#000"/>
<ellipse cx="985.18" cy="1386.43" rx="2.2" ry="3.05" fill="#000"/>
<ellipse cx="973.62" cy="1407.84" rx="2.2" ry="3.05" fill="#000"/>
<ellipse cx="962.41" cy="1448.9" rx="2.2" ry="3.05" fill="#000"/>
<ellipse cx="958.77" cy="1464.74" rx="2.2" ry="3.05" fill="#000"/>
<ellipse cx="985.29" cy="1346.46" rx="2.2" ry="3.05" fill="#000"/>
<ellipse cx="957.66" cy="1459.04" rx="2.2" ry="3.05" fill="#000"/>
<ellipse cx="965.88" cy="1436.94" rx="2.2" ry="3.05" fill="#000"/>
<ellipse cx="954.47" cy="1450.28" rx="2.2" ry="3.05" fill="#000"/>
<ellipse cx="943.13" cy="1403.45" rx="2.2" ry="3.05" fill="#000"/>
<ellipse cx="945.55" cy="1402" rx="2.2" ry="3.05" fill="#000"/>
<ellipse cx="967.14" cy="1443.16" rx="2.2" ry="3.05" fill="#000"/>
<ellipse cx="963.94" cy="1445.85" rx="2.2" ry="3.05" fill="#000"/>
<ellipse cx="961.29" cy="1455.73" rx="2.2" ry="3.05" fill="#000"/>
<ellipse cx="944.21" cy="1406.01" rx="2.2" ry="3.05" fill="#000"/>
<ellipse cx="942.63" cy="1406.97" rx="2.2" ry="3.05" fill="#000"/>
<ellipse cx="948.29" cy="1411.48" rx="2.2" ry="3.05" fill="#000"/>
<ellipse cx="934.41" cy="1391.54" rx="2.2" ry="3.05" fill="#000"/>
<ellipse cx="940.7" cy="1386.8" rx="2.2" ry="3.05" fill="#000"/>
<ellipse cx="956.13" cy="1454.27" rx="2.2" ry="3.05" fill="#000"/>
<ellipse cx="943.76" cy="1392.28" rx="2.2" ry="3.05" fill="#000"/>
<ellipse cx="981.7" cy="1372.95" rx="2.2" ry="3.05" fill="#000"/>
<ellipse cx="987.86" cy="1405.5" rx="2.2" ry="3.05" fill="#000"/>
<ellipse cx="957.75" cy="1460.7" rx="2.2" ry="3.05" fill="#000"/>
<ellipse cx="949.12" cy="1429.89" rx="2.2" ry="3.05" fill="#000"/>
<ellipse cx="950.82" cy="1439.71" rx="2.2" ry="3.05" fill="#000"/>
<ellipse cx="1087.48" cy="877.28" rx="2.2" ry="3.05" fill="#ff0000"/>
<ellipse cx="1082.24" cy="979.8" rx="2.2" ry="3.05" fill="#ff0000"/>
<ellipse cx="1070.65" cy="998.88" rx="2.2" ry="3.05" fill="#ff0000"/>
<ellipse cx="1084.86" cy="1030.68" rx="2.2" ry="3.05" fill="#ff0000"/>
<ellipse cx="1118.54" cy="1029.56" rx="2.2" ry="3.05" fill="#ff0000"/>
<ellipse cx="1112.93" cy="1056.87" rx="2.2" ry="3.05" fill="#ff0000"/>
<ellipse cx="1063.54" cy="1105.88" rx="2.2" ry="3.05" fill="#ff0000"/>
<ellipse cx="1067.65" cy="1157.52" rx="2.2" ry="3.05" fill="#ff0000"/>
<ellipse cx="1091.97" cy="1194.42" rx="2.2" ry="3.05" fill="#ff0000"/>
<ellipse cx="1096.46" cy="1200.41" rx="2.2" ry="3.05" fill="#ff0000"/>
<ellipse cx="1050.82" cy="1207.52" rx="2.2" ry="3.05" fill="#ff0000"/>
<ellipse cx="1056.43" cy="1212.38" rx="2.2" ry="3.05" fill="#ff0000"/>
<ellipse cx="1156.33" cy="1227.72" rx="2.2" ry="3.05" fill="#ff0000"/>
<ellipse cx="1061.67" cy="1246.05" rx="2.2" ry="3.05" fill="#ff0000"/>
<ellipse cx="1065.78" cy="1255.41" rx="2.2" ry="3.05" fill="#ff0000"/>
<ellipse cx="1178.03" cy="1272.99" rx="2.2" ry="3.05" fill="#ff0000"/>
<ellipse cx="1115.17" cy="1289.83" rx="2.2" ry="3.05" fill="#ff0000"/>
<ellipse cx="819.22" cy="1065.48" rx="2.2" ry="3.05" fill="#0000ff"/>
<ellipse cx="778.06" cy="1092.79" rx="2.2" ry="3.05" fill="#0000ff"/>
<ellipse cx="796.77" cy="1104.01" rx="2.2" ry="3.05" fill="#0000ff"/>
<ellipse cx="859.63" cy="1119.73" rx="2.2" ry="3.05" fill="#0000ff"/>
<ellipse cx="858.88" cy="1126.84" rx="2.2" ry="3.05" fill="#0000ff"/>
<ellipse cx="844.66" cy="1138.44" rx="2.2" ry="3.05" fill="#0000ff"/>
<ellipse cx="856.63" cy="1231.09" rx="2.2" ry="3.05" fill="#0000ff"/>
<ellipse cx="806.87" cy="1267.01" rx="2.2" ry="3.05" fill="#0000ff"/>
<ellipse cx="709.22" cy="1265.88" rx="2.2" ry="3.05" fill="#0000ff"/>
<ellipse cx="778.81" cy="1313.78" rx="2.2" ry="3.05" fill="#0000ff"/>
<ellipse cx="848.4" cy="1280.85" rx="2.2" ry="3.05" fill="#0000ff"/>
<line x1="1097.21" y1="1200.41" x2="1107.69" y2="1202.65" stroke="#ff0000" stroke-width="1" />
<text transform="translate(1075.88,899.09) scale(0.66,1)" font-size="17.9" text-anchor="middle" fill="#ff0000" stroke="#ff0000" stroke-width="0.3">PMS2</text>
<text transform="translate(1093.84,973.17) scale(0.66,1)" font-size="17.9" text-anchor="middle" fill="#ff0000" stroke="#ff0000" stroke-width="0.3">MSH2</text>
<text transform="translate(1059.05,1021.44) scale(0.66,1)" font-size="17.9" text-anchor="middle" fill="#ff0000" stroke="#ff0000" stroke-width="0.3">Lasu1</text>
<text transform="translate(1073.27,1053.24) scale(0.66,1)" font-size="17.9" text-anchor="middle" fill="#ff0000" stroke="#ff0000" stroke-width="0.3">TFRC</text>
<text transform="translate(1129.76,1023.31) scale(0.66,1)" font-size="17.9" text-anchor="middle" fill="#ff0000" stroke="#ff0000" stroke-width="0.3">PAX8</text>
<text transform="translate(1124.9,1079.43) scale(0.66,1)" font-size="17.9" text-anchor="middle" fill="#ff0000" stroke="#ff0000" stroke-width="0.3">PTEN</text>
<text transform="translate(1075.14,1100.01) scale(0.66,1)" font-size="17.9" text-anchor="middle" fill="#ff0000" stroke="#ff0000" stroke-width="0.3">eEF2K</text>
<text transform="translate(1055.68,1150.89) scale(0.66,1)" font-size="17.9" text-anchor="middle" fill="#ff0000" stroke="#ff0000" stroke-width="0.3">MSH6</text>
<text transform="translate(1084.12,1188.17) scale(0.66,1)" font-size="17.9" text-anchor="middle" fill="#ff0000" stroke="#ff0000" stroke-width="0.3">PKCa</text>
<text transform="translate(1132.76,1210.25) scale(0.66,1)" font-size="17.9" text-anchor="middle" fill="#ff0000" stroke="#ff0000" stroke-width="0.3">CRABP2</text>
<text transform="translate(1038.84,1201.64) scale(0.66,1)" font-size="17.9" text-anchor="middle" fill="#ff0000" stroke="#ff0000" stroke-width="0.3">TRIM25</text>
<text transform="translate(1075.88,1235.31) scale(0.66,1)" font-size="17.9" text-anchor="middle" fill="#ff0000" stroke="#ff0000" stroke-width="0.3">PKC-a-b-II_pT638_T641</text>
<text transform="translate(1167.55,1251.03) scale(0.66,1)" font-size="17.9" text-anchor="middle" fill="#ff0000" stroke="#ff0000" stroke-width="0.3">eEF2</text>
<text transform="translate(1017.89,1260.38) scale(0.66,1)" font-size="17.9" text-anchor="middle" fill="#ff0000" stroke="#ff0000" stroke-width="0.3">Glutaminase</text>
<text transform="translate(1077.76,1277.97) scale(0.66,1)" font-size="17.9" text-anchor="middle" fill="#ff0000" stroke="#ff0000" stroke-width="0.3">WIPI1</text>
<text transform="translate(1166.05,1295.55) scale(0.66,1)" font-size="17.9" text-anchor="middle" fill="#ff0000" stroke="#ff0000" stroke-width="0.3">PDK1</text>
<text transform="translate(1115.17,1312.76) scale(0.66,1)" font-size="17.9" text-anchor="middle" fill="#ff0000" stroke="#ff0000" stroke-width="0.3">Claudin-7</text>
<text transform="translate(830.44,1059.6) scale(0.66,1)" font-size="17.9" text-anchor="middle" fill="#0000ff" stroke="#0000ff" stroke-width="0.3">MEK1</text>
<text transform="translate(766.84,1086.54) scale(0.66,1)" font-size="17.9" text-anchor="middle" fill="#0000ff" stroke="#0000ff" stroke-width="0.3">CA9</text>
<text transform="translate(808.37,1126.57) scale(0.66,1)" font-size="17.9" text-anchor="middle" fill="#0000ff" stroke="#0000ff" stroke-width="0.3">CD44</text>
<text transform="translate(870.85,1113.1) scale(0.66,1)" font-size="17.9" text-anchor="middle" fill="#0000ff" stroke="#0000ff" stroke-width="0.3">HMHA1</text>
<text transform="translate(886.19,1149.02) scale(0.66,1)" font-size="17.9" text-anchor="middle" fill="#0000ff" stroke="#0000ff" stroke-width="0.3">VEGFR-2</text>
<text transform="translate(833.06,1160.99) scale(0.66,1)" font-size="17.9" text-anchor="middle" fill="#0000ff" stroke="#0000ff" stroke-width="0.3">Rad51</text>
<text transform="translate(868.23,1224.84) scale(0.66,1)" font-size="17.9" text-anchor="middle" fill="#0000ff" stroke="#0000ff" stroke-width="0.3">H2AX_pS139</text>
<text transform="translate(794.9,1260.38) scale(0.66,1)" font-size="17.9" text-anchor="middle" fill="#0000ff" stroke="#0000ff" stroke-width="0.3">NDRG1_pT346</text>
<text transform="translate(720.82,1288.82) scale(0.66,1)" font-size="17.9" text-anchor="middle" fill="#0000ff" stroke="#0000ff" stroke-width="0.3">S100A4</text>
<text transform="translate(790.03,1307.15) scale(0.66,1)" font-size="17.9" text-anchor="middle" fill="#0000ff" stroke="#0000ff" stroke-width="0.3">SOX7</text>
<text transform="translate(859.25,1303.41) scale(0.66,1)" font-size="17.9" text-anchor="middle" fill="#0000ff" stroke="#0000ff" stroke-width="0.3">PAR</text>
<ellipse cx="1175.03" cy="1284.59" rx="38.54" ry="30.68" fill="none" stroke="#000" stroke-width="2.4"/>
<text transform="translate(1219.93,1130.73) scale(0.75,1)" font-size="16.5" fill="#111">diffexpressed</text>
<ellipse cx="1230.03" cy="1155.64" rx="1.8" ry="2.4" fill="#0000ff"/>
<text transform="translate(1229.73,1163.34) scale(0.72,1)" font-size="15.5" font-weight="bold" text-anchor="middle" fill="#0000ff">a</text>
<text transform="translate(1246.12,1161.74) scale(0.67,1)" font-size="15" fill="#111">DOWN</text>
<ellipse cx="1230.03" cy="1183.94" rx="1.8" ry="2.4" fill="#000"/>
<text transform="translate(1229.73,1191.64) scale(0.72,1)" font-size="15.5" font-weight="bold" text-anchor="middle">a</text>
<text transform="translate(1246.12,1190.04) scale(0.67,1)" font-size="15" fill="#111">NO</text>
<ellipse cx="1230.03" cy="1212" rx="1.8" ry="2.4" fill="#ff0000"/>
<text transform="translate(1229.73,1219.7) scale(0.72,1)" font-size="15.5" font-weight="bold" text-anchor="middle" fill="#ff0000">a</text>
<text transform="translate(1246.12,1218.1) scale(0.67,1)" font-size="15" fill="#111">UP</text>
</g>
<g id="p-f3_table">
<text transform="translate(1464.94,907.56)" font-size="33" font-weight="bold" textLength="338.18" lengthAdjust="spacingAndGlyphs">H1975-OsiR vs H1975</text>
<rect x="1297.07" y="927.88" width="175.4" height="32.92" fill="#5b9bd5"/>
<rect x="1473.48" y="927.88" width="205.08" height="32.92" fill="#5b9bd5"/>
<text transform="translate(1576.51,952.02)" font-size="23" font-weight="bold" text-anchor="middle">ANOVA</text>
<rect x="1679.55" y="927.88" width="316.63" height="32.92" fill="#5b9bd5"/>
<text transform="translate(1837.87,952.02)" font-size="23" font-weight="bold" text-anchor="middle">Pairwise</text>
<rect x="1297.07" y="964.05" width="175.4" height="60.56" fill="#cfd8ea"/>
<text transform="translate(1385.27,989.25)" font-size="23" font-weight="bold" text-anchor="middle">Protein</text>
<rect x="1473.48" y="964.05" width="122.16" height="60.56" fill="#cfd8ea"/>
<text transform="translate(1535.06,989.25)" font-size="23" font-weight="bold" text-anchor="middle">p-Value</text>
<rect x="1596.63" y="964.05" width="81.92" height="60.56" fill="#cfd8ea"/>
<text transform="translate(1638.09,989.25)" font-size="23" font-weight="bold" text-anchor="middle">FDR</text>
<rect x="1679.55" y="964.05" width="122.16" height="60.56" fill="#cfd8ea"/>
<text transform="translate(1741.13,989.25)" font-size="23" font-weight="bold" text-anchor="middle">Fold</text>
<text transform="translate(1741.13,1016.45)" font-size="23" font-weight="bold" text-anchor="middle">Change</text>
<rect x="1802.71" y="964.05" width="110.78" height="60.56" fill="#cfd8ea"/>
<text transform="translate(1858.6,989.25)" font-size="23" font-weight="bold" text-anchor="middle">p-Value</text>
<rect x="1914.49" y="964.05" width="81.7" height="60.56" fill="#cfd8ea"/>
<text transform="translate(1955.34,989.25)" font-size="23" font-weight="bold" text-anchor="middle">FDR</text>
<rect x="1297.07" y="1026.65" width="175.4" height="39.99" fill="#e9ecf5"/>
<text transform="translate(1385.27,1053.41)" font-size="23" font-weight="bold" text-anchor="middle">PDK1</text>
<rect x="1473.48" y="1026.65" width="122.16" height="39.99" fill="#e9ecf5"/>
<text transform="translate(1535.06,1053.41)" font-size="23" font-weight="bold" text-anchor="middle">0.000</text>
<rect x="1596.63" y="1026.65" width="81.92" height="39.99" fill="#e9ecf5"/>
<text transform="translate(1638.09,1053.41)" font-size="23" font-weight="bold" text-anchor="middle">0.000</text>
<rect x="1679.55" y="1026.65" width="122.16" height="39.99" fill="#e9ecf5"/>
<text transform="translate(1741.13,1053.41)" font-size="23" font-weight="bold" text-anchor="middle">2.783</text>
<rect x="1802.71" y="1026.65" width="110.78" height="39.99" fill="#e9ecf5"/>
<text transform="translate(1858.6,1053.41)" font-size="23" font-weight="bold" text-anchor="middle">0.003</text>
<rect x="1914.49" y="1026.65" width="81.7" height="39.99" fill="#e9ecf5"/>
<text transform="translate(1955.34,1053.41)" font-size="23" font-weight="bold" text-anchor="middle">0.017</text>
<rect x="1297.07" y="1067.84" width="175.4" height="39.99" fill="#d0d9eb"/>
<text transform="translate(1385.27,1094.61)" font-size="23" font-weight="bold" text-anchor="middle">PTEN</text>
<rect x="1473.48" y="1067.84" width="122.16" height="39.99" fill="#d0d9eb"/>
<text transform="translate(1535.06,1094.61)" font-size="23" font-weight="bold" text-anchor="middle">0.000</text>
<rect x="1596.63" y="1067.84" width="81.92" height="39.99" fill="#d0d9eb"/>
<text transform="translate(1638.09,1094.61)" font-size="23" font-weight="bold" text-anchor="middle">0.000</text>
<rect x="1679.55" y="1067.84" width="122.16" height="39.99" fill="#d0d9eb"/>
<text transform="translate(1741.13,1094.61)" font-size="23" font-weight="bold" text-anchor="middle">2.055</text>
<rect x="1802.71" y="1067.84" width="110.78" height="39.99" fill="#d0d9eb"/>
<text transform="translate(1858.6,1094.61)" font-size="23" font-weight="bold" text-anchor="middle">0.000</text>
<rect x="1914.49" y="1067.84" width="81.7" height="39.99" fill="#d0d9eb"/>
<text transform="translate(1955.34,1094.61)" font-size="23" font-weight="bold" text-anchor="middle">0.000</text>
<rect x="1297.07" y="1109.04" width="175.4" height="39.99" fill="#e9ecf5"/>
<text transform="translate(1385.27,1135.8)" font-size="23" font-weight="bold" text-anchor="middle">B-Raf</text>
<rect x="1473.48" y="1109.04" width="122.16" height="39.99" fill="#e9ecf5"/>
<text transform="translate(1535.06,1135.8)" font-size="23" font-weight="bold" text-anchor="middle">0.007</text>
<rect x="1596.63" y="1109.04" width="81.92" height="39.99" fill="#e9ecf5"/>
<text transform="translate(1638.09,1135.8)" font-size="23" font-weight="bold" text-anchor="middle">0.013</text>
<rect x="1679.55" y="1109.04" width="122.16" height="39.99" fill="#e9ecf5"/>
<text transform="translate(1741.13,1135.8)" font-size="23" font-weight="bold" text-anchor="middle">1.399</text>
<rect x="1802.71" y="1109.04" width="110.78" height="39.99" fill="#e9ecf5"/>
<text transform="translate(1858.6,1135.8)" font-size="23" font-weight="bold" text-anchor="middle">0.012</text>
<rect x="1914.49" y="1109.04" width="81.7" height="39.99" fill="#e9ecf5"/>
<text transform="translate(1955.34,1135.8)" font-size="23" font-weight="bold" text-anchor="middle">0.044</text>
<rect x="1297.07" y="1150.23" width="175.4" height="39.99" fill="#d0d9eb"/>
<text transform="translate(1385.27,1177)" font-size="23" font-weight="bold" text-anchor="middle">Akt1</text>
<rect x="1473.48" y="1150.23" width="122.16" height="39.99" fill="#d0d9eb"/>
<text transform="translate(1535.06,1177)" font-size="23" font-weight="bold" text-anchor="middle">0.004</text>
<rect x="1596.63" y="1150.23" width="81.92" height="39.99" fill="#d0d9eb"/>
<text transform="translate(1638.09,1177)" font-size="23" font-weight="bold" text-anchor="middle">0.008</text>
<rect x="1679.55" y="1150.23" width="122.16" height="39.99" fill="#d0d9eb"/>
<text transform="translate(1741.13,1177)" font-size="23" font-weight="bold" text-anchor="middle">1.386</text>
<rect x="1802.71" y="1150.23" width="110.78" height="39.99" fill="#d0d9eb"/>
<text transform="translate(1858.6,1177)" font-size="23" font-weight="bold" text-anchor="middle">0.005</text>
<rect x="1914.49" y="1150.23" width="81.7" height="39.99" fill="#d0d9eb"/>
<text transform="translate(1955.34,1177)" font-size="23" font-weight="bold" text-anchor="middle">0.024</text>
<rect x="1297.07" y="1191.43" width="175.4" height="39.99" fill="#e9ecf5"/>
<text transform="translate(1385.27,1218.19)" font-size="23" font-weight="bold" text-anchor="middle">A-Raf</text>
<rect x="1473.48" y="1191.43" width="122.16" height="39.99" fill="#e9ecf5"/>
<text transform="translate(1535.06,1218.19)" font-size="23" font-weight="bold" text-anchor="middle">0.000</text>
<rect x="1596.63" y="1191.43" width="81.92" height="39.99" fill="#e9ecf5"/>
<text transform="translate(1638.09,1218.19)" font-size="23" font-weight="bold" text-anchor="middle">0.000</text>
<rect x="1679.55" y="1191.43" width="122.16" height="39.99" fill="#e9ecf5"/>
<text transform="translate(1741.13,1218.19)" font-size="23" font-weight="bold" text-anchor="middle">1.314</text>
<rect x="1802.71" y="1191.43" width="110.78" height="39.99" fill="#e9ecf5"/>
<text transform="translate(1858.6,1218.19)" font-size="23" font-weight="bold" text-anchor="middle">0.000</text>
<rect x="1914.49" y="1191.43" width="81.7" height="39.99" fill="#e9ecf5"/>
<text transform="translate(1955.34,1218.19)" font-size="23" font-weight="bold" text-anchor="middle">0.001</text>
<rect x="1297.07" y="1232.62" width="175.4" height="39.99" fill="#d0d9eb"/>
<text transform="translate(1385.27,1259.39)" font-size="23" font-weight="bold" text-anchor="middle">p38-MAPK</text>
<rect x="1473.48" y="1232.62" width="122.16" height="39.99" fill="#d0d9eb"/>
<text transform="translate(1535.06,1259.39)" font-size="23" font-weight="bold" text-anchor="middle">0.000</text>
<rect x="1596.63" y="1232.62" width="81.92" height="39.99" fill="#d0d9eb"/>
<text transform="translate(1638.09,1259.39)" font-size="23" font-weight="bold" text-anchor="middle">0.000</text>
<rect x="1679.55" y="1232.62" width="122.16" height="39.99" fill="#d0d9eb"/>
<text transform="translate(1741.13,1259.39)" font-size="23" font-weight="bold" text-anchor="middle">1.284</text>
<rect x="1802.71" y="1232.62" width="110.78" height="39.99" fill="#d0d9eb"/>
<text transform="translate(1858.6,1259.39)" font-size="23" font-weight="bold" text-anchor="middle">0.002</text>
<rect x="1914.49" y="1232.62" width="81.7" height="39.99" fill="#d0d9eb"/>
<text transform="translate(1955.34,1259.39)" font-size="23" font-weight="bold" text-anchor="middle">0.013</text>
<rect x="1297.07" y="1273.82" width="175.4" height="39.99" fill="#e9ecf5"/>
<text transform="translate(1385.27,1300.58)" font-size="23" font-weight="bold" text-anchor="middle">mTOR_pS2448</text>
<rect x="1473.48" y="1273.82" width="122.16" height="39.99" fill="#e9ecf5"/>
<text transform="translate(1535.06,1300.58)" font-size="23" font-weight="bold" text-anchor="middle">0.002</text>
<rect x="1596.63" y="1273.82" width="81.92" height="39.99" fill="#e9ecf5"/>
<text transform="translate(1638.09,1300.58)" font-size="23" font-weight="bold" text-anchor="middle">0.005</text>
<rect x="1679.55" y="1273.82" width="122.16" height="39.99" fill="#e9ecf5"/>
<text transform="translate(1741.13,1300.58)" font-size="23" font-weight="bold" text-anchor="middle">1.258</text>
<rect x="1802.71" y="1273.82" width="110.78" height="39.99" fill="#e9ecf5"/>
<text transform="translate(1858.6,1300.58)" font-size="23" font-weight="bold" text-anchor="middle">0.007</text>
<rect x="1914.49" y="1273.82" width="81.7" height="39.99" fill="#e9ecf5"/>
<text transform="translate(1955.34,1300.58)" font-size="23" font-weight="bold" text-anchor="middle">0.030</text>
<rect x="1297.07" y="1315.01" width="175.4" height="39.99" fill="#d0d9eb"/>
<text transform="translate(1385.27,1341.78)" font-size="23" font-weight="bold" text-anchor="middle">C-Raf_pS338</text>
<rect x="1473.48" y="1315.01" width="122.16" height="39.99" fill="#d0d9eb"/>
<text transform="translate(1535.06,1341.78)" font-size="23" font-weight="bold" text-anchor="middle">0.001</text>
<rect x="1596.63" y="1315.01" width="81.92" height="39.99" fill="#d0d9eb"/>
<text transform="translate(1638.09,1341.78)" font-size="23" font-weight="bold" text-anchor="middle">0.002</text>
<rect x="1679.55" y="1315.01" width="122.16" height="39.99" fill="#d0d9eb"/>
<text transform="translate(1741.13,1341.78)" font-size="23" font-weight="bold" text-anchor="middle">1.082</text>
<rect x="1802.71" y="1315.01" width="110.78" height="39.99" fill="#d0d9eb"/>
<text transform="translate(1858.6,1341.78)" font-size="23" font-weight="bold" text-anchor="middle">0.004</text>
<rect x="1914.49" y="1315.01" width="81.7" height="39.99" fill="#d0d9eb"/>
<text transform="translate(1955.34,1341.78)" font-size="23" font-weight="bold" text-anchor="middle">0.021</text>
<rect x="1297.07" y="1356.21" width="175.4" height="39.99" fill="#e9ecf5"/>
<text transform="translate(1385.27,1382.97)" font-size="23" font-weight="bold" text-anchor="middle">MEK1</text>
<rect x="1473.48" y="1356.21" width="122.16" height="39.99" fill="#e9ecf5"/>
<text transform="translate(1535.06,1382.97)" font-size="23" font-weight="bold" text-anchor="middle">0.000</text>
<rect x="1596.63" y="1356.21" width="81.92" height="39.99" fill="#e9ecf5"/>
<text transform="translate(1638.09,1382.97)" font-size="23" font-weight="bold" text-anchor="middle">0.000</text>
<rect x="1679.55" y="1356.21" width="122.16" height="39.99" fill="#e9ecf5"/>
<text transform="translate(1741.13,1382.97)" font-size="23" font-weight="bold" text-anchor="middle">-1.923</text>
<rect x="1802.71" y="1356.21" width="110.78" height="39.99" fill="#e9ecf5"/>
<text transform="translate(1858.6,1382.97)" font-size="23" font-weight="bold" text-anchor="middle">0.000</text>
<rect x="1914.49" y="1356.21" width="81.7" height="39.99" fill="#e9ecf5"/>
<text transform="translate(1955.34,1382.97)" font-size="23" font-weight="bold" text-anchor="middle">0.000</text>
</g>
<g id="p-g1_heatmap">
<text transform="translate(19.83,1571.26) scale(0.95,1)" font-size="43" font-weight="bold">g</text>
<text transform="translate(88.67,1610.92)" font-size="33" font-weight="bold" textLength="312.41" lengthAdjust="spacingAndGlyphs">Osimertinib vs Cont</text>
<rect x="52.76" y="1618.78" width="412.31" height="14.03" fill="#00ff00"/>
<rect x="52.76" y="1632.62" width="206.16" height="14.59" fill="#00ff00"/>
<rect x="258.91" y="1632.62" width="206.16" height="14.59" fill="#0000ff"/>
<text transform="translate(42.65,1630) scale(0.88,1)" font-size="9.5" text-anchor="end" fill="#222">Cellline</text>
<text transform="translate(42.65,1644.59) scale(0.88,1)" font-size="9.5" text-anchor="end" fill="#222">Treatmen</text>
<g shape-rendering="crispEdges">
<rect x="52.76" y="1653.95" width="69.02" height="3.6" fill="#8a8aff"/>
<rect x="52.76" y="1657.24" width="69.02" height="3.6" fill="#a1a1ff"/>
<rect x="52.76" y="1660.54" width="69.02" height="3.6" fill="#d0d0ff"/>
<rect x="52.76" y="1663.84" width="69.02" height="3.6" fill="#b9b9ff"/>
<rect x="52.76" y="1667.14" width="69.02" height="3.6" fill="#a1a1ff"/>
<rect x="52.76" y="1670.43" width="69.02" height="3.6" fill="#b9b9ff"/>
<rect x="52.76" y="1673.73" width="69.02" height="13.49" fill="#a1a1ff"/>
<rect x="52.76" y="1686.92" width="69.02" height="3.6" fill="#d0d0ff"/>
<rect x="52.76" y="1690.22" width="69.02" height="3.6" fill="#b9b9ff"/>
<rect x="52.76" y="1693.52" width="69.02" height="3.6" fill="#5b5bff"/>
<rect x="52.76" y="1696.81" width="69.02" height="3.6" fill="#4343ff"/>
<rect x="52.76" y="1700.11" width="69.02" height="6.9" fill="#7272ff"/>
<rect x="52.76" y="1706.71" width="69.02" height="3.6" fill="#5b5bff"/>
<rect x="52.76" y="1710.01" width="69.02" height="3.6" fill="#4343ff"/>
<rect x="52.76" y="1713.3" width="69.02" height="3.6" fill="#8a8aff"/>
<rect x="52.76" y="1716.6" width="69.02" height="6.9" fill="#7272ff"/>
<rect x="52.76" y="1723.2" width="69.02" height="3.6" fill="#8a8aff"/>
<rect x="52.76" y="1726.49" width="69.02" height="3.6" fill="#5b5bff"/>
<rect x="52.76" y="1729.79" width="69.02" height="3.6" fill="#7272ff"/>
<rect x="52.76" y="1733.09" width="69.02" height="3.6" fill="#5b5bff"/>
<rect x="52.76" y="1736.39" width="69.02" height="3.6" fill="#8a8aff"/>
<rect x="52.76" y="1739.68" width="69.02" height="6.9" fill="#4343ff"/>
<rect x="52.76" y="1746.28" width="69.02" height="6.9" fill="#b9b9ff"/>
<rect x="52.76" y="1752.87" width="69.02" height="3.6" fill="#a1a1ff"/>
<rect x="52.76" y="1756.17" width="69.02" height="3.6" fill="#8a8aff"/>
<rect x="52.76" y="1759.47" width="69.02" height="6.9" fill="#b9b9ff"/>
<rect x="52.76" y="1766.07" width="69.02" height="3.6" fill="#a1a1ff"/>
<rect x="52.76" y="1769.36" width="69.02" height="3.6" fill="#b9b9ff"/>
<rect x="52.76" y="1772.66" width="69.02" height="10.19" fill="#8a8aff"/>
<rect x="52.76" y="1782.55" width="69.02" height="3.6" fill="#a1a1ff"/>
<rect x="52.76" y="1785.85" width="69.02" height="3.6" fill="#b9b9ff"/>
<rect x="52.76" y="1789.15" width="69.02" height="3.6" fill="#a1a1ff"/>
<rect x="52.76" y="1792.45" width="69.02" height="6.9" fill="#e8e8ff"/>
<rect x="52.76" y="1799.04" width="69.02" height="6.9" fill="#b9b9ff"/>
<rect x="52.76" y="1805.64" width="69.02" height="3.6" fill="#8a8aff"/>
<rect x="52.76" y="1808.93" width="69.02" height="10.19" fill="#a1a1ff"/>
<rect x="52.76" y="1818.83" width="69.02" height="6.9" fill="#8a8aff"/>
<rect x="52.76" y="1825.42" width="69.02" height="3.6" fill="#a1a1ff"/>
<rect x="52.76" y="1828.72" width="69.02" height="3.6" fill="#8a8aff"/>
<rect x="52.76" y="1832.02" width="69.02" height="3.6" fill="#7272ff"/>
<rect x="52.76" y="1835.32" width="69.02" height="3.6" fill="#8a8aff"/>
<rect x="52.76" y="1838.61" width="69.02" height="10.19" fill="#b9b9ff"/>
<rect x="52.76" y="1848.51" width="69.02" height="10.19" fill="#a1a1ff"/>
<rect x="52.76" y="1858.4" width="69.02" height="13.49" fill="#8a8aff"/>
<rect x="52.76" y="1871.59" width="69.02" height="3.6" fill="#a1a1ff"/>
<rect x="52.76" y="1874.89" width="69.02" height="3.6" fill="#7272ff"/>
<rect x="52.76" y="1878.18" width="69.02" height="6.9" fill="#8a8aff"/>
<rect x="52.76" y="1884.78" width="69.02" height="3.6" fill="#5b5bff"/>
<rect x="52.76" y="1888.08" width="69.02" height="3.6" fill="#7272ff"/>
<rect x="52.76" y="1891.38" width="69.02" height="3.6" fill="#5b5bff"/>
<rect x="52.76" y="1894.67" width="69.02" height="6.9" fill="#7272ff"/>
<rect x="52.76" y="1901.27" width="69.02" height="3.6" fill="#5b5bff"/>
<rect x="52.76" y="1904.57" width="69.02" height="3.6" fill="#a1a1ff"/>
<rect x="52.76" y="1907.86" width="69.02" height="10.19" fill="#8a8aff"/>
<rect x="52.76" y="1917.76" width="69.02" height="3.6" fill="#5b5bff"/>
<rect x="52.76" y="1921.05" width="69.02" height="3.6" fill="#7272ff"/>
<rect x="52.76" y="1924.35" width="69.02" height="6.9" fill="#4343ff"/>
<rect x="52.76" y="1930.95" width="69.02" height="6.9" fill="#5b5bff"/>
<rect x="52.76" y="1937.54" width="69.02" height="3.6" fill="#ff8a8a"/>
<rect x="52.76" y="1940.84" width="69.02" height="3.6" fill="#ffa1a1"/>
<rect x="52.76" y="1944.14" width="69.02" height="3.6" fill="#ff8a8a"/>
<rect x="52.76" y="1947.44" width="69.02" height="3.6" fill="#ff7272"/>
<rect x="52.76" y="1950.73" width="69.02" height="3.6" fill="#ff8a8a"/>
<rect x="52.76" y="1954.03" width="69.02" height="3.6" fill="#ff5b5b"/>
<rect x="52.76" y="1957.33" width="69.02" height="6.9" fill="#ffa1a1"/>
<rect x="52.76" y="1963.92" width="69.02" height="6.9" fill="#ff8a8a"/>
<rect x="52.76" y="1970.52" width="69.02" height="3.6" fill="#ff7272"/>
<rect x="52.76" y="1973.82" width="69.02" height="6.9" fill="#ff8a8a"/>
<rect x="52.76" y="1980.41" width="69.02" height="3.6" fill="#ff7272"/>
<rect x="52.76" y="1983.71" width="69.02" height="3.6" fill="#ff8a8a"/>
<rect x="52.76" y="1987.01" width="69.02" height="3.6" fill="#ff7272"/>
<rect x="52.76" y="1990.3" width="69.02" height="3.6" fill="#ffb9b9"/>
<rect x="52.76" y="1993.6" width="69.02" height="3.6" fill="#ffa1a1"/>
<rect x="52.76" y="1996.9" width="69.02" height="6.9" fill="#ffb9b9"/>
<rect x="52.76" y="2003.5" width="69.02" height="3.6" fill="#ff5b5b"/>
<rect x="52.76" y="2006.79" width="69.02" height="10.19" fill="#ff7272"/>
<rect x="52.76" y="2016.69" width="69.02" height="13.49" fill="#ff8a8a"/>
<rect x="52.76" y="2029.88" width="69.02" height="3.6" fill="#ffb9b9"/>
<rect x="52.76" y="2033.17" width="69.02" height="10.19" fill="#ffd0d0"/>
<rect x="52.76" y="2043.07" width="69.02" height="3.6" fill="#ffb9b9"/>
<rect x="52.76" y="2046.36" width="69.02" height="3.6" fill="#ff8a8a"/>
<rect x="52.76" y="2049.66" width="69.02" height="3.6" fill="#ffa1a1"/>
<rect x="52.76" y="2052.96" width="69.02" height="3.6" fill="#ffb9b9"/>
<rect x="52.76" y="2056.26" width="69.02" height="6.9" fill="#ffffff"/>
<rect x="52.76" y="2062.85" width="69.02" height="3.6" fill="#ffa1a1"/>
<rect x="52.76" y="2066.15" width="69.02" height="3.6" fill="#ffb9b9"/>
<rect x="52.76" y="2069.45" width="69.02" height="3.6" fill="#ffa1a1"/>
<rect x="52.76" y="2072.75" width="69.02" height="3.6" fill="#ffb9b9"/>
<rect x="52.76" y="2076.04" width="69.02" height="6.9" fill="#ffe8e8"/>
<rect x="52.76" y="2082.64" width="69.02" height="6.9" fill="#ffb9b9"/>
<rect x="52.76" y="2089.23" width="69.02" height="3.6" fill="#ffe8e8"/>
<rect x="52.76" y="2092.53" width="69.02" height="6.9" fill="#ffd0d0"/>
<rect x="52.76" y="2099.13" width="69.02" height="3.6" fill="#ffb9b9"/>
<rect x="52.76" y="2102.42" width="69.02" height="3.6" fill="#ff8a8a"/>
<rect x="52.76" y="2105.72" width="69.02" height="3.6" fill="#ffa1a1"/>
<rect x="52.76" y="2109.02" width="69.02" height="3.6" fill="#ff4343"/>
<rect x="52.76" y="2112.32" width="69.02" height="3.6" fill="#ff5b5b"/>
<rect x="52.76" y="2115.61" width="69.02" height="3.6" fill="#ff8a8a"/>
<rect x="52.76" y="2118.91" width="69.02" height="3.6" fill="#ff7272"/>
<rect x="52.76" y="2122.21" width="69.02" height="6.9" fill="#ff5b5b"/>
<rect x="52.76" y="2128.81" width="69.02" height="3.6" fill="#ff7272"/>
<rect x="52.76" y="2132.1" width="69.02" height="3.6" fill="#ffa1a1"/>
<rect x="52.76" y="2135.4" width="69.02" height="3.6" fill="#ff4343"/>
<rect x="52.76" y="2138.7" width="69.02" height="3.6" fill="#ff5b5b"/>
<rect x="52.76" y="2142" width="69.02" height="3.6" fill="#ff8a8a"/>
<rect x="52.76" y="2145.29" width="69.02" height="6.9" fill="#ffa1a1"/>
<rect x="52.76" y="2151.89" width="69.02" height="3.6" fill="#ffb9b9"/>
<rect x="52.76" y="2155.19" width="69.02" height="6.9" fill="#ffa1a1"/>
<rect x="52.76" y="2161.78" width="69.02" height="3.6" fill="#ff8a8a"/>
<rect x="52.76" y="2165.08" width="69.02" height="10.19" fill="#ff7272"/>
<rect x="52.76" y="2174.97" width="69.02" height="6.9" fill="#ff8a8a"/>
<rect x="52.76" y="2181.57" width="69.02" height="3.6" fill="#ffa1a1"/>
<rect x="52.76" y="2184.87" width="69.02" height="6.9" fill="#ff8a8a"/>
<rect x="52.76" y="2191.46" width="69.02" height="3.6" fill="#ffa1a1"/>
<rect x="52.76" y="2194.76" width="69.02" height="6.9" fill="#ff8a8a"/>
<rect x="52.76" y="2201.35" width="69.02" height="13.49" fill="#ffa1a1"/>
<rect x="52.76" y="2214.54" width="69.02" height="6.9" fill="#ff8a8a"/>
<rect x="52.76" y="2221.14" width="69.02" height="6.9" fill="#ff2c2c"/>
<rect x="52.76" y="2227.73" width="69.02" height="6.9" fill="#ff5b5b"/>
<rect x="52.76" y="2234.33" width="69.02" height="3.6" fill="#ff7272"/>
<rect x="52.76" y="2237.63" width="69.02" height="3.6" fill="#ff4343"/>
<rect x="52.76" y="2240.93" width="69.02" height="10.19" fill="#ff7272"/>
<rect x="52.76" y="2250.82" width="69.02" height="3.3" fill="#ff8a8a"/>
<rect x="121.47" y="1653.95" width="69.02" height="3.6" fill="#7272ff"/>
<rect x="121.47" y="1657.24" width="69.02" height="3.6" fill="#8a8aff"/>
<rect x="121.47" y="1660.54" width="69.02" height="3.6" fill="#5b5bff"/>
<rect x="121.47" y="1663.84" width="69.02" height="3.6" fill="#7272ff"/>
<rect x="121.47" y="1667.14" width="69.02" height="3.6" fill="#8a8aff"/>
<rect x="121.47" y="1670.43" width="69.02" height="6.9" fill="#7272ff"/>
<rect x="121.47" y="1677.03" width="69.02" height="3.6" fill="#8a8aff"/>
<rect x="121.47" y="1680.33" width="69.02" height="6.9" fill="#7272ff"/>
<rect x="121.47" y="1686.92" width="69.02" height="3.6" fill="#8a8aff"/>
<rect x="121.47" y="1690.22" width="69.02" height="3.6" fill="#7272ff"/>
<rect x="121.47" y="1693.52" width="69.02" height="13.49" fill="#a1a1ff"/>
<rect x="121.47" y="1706.71" width="69.02" height="13.49" fill="#b9b9ff"/>
<rect x="121.47" y="1719.9" width="69.02" height="3.6" fill="#d0d0ff"/>
<rect x="121.47" y="1723.2" width="69.02" height="3.6" fill="#b9b9ff"/>
<rect x="121.47" y="1726.49" width="69.02" height="6.9" fill="#d0d0ff"/>
<rect x="121.47" y="1733.09" width="69.02" height="3.6" fill="#e8e8ff"/>
<rect x="121.47" y="1736.39" width="69.02" height="3.6" fill="#d0d0ff"/>
<rect x="121.47" y="1739.68" width="69.02" height="10.19" fill="#a1a1ff"/>
<rect x="121.47" y="1749.58" width="69.02" height="3.6" fill="#8a8aff"/>
<rect x="121.47" y="1752.87" width="69.02" height="20.09" fill="#a1a1ff"/>
<rect x="121.47" y="1772.66" width="69.02" height="3.6" fill="#b9b9ff"/>
<rect x="121.47" y="1775.96" width="69.02" height="3.6" fill="#d0d0ff"/>
<rect x="121.47" y="1779.26" width="69.02" height="3.6" fill="#e8e8ff"/>
<rect x="121.47" y="1782.55" width="69.02" height="3.6" fill="#d0d0ff"/>
<rect x="121.47" y="1785.85" width="69.02" height="3.6" fill="#7272ff"/>
<rect x="121.47" y="1789.15" width="69.02" height="6.9" fill="#a1a1ff"/>
<rect x="121.47" y="1795.74" width="69.02" height="6.9" fill="#8a8aff"/>
<rect x="121.47" y="1802.34" width="69.02" height="3.6" fill="#a1a1ff"/>
<rect x="121.47" y="1805.64" width="69.02" height="13.49" fill="#b9b9ff"/>
<rect x="121.47" y="1818.83" width="69.02" height="3.6" fill="#d0d0ff"/>
<rect x="121.47" y="1822.13" width="69.02" height="3.6" fill="#a1a1ff"/>
<rect x="121.47" y="1825.42" width="69.02" height="6.9" fill="#d0d0ff"/>
<rect x="121.47" y="1832.02" width="69.02" height="10.19" fill="#b9b9ff"/>
<rect x="121.47" y="1841.91" width="69.02" height="3.6" fill="#a1a1ff"/>
<rect x="121.47" y="1845.21" width="69.02" height="3.6" fill="#b9b9ff"/>
<rect x="121.47" y="1848.51" width="69.02" height="3.6" fill="#a1a1ff"/>
<rect x="121.47" y="1851.8" width="69.02" height="3.6" fill="#b9b9ff"/>
<rect x="121.47" y="1855.1" width="69.02" height="3.6" fill="#a1a1ff"/>
<rect x="121.47" y="1858.4" width="69.02" height="6.9" fill="#8a8aff"/>
<rect x="121.47" y="1864.99" width="69.02" height="3.6" fill="#7272ff"/>
<rect x="121.47" y="1868.29" width="69.02" height="3.6" fill="#8a8aff"/>
<rect x="121.47" y="1871.59" width="69.02" height="6.9" fill="#a1a1ff"/>
<rect x="121.47" y="1878.18" width="69.02" height="3.6" fill="#8a8aff"/>
<rect x="121.47" y="1881.48" width="69.02" height="10.19" fill="#b9b9ff"/>
<rect x="121.47" y="1891.38" width="69.02" height="3.6" fill="#8a8aff"/>
<rect x="121.47" y="1894.67" width="69.02" height="10.19" fill="#b9b9ff"/>
<rect x="121.47" y="1904.57" width="69.02" height="3.6" fill="#8a8aff"/>
<rect x="121.47" y="1907.86" width="69.02" height="10.19" fill="#a1a1ff"/>
<rect x="121.47" y="1917.76" width="69.02" height="3.6" fill="#d0d0ff"/>
<rect x="121.47" y="1921.05" width="69.02" height="6.9" fill="#b9b9ff"/>
<rect x="121.47" y="1927.65" width="69.02" height="6.9" fill="#d0d0ff"/>
<rect x="121.47" y="1934.24" width="69.02" height="3.6" fill="#a1a1ff"/>
<rect x="121.47" y="1937.54" width="69.02" height="3.6" fill="#ffa1a1"/>
<rect x="121.47" y="1940.84" width="69.02" height="3.6" fill="#ffb9b9"/>
<rect x="121.47" y="1944.14" width="69.02" height="3.6" fill="#ffa1a1"/>
<rect x="121.47" y="1947.44" width="69.02" height="3.6" fill="#ff8a8a"/>
<rect x="121.47" y="1950.73" width="69.02" height="3.6" fill="#ffd0d0"/>
<rect x="121.47" y="1954.03" width="69.02" height="3.6" fill="#ffb9b9"/>
<rect x="121.47" y="1957.33" width="69.02" height="3.6" fill="#ffa1a1"/>
<rect x="121.47" y="1960.63" width="69.02" height="3.6" fill="#ffb9b9"/>
<rect x="121.47" y="1963.92" width="69.02" height="3.6" fill="#ff8a8a"/>
<rect x="121.47" y="1967.22" width="69.02" height="13.49" fill="#ffb9b9"/>
<rect x="121.47" y="1980.41" width="69.02" height="3.6" fill="#ffd0d0"/>
<rect x="121.47" y="1983.71" width="69.02" height="3.6" fill="#ffb9b9"/>
<rect x="121.47" y="1987.01" width="69.02" height="3.6" fill="#ffd0d0"/>
<rect x="121.47" y="1990.3" width="69.02" height="3.6" fill="#ffe8e8"/>
<rect x="121.47" y="1993.6" width="69.02" height="3.6" fill="#ffffff"/>
<rect x="121.47" y="1996.9" width="69.02" height="3.6" fill="#ffb9b9"/>
<rect x="121.47" y="2000.2" width="69.02" height="3.6" fill="#ffd0d0"/>
<rect x="121.47" y="2003.5" width="69.02" height="6.9" fill="#ffffff"/>
<rect x="121.47" y="2010.09" width="69.02" height="3.6" fill="#ffe8e8"/>
<rect x="121.47" y="2013.39" width="69.02" height="3.6" fill="#ffd0d0"/>
<rect x="121.47" y="2016.69" width="69.02" height="10.19" fill="#ffa1a1"/>
<rect x="121.47" y="2026.58" width="69.02" height="3.6" fill="#ffb9b9"/>
<rect x="121.47" y="2029.88" width="69.02" height="6.9" fill="#ff5b5b"/>
<rect x="121.47" y="2036.47" width="69.02" height="10.19" fill="#ff8a8a"/>
<rect x="121.47" y="2046.36" width="69.02" height="3.6" fill="#ff7272"/>
<rect x="121.47" y="2049.66" width="69.02" height="3.6" fill="#ffa1a1"/>
<rect x="121.47" y="2052.96" width="69.02" height="10.19" fill="#ff7272"/>
<rect x="121.47" y="2062.85" width="69.02" height="6.9" fill="#ffa1a1"/>
<rect x="121.47" y="2069.45" width="69.02" height="3.6" fill="#ff8a8a"/>
<rect x="121.47" y="2072.75" width="69.02" height="3.6" fill="#ffa1a1"/>
<rect x="121.47" y="2076.04" width="69.02" height="3.6" fill="#ff7272"/>
<rect x="121.47" y="2079.34" width="69.02" height="3.6" fill="#ffa1a1"/>
<rect x="121.47" y="2082.64" width="69.02" height="10.19" fill="#ff8a8a"/>
<rect x="121.47" y="2092.53" width="69.02" height="3.6" fill="#ff7272"/>
<rect x="121.47" y="2095.83" width="69.02" height="6.9" fill="#ff8a8a"/>
<rect x="121.47" y="2102.42" width="69.02" height="13.49" fill="#ffd0d0"/>
<rect x="121.47" y="2115.61" width="69.02" height="3.6" fill="#ffb9b9"/>
<rect x="121.47" y="2118.91" width="69.02" height="3.6" fill="#ffd0d0"/>
<rect x="121.47" y="2122.21" width="69.02" height="6.9" fill="#ff7272"/>
<rect x="121.47" y="2128.81" width="69.02" height="3.6" fill="#ff8a8a"/>
<rect x="121.47" y="2132.1" width="69.02" height="3.6" fill="#ff7272"/>
<rect x="121.47" y="2135.4" width="69.02" height="3.6" fill="#ff8a8a"/>
<rect x="121.47" y="2138.7" width="69.02" height="3.6" fill="#ffa1a1"/>
<rect x="121.47" y="2142" width="69.02" height="6.9" fill="#ff7272"/>
<rect x="121.47" y="2148.59" width="69.02" height="3.6" fill="#ff8a8a"/>
<rect x="121.47" y="2151.89" width="69.02" height="3.6" fill="#ffa1a1"/>
<rect x="121.47" y="2155.19" width="69.02" height="16.79" fill="#ff8a8a"/>
<rect x="121.47" y="2171.67" width="69.02" height="3.6" fill="#ffb9b9"/>
<rect x="121.47" y="2174.97" width="69.02" height="3.6" fill="#ff8a8a"/>
<rect x="121.47" y="2178.27" width="69.02" height="3.6" fill="#ffb9b9"/>
<rect x="121.47" y="2181.57" width="69.02" height="3.6" fill="#ffa1a1"/>
<rect x="121.47" y="2184.87" width="69.02" height="10.19" fill="#ff8a8a"/>
<rect x="121.47" y="2194.76" width="69.02" height="3.6" fill="#ff7272"/>
<rect x="121.47" y="2198.06" width="69.02" height="3.6" fill="#ff8a8a"/>
<rect x="121.47" y="2201.35" width="69.02" height="3.6" fill="#ff5b5b"/>
<rect x="121.47" y="2204.65" width="69.02" height="3.6" fill="#ff4343"/>
<rect x="121.47" y="2207.95" width="69.02" height="10.19" fill="#ff8a8a"/>
<rect x="121.47" y="2217.84" width="69.02" height="3.6" fill="#ff7272"/>
<rect x="121.47" y="2221.14" width="69.02" height="6.9" fill="#ffd0d0"/>
<rect x="121.47" y="2227.73" width="69.02" height="6.9" fill="#ff8a8a"/>
<rect x="121.47" y="2234.33" width="69.02" height="3.6" fill="#ffa1a1"/>
<rect x="121.47" y="2237.63" width="69.02" height="3.6" fill="#ff8a8a"/>
<rect x="121.47" y="2240.93" width="69.02" height="3.6" fill="#ff7272"/>
<rect x="121.47" y="2244.22" width="69.02" height="3.6" fill="#ff8a8a"/>
<rect x="121.47" y="2247.52" width="69.02" height="3.6" fill="#ff7272"/>
<rect x="121.47" y="2250.82" width="69.02" height="3.3" fill="#ff8a8a"/>
<rect x="190.19" y="1653.95" width="69.02" height="6.9" fill="#b9b9ff"/>
<rect x="190.19" y="1660.54" width="69.02" height="3.6" fill="#8a8aff"/>
<rect x="190.19" y="1663.84" width="69.02" height="3.6" fill="#a1a1ff"/>
<rect x="190.19" y="1667.14" width="69.02" height="6.9" fill="#8a8aff"/>
<rect x="190.19" y="1673.73" width="69.02" height="13.49" fill="#a1a1ff"/>
<rect x="190.19" y="1686.92" width="69.02" height="6.9" fill="#8a8aff"/>
<rect x="190.19" y="1693.52" width="69.02" height="3.6" fill="#a1a1ff"/>
<rect x="190.19" y="1696.81" width="69.02" height="3.6" fill="#8a8aff"/>
<rect x="190.19" y="1700.11" width="69.02" height="6.9" fill="#d0d0ff"/>
<rect x="190.19" y="1706.71" width="69.02" height="3.6" fill="#ffffff"/>
<rect x="190.19" y="1710.01" width="69.02" height="3.6" fill="#e8e8ff"/>
<rect x="190.19" y="1713.3" width="69.02" height="3.6" fill="#7272ff"/>
<rect x="190.19" y="1716.6" width="69.02" height="3.6" fill="#8a8aff"/>
<rect x="190.19" y="1719.9" width="69.02" height="10.19" fill="#a1a1ff"/>
<rect x="190.19" y="1729.79" width="69.02" height="6.9" fill="#8a8aff"/>
<rect x="190.19" y="1736.39" width="69.02" height="3.6" fill="#a1a1ff"/>
<rect x="190.19" y="1739.68" width="69.02" height="6.9" fill="#b9b9ff"/>
<rect x="190.19" y="1746.28" width="69.02" height="3.6" fill="#7272ff"/>
<rect x="190.19" y="1749.58" width="69.02" height="3.6" fill="#5b5bff"/>
<rect x="190.19" y="1752.87" width="69.02" height="6.9" fill="#8a8aff"/>
<rect x="190.19" y="1759.47" width="69.02" height="3.6" fill="#5b5bff"/>
<rect x="190.19" y="1762.77" width="69.02" height="6.9" fill="#7272ff"/>
<rect x="190.19" y="1769.36" width="69.02" height="3.6" fill="#5b5bff"/>
<rect x="190.19" y="1772.66" width="69.02" height="3.6" fill="#7272ff"/>
<rect x="190.19" y="1775.96" width="69.02" height="3.6" fill="#8a8aff"/>
<rect x="190.19" y="1779.26" width="69.02" height="6.9" fill="#4343ff"/>
<rect x="190.19" y="1785.85" width="69.02" height="6.9" fill="#5b5bff"/>
<rect x="190.19" y="1792.45" width="69.02" height="3.6" fill="#4343ff"/>
<rect x="190.19" y="1795.74" width="69.02" height="3.6" fill="#5b5bff"/>
<rect x="190.19" y="1799.04" width="69.02" height="3.6" fill="#7272ff"/>
<rect x="190.19" y="1802.34" width="69.02" height="3.6" fill="#8a8aff"/>
<rect x="190.19" y="1805.64" width="69.02" height="6.9" fill="#7272ff"/>
<rect x="190.19" y="1812.23" width="69.02" height="3.6" fill="#5b5bff"/>
<rect x="190.19" y="1815.53" width="69.02" height="3.6" fill="#4343ff"/>
<rect x="190.19" y="1818.83" width="69.02" height="3.6" fill="#5b5bff"/>
<rect x="190.19" y="1822.13" width="69.02" height="3.6" fill="#8a8aff"/>
<rect x="190.19" y="1825.42" width="69.02" height="3.6" fill="#7272ff"/>
<rect x="190.19" y="1828.72" width="69.02" height="3.6" fill="#5b5bff"/>
<rect x="190.19" y="1832.02" width="69.02" height="10.19" fill="#7272ff"/>
<rect x="190.19" y="1841.91" width="69.02" height="10.19" fill="#8a8aff"/>
<rect x="190.19" y="1851.8" width="69.02" height="3.6" fill="#b9b9ff"/>
<rect x="190.19" y="1855.1" width="69.02" height="6.9" fill="#a1a1ff"/>
<rect x="190.19" y="1861.7" width="69.02" height="6.9" fill="#b9b9ff"/>
<rect x="190.19" y="1868.29" width="69.02" height="3.6" fill="#d0d0ff"/>
<rect x="190.19" y="1871.59" width="69.02" height="10.19" fill="#ffffff"/>
<rect x="190.19" y="1881.48" width="69.02" height="3.6" fill="#e8e8ff"/>
<rect x="190.19" y="1884.78" width="69.02" height="13.49" fill="#b9b9ff"/>
<rect x="190.19" y="1897.97" width="69.02" height="3.6" fill="#d0d0ff"/>
<rect x="190.19" y="1901.27" width="69.02" height="16.79" fill="#b9b9ff"/>
<rect x="190.19" y="1917.76" width="69.02" height="3.6" fill="#a1a1ff"/>
<rect x="190.19" y="1921.05" width="69.02" height="3.6" fill="#b9b9ff"/>
<rect x="190.19" y="1924.35" width="69.02" height="3.6" fill="#d0d0ff"/>
<rect x="190.19" y="1927.65" width="69.02" height="3.6" fill="#b9b9ff"/>
<rect x="190.19" y="1930.95" width="69.02" height="3.6" fill="#a1a1ff"/>
<rect x="190.19" y="1934.24" width="69.02" height="3.6" fill="#b9b9ff"/>
<rect x="190.19" y="1937.54" width="69.02" height="3.6" fill="#ff8a8a"/>
<rect x="190.19" y="1940.84" width="69.02" height="3.6" fill="#ffa1a1"/>
<rect x="190.19" y="1944.14" width="69.02" height="3.6" fill="#ffb9b9"/>
<rect x="190.19" y="1947.44" width="69.02" height="6.9" fill="#ff8a8a"/>
<rect x="190.19" y="1954.03" width="69.02" height="3.6" fill="#ffb9b9"/>
<rect x="190.19" y="1957.33" width="69.02" height="3.6" fill="#ffd0d0"/>
<rect x="190.19" y="1960.63" width="69.02" height="3.6" fill="#ffb9b9"/>
<rect x="190.19" y="1963.92" width="69.02" height="3.6" fill="#ffa1a1"/>
<rect x="190.19" y="1967.22" width="69.02" height="3.6" fill="#ff8a8a"/>
<rect x="190.19" y="1970.52" width="69.02" height="6.9" fill="#ffa1a1"/>
<rect x="190.19" y="1977.11" width="69.02" height="3.6" fill="#ff5b5b"/>
<rect x="190.19" y="1980.41" width="69.02" height="3.6" fill="#ff8a8a"/>
<rect x="190.19" y="1983.71" width="69.02" height="3.6" fill="#ff5b5b"/>
<rect x="190.19" y="1987.01" width="69.02" height="3.6" fill="#ff7272"/>
<rect x="190.19" y="1990.3" width="69.02" height="3.6" fill="#ff5b5b"/>
<rect x="190.19" y="1993.6" width="69.02" height="6.9" fill="#ff4343"/>
<rect x="190.19" y="2000.2" width="69.02" height="3.6" fill="#ff5b5b"/>
<rect x="190.19" y="2003.5" width="69.02" height="3.6" fill="#ffa1a1"/>
<rect x="190.19" y="2006.79" width="69.02" height="3.6" fill="#ffb9b9"/>
<rect x="190.19" y="2010.09" width="69.02" height="3.6" fill="#ffa1a1"/>
<rect x="190.19" y="2013.39" width="69.02" height="3.6" fill="#ff7272"/>
<rect x="190.19" y="2016.69" width="69.02" height="6.9" fill="#ffa1a1"/>
<rect x="190.19" y="2023.28" width="69.02" height="3.6" fill="#ff8a8a"/>
<rect x="190.19" y="2026.58" width="69.02" height="3.6" fill="#ffa1a1"/>
<rect x="190.19" y="2029.88" width="69.02" height="3.6" fill="#ffd0d0"/>
<rect x="190.19" y="2033.17" width="69.02" height="3.6" fill="#ffa1a1"/>
<rect x="190.19" y="2036.47" width="69.02" height="3.6" fill="#ff8a8a"/>
<rect x="190.19" y="2039.77" width="69.02" height="3.6" fill="#ffa1a1"/>
<rect x="190.19" y="2043.07" width="69.02" height="3.6" fill="#ff8a8a"/>
<rect x="190.19" y="2046.36" width="69.02" height="3.6" fill="#ffa1a1"/>
<rect x="190.19" y="2049.66" width="69.02" height="3.6" fill="#ff8a8a"/>
<rect x="190.19" y="2052.96" width="69.02" height="3.6" fill="#ffa1a1"/>
<rect x="190.19" y="2056.26" width="69.02" height="6.9" fill="#ff5b5b"/>
<rect x="190.19" y="2062.85" width="69.02" height="3.6" fill="#ff8a8a"/>
<rect x="190.19" y="2066.15" width="69.02" height="3.6" fill="#ff7272"/>
<rect x="190.19" y="2069.45" width="69.02" height="3.6" fill="#ff8a8a"/>
<rect x="190.19" y="2072.75" width="69.02" height="3.6" fill="#ffa1a1"/>
<rect x="190.19" y="2076.04" width="69.02" height="3.6" fill="#ff7272"/>
<rect x="190.19" y="2079.34" width="69.02" height="3.6" fill="#ff8a8a"/>
<rect x="190.19" y="2082.64" width="69.02" height="3.6" fill="#ff5b5b"/>
<rect x="190.19" y="2085.94" width="69.02" height="3.6" fill="#ff7272"/>
<rect x="190.19" y="2089.23" width="69.02" height="6.9" fill="#ff5b5b"/>
<rect x="190.19" y="2095.83" width="69.02" height="6.9" fill="#ffa1a1"/>
<rect x="190.19" y="2102.42" width="69.02" height="3.6" fill="#ff4343"/>
<rect x="190.19" y="2105.72" width="69.02" height="3.6" fill="#ff5b5b"/>
<rect x="190.19" y="2109.02" width="69.02" height="3.6" fill="#ffb9b9"/>
<rect x="190.19" y="2112.32" width="69.02" height="3.6" fill="#ff8a8a"/>
<rect x="190.19" y="2115.61" width="69.02" height="6.9" fill="#ff7272"/>
<rect x="190.19" y="2122.21" width="69.02" height="6.9" fill="#ffe8e8"/>
<rect x="190.19" y="2128.81" width="69.02" height="3.6" fill="#ffa1a1"/>
<rect x="190.19" y="2132.1" width="69.02" height="6.9" fill="#ff8a8a"/>
<rect x="190.19" y="2138.7" width="69.02" height="6.9" fill="#ffa1a1"/>
<rect x="190.19" y="2145.29" width="69.02" height="10.19" fill="#ffd0d0"/>
<rect x="190.19" y="2155.19" width="69.02" height="3.6" fill="#ff8a8a"/>
<rect x="190.19" y="2158.48" width="69.02" height="3.6" fill="#ff7272"/>
<rect x="190.19" y="2161.78" width="69.02" height="20.09" fill="#ffb9b9"/>
<rect x="190.19" y="2181.57" width="69.02" height="6.9" fill="#ffa1a1"/>
<rect x="190.19" y="2188.16" width="69.02" height="3.6" fill="#ffd0d0"/>
<rect x="190.19" y="2191.46" width="69.02" height="6.9" fill="#ffb9b9"/>
<rect x="190.19" y="2198.06" width="69.02" height="3.6" fill="#ffa1a1"/>
<rect x="190.19" y="2201.35" width="69.02" height="3.6" fill="#ffb9b9"/>
<rect x="190.19" y="2204.65" width="69.02" height="3.6" fill="#ffe8e8"/>
<rect x="190.19" y="2207.95" width="69.02" height="6.9" fill="#ffb9b9"/>
<rect x="190.19" y="2214.54" width="69.02" height="3.6" fill="#ffa1a1"/>
<rect x="190.19" y="2217.84" width="69.02" height="3.6" fill="#ffb9b9"/>
<rect x="190.19" y="2221.14" width="69.02" height="3.6" fill="#ffd0d0"/>
<rect x="190.19" y="2224.44" width="69.02" height="3.6" fill="#ffe8e8"/>
<rect x="190.19" y="2227.73" width="69.02" height="3.6" fill="#ffd0d0"/>
<rect x="190.19" y="2231.03" width="69.02" height="3.6" fill="#ffe8e8"/>
<rect x="190.19" y="2234.33" width="69.02" height="6.9" fill="#ffd0d0"/>
<rect x="190.19" y="2240.93" width="69.02" height="6.9" fill="#ffb9b9"/>
<rect x="190.19" y="2247.52" width="69.02" height="3.6" fill="#ffa1a1"/>
<rect x="190.19" y="2250.82" width="69.02" height="3.3" fill="#ffb9b9"/>
<rect x="258.91" y="1653.95" width="69.02" height="6.9" fill="#ff7272"/>
<rect x="258.91" y="1660.54" width="69.02" height="3.6" fill="#ff5b5b"/>
<rect x="258.91" y="1663.84" width="69.02" height="3.6" fill="#ff7272"/>
<rect x="258.91" y="1667.14" width="69.02" height="10.19" fill="#ffa1a1"/>
<rect x="258.91" y="1677.03" width="69.02" height="3.6" fill="#ff8a8a"/>
<rect x="258.91" y="1680.33" width="69.02" height="3.6" fill="#ffd0d0"/>
<rect x="258.91" y="1683.62" width="69.02" height="3.6" fill="#ffe8e8"/>
<rect x="258.91" y="1686.92" width="69.02" height="6.9" fill="#ffb9b9"/>
<rect x="258.91" y="1693.52" width="69.02" height="6.9" fill="#ff8a8a"/>
<rect x="258.91" y="1700.11" width="69.02" height="3.6" fill="#ffd0d0"/>
<rect x="258.91" y="1703.41" width="69.02" height="10.19" fill="#ffe8e8"/>
<rect x="258.91" y="1713.3" width="69.02" height="3.6" fill="#ffa1a1"/>
<rect x="258.91" y="1716.6" width="69.02" height="3.6" fill="#ff8a8a"/>
<rect x="258.91" y="1719.9" width="69.02" height="3.6" fill="#ffe8e8"/>
<rect x="258.91" y="1723.2" width="69.02" height="3.6" fill="#ffb9b9"/>
<rect x="258.91" y="1726.49" width="69.02" height="3.6" fill="#ffffff"/>
<rect x="258.91" y="1729.79" width="69.02" height="3.6" fill="#ffe8e8"/>
<rect x="258.91" y="1733.09" width="69.02" height="6.9" fill="#ffffff"/>
<rect x="258.91" y="1739.68" width="69.02" height="10.19" fill="#ffd0d0"/>
<rect x="258.91" y="1749.58" width="69.02" height="10.19" fill="#ffb9b9"/>
<rect x="258.91" y="1759.47" width="69.02" height="3.6" fill="#ffe8e8"/>
<rect x="258.91" y="1762.77" width="69.02" height="3.6" fill="#ffd0d0"/>
<rect x="258.91" y="1766.07" width="69.02" height="3.6" fill="#ffffff"/>
<rect x="258.91" y="1769.36" width="69.02" height="10.19" fill="#ffe8e8"/>
<rect x="258.91" y="1779.26" width="69.02" height="3.6" fill="#ffb9b9"/>
<rect x="258.91" y="1782.55" width="69.02" height="3.6" fill="#ffa1a1"/>
<rect x="258.91" y="1785.85" width="69.02" height="3.6" fill="#ffb9b9"/>
<rect x="258.91" y="1789.15" width="69.02" height="3.6" fill="#ff8a8a"/>
<rect x="258.91" y="1792.45" width="69.02" height="10.19" fill="#ffd0d0"/>
<rect x="258.91" y="1802.34" width="69.02" height="3.6" fill="#ffe8e8"/>
<rect x="258.91" y="1805.64" width="69.02" height="3.6" fill="#ff2c2c"/>
<rect x="258.91" y="1808.93" width="69.02" height="3.6" fill="#ff4343"/>
<rect x="258.91" y="1812.23" width="69.02" height="3.6" fill="#ff2c2c"/>
<rect x="258.91" y="1815.53" width="69.02" height="3.6" fill="#ff4343"/>
<rect x="258.91" y="1818.83" width="69.02" height="3.6" fill="#ff5b5b"/>
<rect x="258.91" y="1822.13" width="69.02" height="3.6" fill="#ff2c2c"/>
<rect x="258.91" y="1825.42" width="69.02" height="6.9" fill="#ff4343"/>
<rect x="258.91" y="1832.02" width="69.02" height="3.6" fill="#ff2c2c"/>
<rect x="258.91" y="1835.32" width="69.02" height="6.9" fill="#ff4343"/>
<rect x="258.91" y="1841.91" width="69.02" height="6.9" fill="#ff2c2c"/>
<rect x="258.91" y="1848.51" width="69.02" height="10.19" fill="#ff4343"/>
<rect x="258.91" y="1858.4" width="69.02" height="6.9" fill="#ff2c2c"/>
<rect x="258.91" y="1864.99" width="69.02" height="6.9" fill="#ff4343"/>
<rect x="258.91" y="1871.59" width="69.02" height="3.6" fill="#ff1414"/>
<rect x="258.91" y="1874.89" width="69.02" height="3.6" fill="#ff2c2c"/>
<rect x="258.91" y="1878.18" width="69.02" height="6.9" fill="#ff1414"/>
<rect x="258.91" y="1884.78" width="69.02" height="6.9" fill="#ff7272"/>
<rect x="258.91" y="1891.38" width="69.02" height="6.9" fill="#ff4343"/>
<rect x="258.91" y="1897.97" width="69.02" height="3.6" fill="#ff1414"/>
<rect x="258.91" y="1901.27" width="69.02" height="3.6" fill="#ff2c2c"/>
<rect x="258.91" y="1904.57" width="69.02" height="10.19" fill="#ff1414"/>
<rect x="258.91" y="1914.46" width="69.02" height="3.6" fill="#ff2c2c"/>
<rect x="258.91" y="1917.76" width="69.02" height="3.6" fill="#ff7272"/>
<rect x="258.91" y="1921.05" width="69.02" height="3.6" fill="#ff4343"/>
<rect x="258.91" y="1924.35" width="69.02" height="6.9" fill="#ff5b5b"/>
<rect x="258.91" y="1930.95" width="69.02" height="3.6" fill="#ff2c2c"/>
<rect x="258.91" y="1934.24" width="69.02" height="3.6" fill="#ff4343"/>
<rect x="258.91" y="1937.54" width="69.02" height="3.6" fill="#4343ff"/>
<rect x="258.91" y="1940.84" width="69.02" height="3.6" fill="#2c2cff"/>
<rect x="258.91" y="1944.14" width="69.02" height="6.9" fill="#5b5bff"/>
<rect x="258.91" y="1950.73" width="69.02" height="3.6" fill="#7272ff"/>
<rect x="258.91" y="1954.03" width="69.02" height="3.6" fill="#8a8aff"/>
<rect x="258.91" y="1957.33" width="69.02" height="3.6" fill="#2c2cff"/>
<rect x="258.91" y="1960.63" width="69.02" height="3.6" fill="#1414ff"/>
<rect x="258.91" y="1963.92" width="69.02" height="3.6" fill="#5b5bff"/>
<rect x="258.91" y="1967.22" width="69.02" height="3.6" fill="#2c2cff"/>
<rect x="258.91" y="1970.52" width="69.02" height="13.49" fill="#a1a1ff"/>
<rect x="258.91" y="1983.71" width="69.02" height="10.19" fill="#7272ff"/>
<rect x="258.91" y="1993.6" width="69.02" height="3.6" fill="#5b5bff"/>
<rect x="258.91" y="1996.9" width="69.02" height="3.6" fill="#4343ff"/>
<rect x="258.91" y="2000.2" width="69.02" height="3.6" fill="#5b5bff"/>
<rect x="258.91" y="2003.5" width="69.02" height="3.6" fill="#2c2cff"/>
<rect x="258.91" y="2006.79" width="69.02" height="3.6" fill="#5b5bff"/>
<rect x="258.91" y="2010.09" width="69.02" height="6.9" fill="#2c2cff"/>
<rect x="258.91" y="2016.69" width="69.02" height="3.6" fill="#7272ff"/>
<rect x="258.91" y="2019.98" width="69.02" height="10.19" fill="#5b5bff"/>
<rect x="258.91" y="2029.88" width="69.02" height="3.6" fill="#7272ff"/>
<rect x="258.91" y="2033.17" width="69.02" height="3.6" fill="#5b5bff"/>
<rect x="258.91" y="2036.47" width="69.02" height="6.9" fill="#4343ff"/>
<rect x="258.91" y="2043.07" width="69.02" height="6.9" fill="#7272ff"/>
<rect x="258.91" y="2049.66" width="69.02" height="3.6" fill="#4343ff"/>
<rect x="258.91" y="2052.96" width="69.02" height="3.6" fill="#7272ff"/>
<rect x="258.91" y="2056.26" width="69.02" height="3.6" fill="#4343ff"/>
<rect x="258.91" y="2059.56" width="69.02" height="3.6" fill="#5b5bff"/>
<rect x="258.91" y="2062.85" width="69.02" height="6.9" fill="#1414ff"/>
<rect x="258.91" y="2069.45" width="69.02" height="13.49" fill="#2c2cff"/>
<rect x="258.91" y="2082.64" width="69.02" height="3.6" fill="#d0d0ff"/>
<rect x="258.91" y="2085.94" width="69.02" height="3.6" fill="#b9b9ff"/>
<rect x="258.91" y="2089.23" width="69.02" height="6.9" fill="#e8e8ff"/>
<rect x="258.91" y="2095.83" width="69.02" height="3.6" fill="#d0d0ff"/>
<rect x="258.91" y="2099.13" width="69.02" height="3.6" fill="#e8e8ff"/>
<rect x="258.91" y="2102.42" width="69.02" height="3.6" fill="#b9b9ff"/>
<rect x="258.91" y="2105.72" width="69.02" height="3.6" fill="#d0d0ff"/>
<rect x="258.91" y="2109.02" width="69.02" height="3.6" fill="#ffffff"/>
<rect x="258.91" y="2112.32" width="69.02" height="3.6" fill="#e8e8ff"/>
<rect x="258.91" y="2115.61" width="69.02" height="3.6" fill="#d0d0ff"/>
<rect x="258.91" y="2118.91" width="69.02" height="3.6" fill="#ffffff"/>
<rect x="258.91" y="2122.21" width="69.02" height="3.6" fill="#b9b9ff"/>
<rect x="258.91" y="2125.51" width="69.02" height="3.6" fill="#a1a1ff"/>
<rect x="258.91" y="2128.81" width="69.02" height="3.6" fill="#b9b9ff"/>
<rect x="258.91" y="2132.1" width="69.02" height="16.79" fill="#a1a1ff"/>
<rect x="258.91" y="2148.59" width="69.02" height="3.6" fill="#8a8aff"/>
<rect x="258.91" y="2151.89" width="69.02" height="3.6" fill="#7272ff"/>
<rect x="258.91" y="2155.19" width="69.02" height="3.6" fill="#8a8aff"/>
<rect x="258.91" y="2158.48" width="69.02" height="3.6" fill="#a1a1ff"/>
<rect x="258.91" y="2161.78" width="69.02" height="3.6" fill="#4343ff"/>
<rect x="258.91" y="2165.08" width="69.02" height="6.9" fill="#2c2cff"/>
<rect x="258.91" y="2171.67" width="69.02" height="3.6" fill="#1414ff"/>
<rect x="258.91" y="2174.97" width="69.02" height="3.6" fill="#2c2cff"/>
<rect x="258.91" y="2178.27" width="69.02" height="6.9" fill="#4343ff"/>
<rect x="258.91" y="2184.87" width="69.02" height="3.6" fill="#2c2cff"/>
<rect x="258.91" y="2188.16" width="69.02" height="6.9" fill="#5b5bff"/>
<rect x="258.91" y="2194.76" width="69.02" height="6.9" fill="#4343ff"/>
<rect x="258.91" y="2201.35" width="69.02" height="6.9" fill="#5b5bff"/>
<rect x="258.91" y="2207.95" width="69.02" height="3.6" fill="#4343ff"/>
<rect x="258.91" y="2211.25" width="69.02" height="3.6" fill="#2c2cff"/>
<rect x="258.91" y="2214.54" width="69.02" height="6.9" fill="#4343ff"/>
<rect x="258.91" y="2221.14" width="69.02" height="3.6" fill="#a1a1ff"/>
<rect x="258.91" y="2224.44" width="69.02" height="3.6" fill="#b9b9ff"/>
<rect x="258.91" y="2227.73" width="69.02" height="3.6" fill="#8a8aff"/>
<rect x="258.91" y="2231.03" width="69.02" height="3.6" fill="#a1a1ff"/>
<rect x="258.91" y="2234.33" width="69.02" height="6.9" fill="#2c2cff"/>
<rect x="258.91" y="2240.93" width="69.02" height="6.9" fill="#8a8aff"/>
<rect x="258.91" y="2247.52" width="69.02" height="3.6" fill="#7272ff"/>
<rect x="258.91" y="2250.82" width="69.02" height="3.3" fill="#5b5bff"/>
<rect x="327.63" y="1653.95" width="69.02" height="3.6" fill="#ffd0d0"/>
<rect x="327.63" y="1657.24" width="69.02" height="6.9" fill="#ffb9b9"/>
<rect x="327.63" y="1663.84" width="69.02" height="6.9" fill="#ffd0d0"/>
<rect x="327.63" y="1670.43" width="69.02" height="6.9" fill="#ffb9b9"/>
<rect x="327.63" y="1677.03" width="69.02" height="3.6" fill="#ffa1a1"/>
<rect x="327.63" y="1680.33" width="69.02" height="10.19" fill="#ff7272"/>
<rect x="327.63" y="1690.22" width="69.02" height="13.49" fill="#ffa1a1"/>
<rect x="327.63" y="1703.41" width="69.02" height="3.6" fill="#ffb9b9"/>
<rect x="327.63" y="1706.71" width="69.02" height="6.9" fill="#ffe8e8"/>
<rect x="327.63" y="1713.3" width="69.02" height="6.9" fill="#ffd0d0"/>
<rect x="327.63" y="1719.9" width="69.02" height="3.6" fill="#ffe8e8"/>
<rect x="327.63" y="1723.2" width="69.02" height="3.6" fill="#ffffff"/>
<rect x="327.63" y="1726.49" width="69.02" height="3.6" fill="#ffd0d0"/>
<rect x="327.63" y="1729.79" width="69.02" height="3.6" fill="#ffa1a1"/>
<rect x="327.63" y="1733.09" width="69.02" height="6.9" fill="#ffb9b9"/>
<rect x="327.63" y="1739.68" width="69.02" height="6.9" fill="#ff4343"/>
<rect x="327.63" y="1746.28" width="69.02" height="6.9" fill="#ffd0d0"/>
<rect x="327.63" y="1752.87" width="69.02" height="3.6" fill="#ff7272"/>
<rect x="327.63" y="1756.17" width="69.02" height="10.19" fill="#ff8a8a"/>
<rect x="327.63" y="1766.07" width="69.02" height="10.19" fill="#ffa1a1"/>
<rect x="327.63" y="1775.96" width="69.02" height="3.6" fill="#ffb9b9"/>
<rect x="327.63" y="1779.26" width="69.02" height="10.19" fill="#ff7272"/>
<rect x="327.63" y="1789.15" width="69.02" height="10.19" fill="#ff5b5b"/>
<rect x="327.63" y="1799.04" width="69.02" height="3.6" fill="#ff7272"/>
<rect x="327.63" y="1802.34" width="69.02" height="3.6" fill="#ff5b5b"/>
<rect x="327.63" y="1805.64" width="69.02" height="3.6" fill="#ffffff"/>
<rect x="327.63" y="1808.93" width="69.02" height="10.19" fill="#ffd0d0"/>
<rect x="327.63" y="1818.83" width="69.02" height="10.19" fill="#ffa1a1"/>
<rect x="327.63" y="1828.72" width="69.02" height="3.6" fill="#ff7272"/>
<rect x="327.63" y="1832.02" width="69.02" height="6.9" fill="#ff8a8a"/>
<rect x="327.63" y="1838.61" width="69.02" height="3.6" fill="#ffa1a1"/>
<rect x="327.63" y="1841.91" width="69.02" height="3.6" fill="#ffb9b9"/>
<rect x="327.63" y="1845.21" width="69.02" height="3.6" fill="#ffd0d0"/>
<rect x="327.63" y="1848.51" width="69.02" height="3.6" fill="#ffb9b9"/>
<rect x="327.63" y="1851.8" width="69.02" height="3.6" fill="#ffd0d0"/>
<rect x="327.63" y="1855.1" width="69.02" height="3.6" fill="#ffe8e8"/>
<rect x="327.63" y="1858.4" width="69.02" height="6.9" fill="#ffb9b9"/>
<rect x="327.63" y="1864.99" width="69.02" height="6.9" fill="#ffa1a1"/>
<rect x="327.63" y="1871.59" width="69.02" height="3.6" fill="#ffb9b9"/>
<rect x="327.63" y="1874.89" width="69.02" height="3.6" fill="#ffa1a1"/>
<rect x="327.63" y="1878.18" width="69.02" height="6.9" fill="#ffb9b9"/>
<rect x="327.63" y="1884.78" width="69.02" height="3.6" fill="#ffe8e8"/>
<rect x="327.63" y="1888.08" width="69.02" height="3.6" fill="#ffb9b9"/>
<rect x="327.63" y="1891.38" width="69.02" height="3.6" fill="#ffd0d0"/>
<rect x="327.63" y="1894.67" width="69.02" height="3.6" fill="#ffe8e8"/>
<rect x="327.63" y="1897.97" width="69.02" height="6.9" fill="#ffb9b9"/>
<rect x="327.63" y="1904.57" width="69.02" height="3.6" fill="#ffd0d0"/>
<rect x="327.63" y="1907.86" width="69.02" height="3.6" fill="#ffe8e8"/>
<rect x="327.63" y="1911.16" width="69.02" height="6.9" fill="#ffb9b9"/>
<rect x="327.63" y="1917.76" width="69.02" height="3.6" fill="#ff8a8a"/>
<rect x="327.63" y="1921.05" width="69.02" height="10.19" fill="#ffa1a1"/>
<rect x="327.63" y="1930.95" width="69.02" height="6.9" fill="#ffb9b9"/>
<rect x="327.63" y="1937.54" width="69.02" height="3.6" fill="#e8e8ff"/>
<rect x="327.63" y="1940.84" width="69.02" height="3.6" fill="#d0d0ff"/>
<rect x="327.63" y="1944.14" width="69.02" height="6.9" fill="#e8e8ff"/>
<rect x="327.63" y="1950.73" width="69.02" height="6.9" fill="#d0d0ff"/>
<rect x="327.63" y="1957.33" width="69.02" height="3.6" fill="#ffffff"/>
<rect x="327.63" y="1960.63" width="69.02" height="3.6" fill="#e8e8ff"/>
<rect x="327.63" y="1963.92" width="69.02" height="6.9" fill="#b9b9ff"/>
<rect x="327.63" y="1970.52" width="69.02" height="13.49" fill="#e8e8ff"/>
<rect x="327.63" y="1983.71" width="69.02" height="3.6" fill="#a1a1ff"/>
<rect x="327.63" y="1987.01" width="69.02" height="6.9" fill="#8a8aff"/>
<rect x="327.63" y="1993.6" width="69.02" height="3.6" fill="#b9b9ff"/>
<rect x="327.63" y="1996.9" width="69.02" height="6.9" fill="#8a8aff"/>
<rect x="327.63" y="2003.5" width="69.02" height="10.19" fill="#b9b9ff"/>
<rect x="327.63" y="2013.39" width="69.02" height="3.6" fill="#a1a1ff"/>
<rect x="327.63" y="2016.69" width="69.02" height="3.6" fill="#b9b9ff"/>
<rect x="327.63" y="2019.98" width="69.02" height="3.6" fill="#a1a1ff"/>
<rect x="327.63" y="2023.28" width="69.02" height="6.9" fill="#8a8aff"/>
<rect x="327.63" y="2029.88" width="69.02" height="6.9" fill="#b9b9ff"/>
<rect x="327.63" y="2036.47" width="69.02" height="3.6" fill="#8a8aff"/>
<rect x="327.63" y="2039.77" width="69.02" height="3.6" fill="#a1a1ff"/>
<rect x="327.63" y="2043.07" width="69.02" height="6.9" fill="#b9b9ff"/>
<rect x="327.63" y="2049.66" width="69.02" height="10.19" fill="#a1a1ff"/>
<rect x="327.63" y="2059.56" width="69.02" height="3.6" fill="#8a8aff"/>
<rect x="327.63" y="2062.85" width="69.02" height="13.49" fill="#d0d0ff"/>
<rect x="327.63" y="2076.04" width="69.02" height="3.6" fill="#ffffff"/>
<rect x="327.63" y="2079.34" width="69.02" height="3.6" fill="#e8e8ff"/>
<rect x="327.63" y="2082.64" width="69.02" height="3.6" fill="#8a8aff"/>
<rect x="327.63" y="2085.94" width="69.02" height="3.6" fill="#7272ff"/>
<rect x="327.63" y="2089.23" width="69.02" height="3.6" fill="#a1a1ff"/>
<rect x="327.63" y="2092.53" width="69.02" height="3.6" fill="#8a8aff"/>
<rect x="327.63" y="2095.83" width="69.02" height="3.6" fill="#a1a1ff"/>
<rect x="327.63" y="2099.13" width="69.02" height="3.6" fill="#b9b9ff"/>
<rect x="327.63" y="2102.42" width="69.02" height="6.9" fill="#a1a1ff"/>
<rect x="327.63" y="2109.02" width="69.02" height="3.6" fill="#b9b9ff"/>
<rect x="327.63" y="2112.32" width="69.02" height="6.9" fill="#a1a1ff"/>
<rect x="327.63" y="2118.91" width="69.02" height="3.6" fill="#8a8aff"/>
<rect x="327.63" y="2122.21" width="69.02" height="3.6" fill="#4343ff"/>
<rect x="327.63" y="2125.51" width="69.02" height="3.6" fill="#5b5bff"/>
<rect x="327.63" y="2128.81" width="69.02" height="3.6" fill="#4343ff"/>
<rect x="327.63" y="2132.1" width="69.02" height="3.6" fill="#5b5bff"/>
<rect x="327.63" y="2135.4" width="69.02" height="6.9" fill="#7272ff"/>
<rect x="327.63" y="2142" width="69.02" height="6.9" fill="#5b5bff"/>
<rect x="327.63" y="2148.59" width="69.02" height="3.6" fill="#7272ff"/>
<rect x="327.63" y="2151.89" width="69.02" height="10.19" fill="#5b5bff"/>
<rect x="327.63" y="2161.78" width="69.02" height="3.6" fill="#b9b9ff"/>
<rect x="327.63" y="2165.08" width="69.02" height="6.9" fill="#a1a1ff"/>
<rect x="327.63" y="2171.67" width="69.02" height="3.6" fill="#8a8aff"/>
<rect x="327.63" y="2174.97" width="69.02" height="3.6" fill="#a1a1ff"/>
<rect x="327.63" y="2178.27" width="69.02" height="3.6" fill="#7272ff"/>
<rect x="327.63" y="2181.57" width="69.02" height="13.49" fill="#8a8aff"/>
<rect x="327.63" y="2194.76" width="69.02" height="3.6" fill="#b9b9ff"/>
<rect x="327.63" y="2198.06" width="69.02" height="6.9" fill="#8a8aff"/>
<rect x="327.63" y="2204.65" width="69.02" height="3.6" fill="#a1a1ff"/>
<rect x="327.63" y="2207.95" width="69.02" height="3.6" fill="#8a8aff"/>
<rect x="327.63" y="2211.25" width="69.02" height="3.6" fill="#7272ff"/>
<rect x="327.63" y="2214.54" width="69.02" height="6.9" fill="#a1a1ff"/>
<rect x="327.63" y="2221.14" width="69.02" height="6.9" fill="#e8e8ff"/>
<rect x="327.63" y="2227.73" width="69.02" height="3.6" fill="#b9b9ff"/>
<rect x="327.63" y="2231.03" width="69.02" height="6.9" fill="#d0d0ff"/>
<rect x="327.63" y="2237.63" width="69.02" height="3.6" fill="#e8e8ff"/>
<rect x="327.63" y="2240.93" width="69.02" height="3.6" fill="#d0d0ff"/>
<rect x="327.63" y="2244.22" width="69.02" height="3.6" fill="#a1a1ff"/>
<rect x="327.63" y="2247.52" width="69.02" height="3.6" fill="#b9b9ff"/>
<rect x="327.63" y="2250.82" width="69.02" height="3.3" fill="#e8e8ff"/>
<rect x="396.35" y="1653.95" width="68.72" height="6.9" fill="#ff8a8a"/>
<rect x="396.35" y="1660.54" width="68.72" height="6.9" fill="#ff7272"/>
<rect x="396.35" y="1667.14" width="68.72" height="13.49" fill="#ff4343"/>
<rect x="396.35" y="1680.33" width="68.72" height="3.6" fill="#ff5b5b"/>
<rect x="396.35" y="1683.62" width="68.72" height="3.6" fill="#ff7272"/>
<rect x="396.35" y="1686.92" width="68.72" height="3.6" fill="#ff4343"/>
<rect x="396.35" y="1690.22" width="68.72" height="6.9" fill="#ff5b5b"/>
<rect x="396.35" y="1696.81" width="68.72" height="3.6" fill="#ff7272"/>
<rect x="396.35" y="1700.11" width="68.72" height="3.6" fill="#ff4343"/>
<rect x="396.35" y="1703.41" width="68.72" height="3.6" fill="#ff5b5b"/>
<rect x="396.35" y="1706.71" width="68.72" height="3.6" fill="#ff4343"/>
<rect x="396.35" y="1710.01" width="68.72" height="3.6" fill="#ff1414"/>
<rect x="396.35" y="1713.3" width="68.72" height="6.9" fill="#ff4343"/>
<rect x="396.35" y="1719.9" width="68.72" height="6.9" fill="#ff1414"/>
<rect x="396.35" y="1726.49" width="68.72" height="6.9" fill="#ff5b5b"/>
<rect x="396.35" y="1733.09" width="68.72" height="3.6" fill="#ff4343"/>
<rect x="396.35" y="1736.39" width="68.72" height="3.6" fill="#ff2c2c"/>
<rect x="396.35" y="1739.68" width="68.72" height="3.6" fill="#ff8a8a"/>
<rect x="396.35" y="1742.98" width="68.72" height="3.6" fill="#ff7272"/>
<rect x="396.35" y="1746.28" width="68.72" height="6.9" fill="#ff5b5b"/>
<rect x="396.35" y="1752.87" width="68.72" height="6.9" fill="#ff7272"/>
<rect x="396.35" y="1759.47" width="68.72" height="10.19" fill="#ff4343"/>
<rect x="396.35" y="1769.36" width="68.72" height="6.9" fill="#ff5b5b"/>
<rect x="396.35" y="1775.96" width="68.72" height="10.19" fill="#ff4343"/>
<rect x="396.35" y="1785.85" width="68.72" height="3.6" fill="#ffd0d0"/>
<rect x="396.35" y="1789.15" width="68.72" height="3.6" fill="#ffa1a1"/>
<rect x="396.35" y="1792.45" width="68.72" height="3.6" fill="#ffb9b9"/>
<rect x="396.35" y="1795.74" width="68.72" height="3.6" fill="#ffa1a1"/>
<rect x="396.35" y="1799.04" width="68.72" height="6.9" fill="#ff8a8a"/>
<rect x="396.35" y="1805.64" width="68.72" height="6.9" fill="#ffa1a1"/>
<rect x="396.35" y="1812.23" width="68.72" height="3.6" fill="#ffd0d0"/>
<rect x="396.35" y="1815.53" width="68.72" height="3.6" fill="#ffe8e8"/>
<rect x="396.35" y="1818.83" width="68.72" height="3.6" fill="#ffb9b9"/>
<rect x="396.35" y="1822.13" width="68.72" height="3.6" fill="#ffd0d0"/>
<rect x="396.35" y="1825.42" width="68.72" height="3.6" fill="#ffffff"/>
<rect x="396.35" y="1828.72" width="68.72" height="3.6" fill="#ffe8e8"/>
<rect x="396.35" y="1832.02" width="68.72" height="6.9" fill="#ffd0d0"/>
<rect x="396.35" y="1838.61" width="68.72" height="3.6" fill="#ffe8e8"/>
<rect x="396.35" y="1841.91" width="68.72" height="3.6" fill="#ffd0d0"/>
<rect x="396.35" y="1845.21" width="68.72" height="6.9" fill="#ffffff"/>
<rect x="396.35" y="1851.8" width="68.72" height="6.9" fill="#ffe8e8"/>
<rect x="396.35" y="1858.4" width="68.72" height="3.6" fill="#ffb9b9"/>
<rect x="396.35" y="1861.7" width="68.72" height="3.6" fill="#ffd0d0"/>
<rect x="396.35" y="1864.99" width="68.72" height="6.9" fill="#ffb9b9"/>
<rect x="396.35" y="1871.59" width="68.72" height="3.6" fill="#d0d0ff"/>
<rect x="396.35" y="1874.89" width="68.72" height="3.6" fill="#a1a1ff"/>
<rect x="396.35" y="1878.18" width="68.72" height="3.6" fill="#d0d0ff"/>
<rect x="396.35" y="1881.48" width="68.72" height="3.6" fill="#b9b9ff"/>
<rect x="396.35" y="1884.78" width="68.72" height="3.6" fill="#ffa1a1"/>
<rect x="396.35" y="1888.08" width="68.72" height="3.6" fill="#ff8a8a"/>
<rect x="396.35" y="1891.38" width="68.72" height="3.6" fill="#ffb9b9"/>
<rect x="396.35" y="1894.67" width="68.72" height="10.19" fill="#ffd0d0"/>
<rect x="396.35" y="1904.57" width="68.72" height="6.9" fill="#ffffff"/>
<rect x="396.35" y="1911.16" width="68.72" height="3.6" fill="#ffd0d0"/>
<rect x="396.35" y="1914.46" width="68.72" height="3.6" fill="#ffffff"/>
<rect x="396.35" y="1917.76" width="68.72" height="6.9" fill="#ffa1a1"/>
<rect x="396.35" y="1924.35" width="68.72" height="3.6" fill="#ffd0d0"/>
<rect x="396.35" y="1927.65" width="68.72" height="3.6" fill="#ffb9b9"/>
<rect x="396.35" y="1930.95" width="68.72" height="3.6" fill="#ffd0d0"/>
<rect x="396.35" y="1934.24" width="68.72" height="3.6" fill="#ffb9b9"/>
<rect x="396.35" y="1937.54" width="68.72" height="3.6" fill="#8a8aff"/>
<rect x="396.35" y="1940.84" width="68.72" height="3.6" fill="#7272ff"/>
<rect x="396.35" y="1944.14" width="68.72" height="10.19" fill="#8a8aff"/>
<rect x="396.35" y="1954.03" width="68.72" height="3.6" fill="#5b5bff"/>
<rect x="396.35" y="1957.33" width="68.72" height="6.9" fill="#d0d0ff"/>
<rect x="396.35" y="1963.92" width="68.72" height="3.6" fill="#b9b9ff"/>
<rect x="396.35" y="1967.22" width="68.72" height="3.6" fill="#a1a1ff"/>
<rect x="396.35" y="1970.52" width="68.72" height="6.9" fill="#2c2cff"/>
<rect x="396.35" y="1977.11" width="68.72" height="3.6" fill="#4343ff"/>
<rect x="396.35" y="1980.41" width="68.72" height="3.6" fill="#2c2cff"/>
<rect x="396.35" y="1983.71" width="68.72" height="6.9" fill="#ffe8e8"/>
<rect x="396.35" y="1990.3" width="68.72" height="3.6" fill="#b9b9ff"/>
<rect x="396.35" y="1993.6" width="68.72" height="3.6" fill="#d0d0ff"/>
<rect x="396.35" y="1996.9" width="68.72" height="6.9" fill="#ffffff"/>
<rect x="396.35" y="2003.5" width="68.72" height="3.6" fill="#e8e8ff"/>
<rect x="396.35" y="2006.79" width="68.72" height="3.6" fill="#ffffff"/>
<rect x="396.35" y="2010.09" width="68.72" height="6.9" fill="#e8e8ff"/>
<rect x="396.35" y="2016.69" width="68.72" height="6.9" fill="#d0d0ff"/>
<rect x="396.35" y="2023.28" width="68.72" height="6.9" fill="#e8e8ff"/>
<rect x="396.35" y="2029.88" width="68.72" height="6.9" fill="#ffe8e8"/>
<rect x="396.35" y="2036.47" width="68.72" height="6.9" fill="#b9b9ff"/>
<rect x="396.35" y="2043.07" width="68.72" height="6.9" fill="#a1a1ff"/>
<rect x="396.35" y="2049.66" width="68.72" height="3.6" fill="#d0d0ff"/>
<rect x="396.35" y="2052.96" width="68.72" height="10.19" fill="#e8e8ff"/>
<rect x="396.35" y="2062.85" width="68.72" height="3.6" fill="#a1a1ff"/>
<rect x="396.35" y="2066.15" width="68.72" height="3.6" fill="#d0d0ff"/>
<rect x="396.35" y="2069.45" width="68.72" height="6.9" fill="#a1a1ff"/>
<rect x="396.35" y="2076.04" width="68.72" height="6.9" fill="#8a8aff"/>
<rect x="396.35" y="2082.64" width="68.72" height="3.6" fill="#5b5bff"/>
<rect x="396.35" y="2085.94" width="68.72" height="10.19" fill="#7272ff"/>
<rect x="396.35" y="2095.83" width="68.72" height="3.6" fill="#5b5bff"/>
<rect x="396.35" y="2099.13" width="68.72" height="3.6" fill="#7272ff"/>
<rect x="396.35" y="2102.42" width="68.72" height="3.6" fill="#4343ff"/>
<rect x="396.35" y="2105.72" width="68.72" height="3.6" fill="#1414ff"/>
<rect x="396.35" y="2109.02" width="68.72" height="6.9" fill="#2c2cff"/>
<rect x="396.35" y="2115.61" width="68.72" height="3.6" fill="#7272ff"/>
<rect x="396.35" y="2118.91" width="68.72" height="3.6" fill="#a1a1ff"/>
<rect x="396.35" y="2122.21" width="68.72" height="10.19" fill="#8a8aff"/>
<rect x="396.35" y="2132.1" width="68.72" height="10.19" fill="#a1a1ff"/>
<rect x="396.35" y="2142" width="68.72" height="6.9" fill="#b9b9ff"/>
<rect x="396.35" y="2148.59" width="68.72" height="3.6" fill="#ffe8e8"/>
<rect x="396.35" y="2151.89" width="68.72" height="3.6" fill="#ffd0d0"/>
<rect x="396.35" y="2155.19" width="68.72" height="3.6" fill="#b9b9ff"/>
<rect x="396.35" y="2158.48" width="68.72" height="3.6" fill="#d0d0ff"/>
<rect x="396.35" y="2161.78" width="68.72" height="13.49" fill="#e8e8ff"/>
<rect x="396.35" y="2174.97" width="68.72" height="6.9" fill="#ffd0d0"/>
<rect x="396.35" y="2181.57" width="68.72" height="6.9" fill="#b9b9ff"/>
<rect x="396.35" y="2188.16" width="68.72" height="13.49" fill="#d0d0ff"/>
<rect x="396.35" y="2201.35" width="68.72" height="6.9" fill="#b9b9ff"/>
<rect x="396.35" y="2207.95" width="68.72" height="6.9" fill="#d0d0ff"/>
<rect x="396.35" y="2214.54" width="68.72" height="3.6" fill="#b9b9ff"/>
<rect x="396.35" y="2217.84" width="68.72" height="3.6" fill="#a1a1ff"/>
<rect x="396.35" y="2221.14" width="68.72" height="10.19" fill="#5b5bff"/>
<rect x="396.35" y="2231.03" width="68.72" height="3.6" fill="#7272ff"/>
<rect x="396.35" y="2234.33" width="68.72" height="6.9" fill="#b9b9ff"/>
<rect x="396.35" y="2240.93" width="68.72" height="3.6" fill="#8a8aff"/>
<rect x="396.35" y="2244.22" width="68.72" height="3.6" fill="#a1a1ff"/>
<rect x="396.35" y="2247.52" width="68.72" height="6.6" fill="#5b5bff"/>
</g>
<clipPath id="clipg"><rect x="460" y="1640" width="56" height="630"/></clipPath>
<g clip-path="url(#clipg)">
<g font-size="6.3" fill="#333" font-weight="normal">
<text transform="translate(470.31,1662.11) scale(0.86,1)">IRS1</text>
<text transform="translate(470.31,1668.71) scale(0.86,1)">14-3-3-zeta</text>
<text transform="translate(470.31,1675.3) scale(0.86,1)">4E-BP1</text>
<text transform="translate(470.31,1681.9) scale(0.86,1)">Paxillin</text>
<text transform="translate(470.31,1688.49) scale(0.86,1)">INPP4b</text>
<text transform="translate(470.31,1695.09) scale(0.86,1)">LAD1</text>
<text transform="translate(470.31,1701.68) scale(0.86,1)">FN14</text>
<text transform="translate(470.31,1708.28) scale(0.86,1)">PTPN12</text>
<text transform="translate(470.31,1714.87) scale(0.86,1)">Enolase-2</text>
<text transform="translate(470.31,1721.47) scale(0.86,1)">IRS2</text>
<text transform="translate(470.31,1728.06) scale(0.86,1)">EphA2_pS897</text>
<text transform="translate(470.31,1734.66) scale(0.86,1)">MCT4</text>
<text transform="translate(470.31,1741.25) scale(0.86,1)">Aurora-A</text>
<text transform="translate(470.31,1747.85) scale(0.86,1)">Akt1_pS473</text>
<text transform="translate(470.31,1754.45) scale(0.86,1)">EphA2_pY588</text>
<text transform="translate(470.31,1761.04) scale(0.86,1)">Claudin-7</text>
<text transform="translate(470.31,1767.64) scale(0.86,1)">PKM2</text>
<text transform="translate(470.31,1774.23) scale(0.86,1)">SHP-2_pY542</text>
<text transform="translate(470.31,1780.83) scale(0.86,1)">ATR_pS428</text>
<text transform="translate(470.31,1787.42) scale(0.86,1)">Sox17</text>
<text transform="translate(470.31,1794.02) scale(0.86,1)">HMHA1</text>
<text transform="translate(470.31,1800.61) scale(0.86,1)">EGFR</text>
<text transform="translate(470.31,1807.21) scale(0.86,1)">SLC1A5</text>
<text transform="translate(470.31,1813.8) scale(0.86,1)">GCLM</text>
<text transform="translate(470.31,1820.4) scale(0.86,1)">Pyk2_pY402</text>
<text transform="translate(470.31,1826.99) scale(0.86,1)">B7-H3</text>
<text transform="translate(470.31,1833.59) scale(0.86,1)">HSP60</text>
<text transform="translate(470.31,1840.18) scale(0.86,1)">VEGFR-2_pY1175</text>
<text transform="translate(470.31,1846.78) scale(0.86,1)">CA9</text>
<text transform="translate(470.31,1853.37) scale(0.86,1)">EGFR_pY1173</text>
<text transform="translate(470.31,1859.97) scale(0.86,1)">Grp75</text>
<text transform="translate(470.31,1866.56) scale(0.86,1)">Jagged1</text>
<text transform="translate(470.31,1873.16) scale(0.86,1)">Ets-1</text>
<text transform="translate(470.31,1879.76) scale(0.86,1)">b-Actin</text>
<text transform="translate(470.31,1886.35) scale(0.86,1)">DAPK2</text>
<text transform="translate(470.31,1892.95) scale(0.86,1)">HER3</text>
<text transform="translate(470.31,1899.54) scale(0.86,1)">YAP</text>
<text transform="translate(470.31,1906.14) scale(0.86,1)">ACVRL1</text>
<text transform="translate(470.31,1912.73) scale(0.86,1)">JNK_pT183_Y185</text>
<text transform="translate(470.31,1919.33) scale(0.86,1)">VASP</text>
<text transform="translate(470.31,1925.92) scale(0.86,1)">Granzyme-B</text>
<text transform="translate(470.31,1932.52) scale(0.86,1)">cdc2_pY15</text>
<text transform="translate(470.31,1939.11) scale(0.86,1)">YES1</text>
<text transform="translate(470.31,1945.71) scale(0.86,1)">Bcl-xL</text>
<text transform="translate(470.31,1952.3) scale(0.86,1)">AMPKa_pT172</text>
<text transform="translate(470.31,1958.9) scale(0.86,1)">Bax</text>
<text transform="translate(470.31,1965.49) scale(0.86,1)">PTEN</text>
<text transform="translate(470.31,1972.09) scale(0.86,1)">WIPI1</text>
<text transform="translate(470.31,1978.68) scale(0.86,1)">Bim</text>
<text transform="translate(470.31,1985.28) scale(0.86,1)">AMPKa</text>
<text transform="translate(470.31,1991.87) scale(0.86,1)">Dvl3</text>
<text transform="translate(470.31,1998.47) scale(0.86,1)">GCLC</text>
<text transform="translate(470.31,2005.07) scale(0.86,1)">Pdcd4</text>
<text transform="translate(470.31,2011.66) scale(0.86,1)">CDK9</text>
<text transform="translate(470.31,2018.26) scale(0.86,1)">Jak2</text>
<text transform="translate(470.31,2024.85) scale(0.86,1)">mTOR</text>
<text transform="translate(470.31,2031.45) scale(0.86,1)">PKA-a</text>
<text transform="translate(470.31,2038.04) scale(0.86,1)">PLC-gamma1_pS1248</text>
<text transform="translate(470.31,2044.64) scale(0.86,1)">RPA32</text>
<text transform="translate(470.31,2051.23) scale(0.86,1)">DNMT1</text>
<text transform="translate(470.31,2057.83) scale(0.86,1)">BRD4</text>
<text transform="translate(470.31,2064.42) scale(0.86,1)">p53</text>
<text transform="translate(470.31,2071.02) scale(0.86,1)">Lasu1</text>
<text transform="translate(470.31,2077.61) scale(0.86,1)">Stat5a</text>
<text transform="translate(470.31,2084.21) scale(0.86,1)">ZEB1</text>
<text transform="translate(470.31,2090.8) scale(0.86,1)">SGK1</text>
<text transform="translate(470.31,2097.4) scale(0.86,1)">Puma</text>
<text transform="translate(470.31,2103.99) scale(0.86,1)">PDHA1</text>
<text transform="translate(470.31,2110.59) scale(0.86,1)">Cyclin-E1</text>
<text transform="translate(470.31,2117.19) scale(0.86,1)">FGF-basic</text>
<text transform="translate(470.31,2123.78) scale(0.86,1)">ATM_pS1981</text>
<text transform="translate(470.31,2130.38) scale(0.86,1)">DJ1</text>
<text transform="translate(470.31,2136.97) scale(0.86,1)">MITF</text>
<text transform="translate(470.31,2143.57) scale(0.86,1)">PDK1</text>
<text transform="translate(470.31,2150.16) scale(0.86,1)">MERIT40</text>
<text transform="translate(470.31,2156.76) scale(0.86,1)">ATM</text>
<text transform="translate(470.31,2163.35) scale(0.86,1)">C-Raf</text>
<text transform="translate(470.31,2169.95) scale(0.86,1)">Akt</text>
<text transform="translate(470.31,2176.54) scale(0.86,1)">PKCa</text>
<text transform="translate(470.31,2183.14) scale(0.86,1)">A-Raf</text>
<text transform="translate(470.31,2189.73) scale(0.86,1)">ATRX</text>
<text transform="translate(470.31,2196.33) scale(0.86,1)">Erk5</text>
<text transform="translate(470.31,2202.92) scale(0.86,1)">Glutamate-D1-2</text>
<text transform="translate(470.31,2209.52) scale(0.86,1)">MSH2</text>
<text transform="translate(470.31,2216.11) scale(0.86,1)">PMS2</text>
<text transform="translate(470.31,2222.71) scale(0.86,1)">TRIM25</text>
<text transform="translate(470.31,2229.3) scale(0.86,1)">HLA-DQA1</text>
<text transform="translate(470.31,2235.9) scale(0.86,1)">DNA-Ligase-IV</text>
<text transform="translate(470.31,2242.5) scale(0.86,1)">PLC-gamma1</text>
<text transform="translate(470.31,2249.09) scale(0.86,1)">MEK2</text>
<text transform="translate(470.31,2255.69) scale(0.86,1)">TUFM</text>
</g>
</g>
<text transform="translate(92.05,2261.22) rotate(-90) scale(1.04,1)" font-size="13.7" text-anchor="end">H1975-Osi#NT</text>
<text transform="translate(160.77,2261.22) rotate(-90) scale(1.04,1)" font-size="13.7" text-anchor="end">H1975-Osi#358</text>
<text transform="translate(229.48,2261.22) rotate(-90) scale(1.04,1)" font-size="13.7" text-anchor="end">H1975-Osi#361</text>
<text transform="translate(298.2,2261.22) rotate(-90) scale(1.04,1)" font-size="13.7" text-anchor="end">H1975-Cont#40</text>
<text transform="translate(366.92,2261.22) rotate(-90) scale(1.04,1)" font-size="13.7" text-anchor="end">H1975-Cont#38</text>
<text transform="translate(435.64,2261.22) rotate(-90) scale(1.04,1)" font-size="13.7" text-anchor="end">H1975-Cont#39</text>
<g stroke="#1a1a1a" stroke-width="1.05" fill="none">
<path d="M0 1823.77H33.27M36.66 1753.99H33.27V1894.17H42.67M39.44 1698.84H36.66V1809.14H40.51M44.67 1674.66H39.44V1723.18H44.67M43.9 1781.41H40.51V1836.87H45.44M45.91 1768.63H43.9V1794.04H45.91M45.44 1873.84H42.67V1914.51H45.44M46.21 1666.96H44.67V1682.36H46.21M0 2134.64H34.71M37.98 2064.24H34.71V2205.53H40.93M39.62 2026.59H37.98V2102.22H43.87M42.89 1988.94H39.62V2062.61H45.02M46.66 1966.34H42.89V2011.04H46.66M46.66 2091.26H43.87V2112.54H46.66M42.89 2169.35H40.93V2241.87H45.84M45.02 2142.82H42.89V2194.88H45.02M47.15 2051.15H45.02V2074.07H47.15"/>
<path d="M46.66 1656.95H44.03V1667.48H46.66M46.66 1667.62H45.78V1687.72H46.66M46.66 1690.19H45.54V1716.17H46.66M46.66 1728.58H45.05V1743.76H46.66M46.66 1749.01H44.29V1758.85H46.66M46.66 1758.66H45.92V1769.35H46.66M46.66 1770.84H44.15V1785H46.66M46.66 1788.41H45.44V1796.68H46.66M46.66 1803.24H44.71V1810.5H46.66M46.66 1812.24H45.28V1831.46H46.66M46.66 1841.49H44.66V1857.44H46.66M46.66 1868.79H45.67V1886.42H46.66M46.66 1885.68H44.98V1910.6H46.66M46.66 1912.46H44.8V1937.38H46.66M46.66 1951.23H45.38V1974.85H46.66M46.66 1980.07H45.69V2003.63H46.66M46.66 2017.49H44.57V2025.44H46.66M46.66 2029.67H44.27V2054.67H46.66M46.66 2063.5H45.65V2073.45H46.66M46.66 2077.19H45.81V2093.39H46.66M46.66 2104.94H44.55V2121.08H46.66M46.66 2122.67H45.93V2133.54H46.66M46.66 2135.82H45.11V2147.15H46.66M46.66 2149.86H44.17V2172.55H46.66M46.66 2173.86H45.62V2187.79H46.66M46.66 2194.7H45.55V2220.2H46.66M46.66 2235.24H45.93V2247.24H46.66" stroke="#444" stroke-width="0.8"/>
</g>
<path d="M47.46 1655.95V2252.12" stroke="#1a1a1a" stroke-width="1.3" stroke-dasharray="10 3 6 2.5 13 4 4 3" fill="none"/>
<text transform="translate(561.22,1657.69) scale(0.83,1)" font-size="23.5">Cell Line</text>
<rect x="554.49" y="1679.01" width="8.6" height="9.4" fill="#ff0000"/>
<text transform="translate(576.19,1692.11) scale(0.83,1)" font-size="23.5">H1975R</text>
<rect x="554.49" y="1707.07" width="8.6" height="9.4" fill="#00ff00"/>
<text transform="translate(576.19,1720.17) scale(0.83,1)" font-size="23.5">H1975</text>
<text transform="translate(542.52,1989.97) scale(0.83,1)" font-size="23.5">Treatmen</text>
<text transform="translate(629.32,1989.97) scale(0.83,1)" font-size="23.5">t</text>
<rect x="523.44" y="2011.67" width="8.6" height="9.4" fill="#0000ff"/>
<text transform="translate(545.51,2024.76) scale(0.83,1)" font-size="23.5">Cont</text>
<rect x="523.44" y="2066.67" width="8.6" height="9.4" fill="#00ff00"/>
<text transform="translate(545.51,2079.01) scale(0.83,1)" font-size="23.5">Osi</text>
</g>
<g id="p-g2_volcano">
<text transform="translate(747.38,1600.41)" font-size="32.5" font-weight="bold" textLength="389.12" lengthAdjust="spacingAndGlyphs">H1975 xenograft tumors</text>
<line x1="734.05" y1="1622.48" x2="734.05" y2="2294.97" stroke="#f2f2f2" stroke-width="0.7" />
<line x1="827.68" y1="1622.48" x2="827.68" y2="2294.97" stroke="#f2f2f2" stroke-width="0.7" />
<line x1="921.31" y1="1622.48" x2="921.31" y2="2294.97" stroke="#f2f2f2" stroke-width="0.7" />
<line x1="1014.94" y1="1622.48" x2="1014.94" y2="2294.97" stroke="#f2f2f2" stroke-width="0.7" />
<line x1="1108.58" y1="1622.48" x2="1108.58" y2="2294.97" stroke="#f2f2f2" stroke-width="0.7" />
<line x1="1202.21" y1="1622.48" x2="1202.21" y2="2294.97" stroke="#f2f2f2" stroke-width="0.7" />
<line x1="694.63" y1="2184.38" x2="1207.59" y2="2184.38" stroke="#f2f2f2" stroke-width="0.8" />
<line x1="694.63" y1="2021.58" x2="1207.59" y2="2021.58" stroke="#f2f2f2" stroke-width="0.8" />
<line x1="694.63" y1="1858.78" x2="1207.59" y2="1858.78" stroke="#f2f2f2" stroke-width="0.8" />
<line x1="694.63" y1="1695.98" x2="1207.59" y2="1695.98" stroke="#f2f2f2" stroke-width="0.8" />
<line x1="780.87" y1="1622.48" x2="780.87" y2="2294.97" stroke="#ebebeb" stroke-width="1.1" />
<line x1="874.5" y1="1622.48" x2="874.5" y2="2294.97" stroke="#ebebeb" stroke-width="1.1" />
<line x1="968.13" y1="1622.48" x2="968.13" y2="2294.97" stroke="#ebebeb" stroke-width="1.1" />
<line x1="1061.76" y1="1622.48" x2="1061.76" y2="2294.97" stroke="#ebebeb" stroke-width="1.1" />
<line x1="1155.39" y1="1622.48" x2="1155.39" y2="2294.97" stroke="#ebebeb" stroke-width="1.1" />
<line x1="694.63" y1="2265.78" x2="1207.59" y2="2265.78" stroke="#ebebeb" stroke-width="1.3" />
<line x1="694.63" y1="2102.98" x2="1207.59" y2="2102.98" stroke="#ebebeb" stroke-width="1.3" />
<line x1="694.63" y1="1940.18" x2="1207.59" y2="1940.18" stroke="#ebebeb" stroke-width="1.3" />
<line x1="694.63" y1="1777.38" x2="1207.59" y2="1777.38" stroke="#ebebeb" stroke-width="1.3" />
<line x1="913.5" y1="1622.48" x2="913.5" y2="2294.97" stroke="#ff3030" stroke-width="1.3" />
<line x1="1022.76" y1="1622.48" x2="1022.76" y2="2294.97" stroke="#ff3030" stroke-width="1.3" />
<line x1="694.63" y1="2180.85" x2="1207.59" y2="2180.85" stroke="#ff3030" stroke-width="1.3" />
<text transform="translate(780.87,2316.27) scale(0.7,1)" font-size="14.2" text-anchor="middle" fill="#4d4d4d">-2</text>
<text transform="translate(874.5,2316.27) scale(0.7,1)" font-size="14.2" text-anchor="middle" fill="#4d4d4d">-1</text>
<text transform="translate(968.13,2316.27) scale(0.7,1)" font-size="14.2" text-anchor="middle" fill="#4d4d4d">0</text>
<text transform="translate(1061.76,2316.27) scale(0.7,1)" font-size="14.2" text-anchor="middle" fill="#4d4d4d">1</text>
<text transform="translate(1155.39,2316.27) scale(0.7,1)" font-size="14.2" text-anchor="middle" fill="#4d4d4d">2</text>
<text transform="translate(688.83,2271.18) scale(0.72,1)" font-size="14.4" text-anchor="end" fill="#4d4d4d">0.0</text>
<text transform="translate(688.83,2108.38) scale(0.72,1)" font-size="14.4" text-anchor="end" fill="#4d4d4d">2.5</text>
<text transform="translate(688.83,1945.58) scale(0.72,1)" font-size="14.4" text-anchor="end" fill="#4d4d4d">5.0</text>
<text transform="translate(688.83,1782.78) scale(0.72,1)" font-size="14.4" text-anchor="end" fill="#4d4d4d">7.5</text>
<text transform="translate(950.54,2337.24) scale(0.74,1)" font-size="16.5" text-anchor="middle" fill="#111">log2FoldChange</text>
<text transform="translate(668.81,1959.47) rotate(-90)" font-size="12.5" text-anchor="middle" fill="#111" textLength="117.99" lengthAdjust="spacingAndGlyphs">-log10(pvalue)</text>
<ellipse cx="935.2" cy="1829.39" rx="2.2" ry="3.05" fill="#000"/>
<ellipse cx="939.32" cy="1860.07" rx="2.2" ry="3.05" fill="#000"/>
<ellipse cx="1017.14" cy="1850.71" rx="2.2" ry="3.05" fill="#000"/>
<ellipse cx="932.96" cy="1891.5" rx="2.2" ry="3.05" fill="#000"/>
<ellipse cx="1015.27" cy="1899.73" rx="2.2" ry="3.05" fill="#000"/>
<ellipse cx="1004.05" cy="1908.71" rx="2.2" ry="3.05" fill="#000"/>
<ellipse cx="1016.77" cy="1908.71" rx="2.2" ry="3.05" fill="#000"/>
<ellipse cx="1019.39" cy="1934.52" rx="2.2" ry="3.05" fill="#000"/>
<ellipse cx="1021.63" cy="1937.89" rx="2.2" ry="3.05" fill="#000"/>
<ellipse cx="998.06" cy="1944.63" rx="2.2" ry="3.05" fill="#000"/>
<ellipse cx="1013.03" cy="1947.62" rx="2.2" ry="3.05" fill="#000"/>
<ellipse cx="1005.17" cy="1952.48" rx="2.2" ry="3.05" fill="#000"/>
<ellipse cx="925.1" cy="1949.49" rx="2.2" ry="3.05" fill="#000"/>
<ellipse cx="991.7" cy="1959.59" rx="2.2" ry="3.05" fill="#000"/>
<ellipse cx="1004.8" cy="1952.99" rx="2.2" ry="3.05" fill="#000"/>
<ellipse cx="932.96" cy="1964.22" rx="2.2" ry="3.05" fill="#000"/>
<ellipse cx="935.58" cy="1965.71" rx="2.2" ry="3.05" fill="#000"/>
<ellipse cx="991.7" cy="1984.42" rx="2.2" ry="3.05" fill="#000"/>
<ellipse cx="932.96" cy="1990.41" rx="2.2" ry="3.05" fill="#000"/>
<ellipse cx="935.58" cy="1991.16" rx="2.2" ry="3.05" fill="#000"/>
<ellipse cx="1002.18" cy="1991.9" rx="2.2" ry="3.05" fill="#000"/>
<ellipse cx="1012.28" cy="1993.03" rx="2.2" ry="3.05" fill="#000"/>
<ellipse cx="1016.39" cy="1993.78" rx="2.2" ry="3.05" fill="#000"/>
<ellipse cx="1002.18" cy="1998.64" rx="2.2" ry="3.05" fill="#000"/>
<ellipse cx="1005.92" cy="2002.38" rx="2.2" ry="3.05" fill="#000"/>
<ellipse cx="1020.88" cy="2004.25" rx="2.2" ry="3.05" fill="#000"/>
<ellipse cx="1019.39" cy="2007.99" rx="2.2" ry="3.05" fill="#000"/>
<ellipse cx="935.58" cy="2012.86" rx="2.2" ry="3.05" fill="#000"/>
<ellipse cx="938.57" cy="2013.61" rx="2.2" ry="3.05" fill="#000"/>
<ellipse cx="987.96" cy="2014.35" rx="2.2" ry="3.05" fill="#000"/>
<ellipse cx="995.44" cy="2015.48" rx="2.2" ry="3.05" fill="#000"/>
<ellipse cx="1005.92" cy="2014.73" rx="2.2" ry="3.05" fill="#000"/>
<ellipse cx="994.69" cy="2020.34" rx="2.2" ry="3.05" fill="#000"/>
<ellipse cx="947.93" cy="2027.45" rx="2.2" ry="3.05" fill="#000"/>
<ellipse cx="993.57" cy="2027.82" rx="2.2" ry="3.05" fill="#000"/>
<ellipse cx="929.97" cy="2033.06" rx="2.2" ry="3.05" fill="#000"/>
<ellipse cx="999.18" cy="2033.06" rx="2.2" ry="3.05" fill="#000"/>
<ellipse cx="931.09" cy="2039.8" rx="2.2" ry="3.05" fill="#000"/>
<ellipse cx="935.58" cy="2040.92" rx="2.2" ry="3.05" fill="#000"/>
<ellipse cx="1002.18" cy="2046.53" rx="2.2" ry="3.05" fill="#000"/>
<ellipse cx="1004.8" cy="2048.03" rx="2.2" ry="3.05" fill="#000"/>
<ellipse cx="1006.67" cy="2050.27" rx="2.2" ry="3.05" fill="#000"/>
<ellipse cx="1019.76" cy="2054.76" rx="2.2" ry="3.05" fill="#000"/>
<ellipse cx="989.83" cy="2056.63" rx="2.2" ry="3.05" fill="#000"/>
<ellipse cx="919.86" cy="2058.5" rx="2.2" ry="3.05" fill="#000"/>
<ellipse cx="952.41" cy="2059.63" rx="2.2" ry="3.05" fill="#000"/>
<ellipse cx="918.74" cy="2061.5" rx="2.2" ry="3.05" fill="#000"/>
<ellipse cx="1020.88" cy="2060.37" rx="2.2" ry="3.05" fill="#000"/>
<ellipse cx="937.45" cy="2064.12" rx="2.2" ry="3.05" fill="#000"/>
<ellipse cx="1021.63" cy="2067.11" rx="2.2" ry="3.05" fill="#000"/>
<ellipse cx="941.19" cy="2068.98" rx="2.2" ry="3.05" fill="#000"/>
<ellipse cx="946.05" cy="2067.86" rx="2.2" ry="3.05" fill="#000"/>
<ellipse cx="999.18" cy="2074.59" rx="2.2" ry="3.05" fill="#000"/>
<ellipse cx="989.83" cy="2080.95" rx="2.2" ry="3.05" fill="#000"/>
<ellipse cx="1008.54" cy="2083.57" rx="2.2" ry="3.05" fill="#000"/>
<ellipse cx="1021.63" cy="2082.82" rx="2.2" ry="3.05" fill="#000"/>
<ellipse cx="929.22" cy="2076.46" rx="2.2" ry="3.05" fill="#000"/>
<ellipse cx="995.44" cy="2090.31" rx="2.2" ry="3.05" fill="#000"/>
<ellipse cx="950.54" cy="2095.17" rx="2.2" ry="3.05" fill="#000"/>
<ellipse cx="946.05" cy="2096.67" rx="2.2" ry="3.05" fill="#000"/>
<ellipse cx="991.7" cy="2100.41" rx="2.2" ry="3.05" fill="#000"/>
<ellipse cx="1001.05" cy="2096.67" rx="2.2" ry="3.05" fill="#000"/>
<ellipse cx="999.18" cy="2098.91" rx="2.2" ry="3.05" fill="#000"/>
<ellipse cx="984.22" cy="2104.15" rx="2.2" ry="3.05" fill="#000"/>
<ellipse cx="986.09" cy="2110.14" rx="2.2" ry="3.05" fill="#000"/>
<ellipse cx="990.58" cy="2112.76" rx="2.2" ry="3.05" fill="#000"/>
<ellipse cx="1065.41" cy="2122.86" rx="2.2" ry="3.05" fill="#000"/>
<ellipse cx="935.58" cy="2114.63" rx="2.2" ry="3.05" fill="#000"/>
<ellipse cx="984.22" cy="2121.36" rx="2.2" ry="3.05" fill="#000"/>
<ellipse cx="950.54" cy="2125.85" rx="2.2" ry="3.05" fill="#000"/>
<ellipse cx="978.61" cy="2126.97" rx="2.2" ry="3.05" fill="#000"/>
<ellipse cx="1014.15" cy="2128.84" rx="2.2" ry="3.05" fill="#000"/>
<ellipse cx="986.09" cy="2133.33" rx="2.2" ry="3.05" fill="#000"/>
<ellipse cx="997.31" cy="2134.46" rx="2.2" ry="3.05" fill="#000"/>
<ellipse cx="939.32" cy="2135.95" rx="2.2" ry="3.05" fill="#000"/>
<ellipse cx="913.13" cy="2135.95" rx="2.2" ry="3.05" fill="#000"/>
<ellipse cx="978.61" cy="2140.82" rx="2.2" ry="3.05" fill="#000"/>
<ellipse cx="986.09" cy="2143.81" rx="2.2" ry="3.05" fill="#000"/>
<ellipse cx="928.1" cy="2146.43" rx="2.2" ry="3.05" fill="#000"/>
<ellipse cx="929.97" cy="2147.55" rx="2.2" ry="3.05" fill="#000"/>
<ellipse cx="1010.41" cy="2146.43" rx="2.2" ry="3.05" fill="#000"/>
<ellipse cx="939.32" cy="2141.56" rx="2.2" ry="3.05" fill="#000"/>
<ellipse cx="955.03" cy="2146.43" rx="2.2" ry="3.05" fill="#000"/>
<ellipse cx="989.83" cy="2152.04" rx="2.2" ry="3.05" fill="#000"/>
<ellipse cx="987.96" cy="2153.91" rx="2.2" ry="3.05" fill="#000"/>
<ellipse cx="946.8" cy="2155.03" rx="2.2" ry="3.05" fill="#000"/>
<ellipse cx="979.35" cy="2160.27" rx="2.2" ry="3.05" fill="#000"/>
<ellipse cx="982.35" cy="2157.65" rx="2.2" ry="3.05" fill="#000"/>
<ellipse cx="999.18" cy="2163.27" rx="2.2" ry="3.05" fill="#000"/>
<ellipse cx="1001.05" cy="2165.14" rx="2.2" ry="3.05" fill="#000"/>
<ellipse cx="901.9" cy="2164.01" rx="2.2" ry="3.05" fill="#000"/>
<ellipse cx="925.1" cy="2165.14" rx="2.2" ry="3.05" fill="#000"/>
<ellipse cx="987.96" cy="2166.26" rx="2.2" ry="3.05" fill="#000"/>
<ellipse cx="954.29" cy="2167.01" rx="2.2" ry="3.05" fill="#000"/>
<ellipse cx="946.8" cy="2170.75" rx="2.2" ry="3.05" fill="#000"/>
<ellipse cx="931.09" cy="2170" rx="2.2" ry="3.05" fill="#000"/>
<ellipse cx="884.32" cy="2172.24" rx="2.2" ry="3.05" fill="#000"/>
<ellipse cx="989.83" cy="2173.74" rx="2.2" ry="3.05" fill="#000"/>
<ellipse cx="961.77" cy="2173.74" rx="2.2" ry="3.05" fill="#000"/>
<ellipse cx="946.8" cy="2176.36" rx="2.2" ry="3.05" fill="#000"/>
<ellipse cx="917.62" cy="2178.61" rx="2.2" ry="3.05" fill="#000"/>
<ellipse cx="924.35" cy="2186.84" rx="2.2" ry="3.05" fill="#000"/>
<ellipse cx="931.09" cy="2189.46" rx="2.2" ry="3.05" fill="#000"/>
<ellipse cx="939.32" cy="2190.2" rx="2.2" ry="3.05" fill="#000"/>
<ellipse cx="941.19" cy="2193.2" rx="2.2" ry="3.05" fill="#000"/>
<ellipse cx="948.67" cy="2187.59" rx="2.2" ry="3.05" fill="#000"/>
<ellipse cx="954.29" cy="2185.71" rx="2.2" ry="3.05" fill="#000"/>
<ellipse cx="981.22" cy="2183.84" rx="2.2" ry="3.05" fill="#000"/>
<ellipse cx="983.47" cy="2186.46" rx="2.2" ry="3.05" fill="#000"/>
<ellipse cx="993.57" cy="2185.71" rx="2.2" ry="3.05" fill="#000"/>
<ellipse cx="999.93" cy="2186.84" rx="2.2" ry="3.05" fill="#000"/>
<ellipse cx="959.9" cy="2196.19" rx="2.2" ry="3.05" fill="#000"/>
<ellipse cx="974.12" cy="2195.07" rx="2.2" ry="3.05" fill="#000"/>
<ellipse cx="981.22" cy="2196.94" rx="2.2" ry="3.05" fill="#000"/>
<ellipse cx="987.96" cy="2195.07" rx="2.2" ry="3.05" fill="#000"/>
<ellipse cx="992.82" cy="2198.06" rx="2.2" ry="3.05" fill="#000"/>
<ellipse cx="1023.5" cy="2200.68" rx="2.2" ry="3.05" fill="#000"/>
<ellipse cx="1027.99" cy="2203.3" rx="2.2" ry="3.05" fill="#000"/>
<ellipse cx="1025.37" cy="2208.16" rx="2.2" ry="3.05" fill="#000"/>
<ellipse cx="998.44" cy="2206.29" rx="2.2" ry="3.05" fill="#000"/>
<ellipse cx="991.7" cy="2207.41" rx="2.2" ry="3.05" fill="#000"/>
<ellipse cx="906.39" cy="2216.77" rx="2.2" ry="3.05" fill="#000"/>
<ellipse cx="932.96" cy="2217.89" rx="2.2" ry="3.05" fill="#000"/>
<ellipse cx="938.57" cy="2219.39" rx="2.2" ry="3.05" fill="#000"/>
<ellipse cx="942.31" cy="2216.39" rx="2.2" ry="3.05" fill="#000"/>
<ellipse cx="910.51" cy="2226.12" rx="2.2" ry="3.05" fill="#000"/>
<ellipse cx="934.46" cy="2238.84" rx="2.2" ry="3.05" fill="#000"/>
<ellipse cx="946.8" cy="2240.71" rx="2.2" ry="3.05" fill="#000"/>
<ellipse cx="995.44" cy="2239.97" rx="2.2" ry="3.05" fill="#000"/>
<ellipse cx="1024.25" cy="2234.35" rx="2.2" ry="3.05" fill="#000"/>
<ellipse cx="987.96" cy="2250.44" rx="2.2" ry="3.05" fill="#000"/>
<ellipse cx="981.22" cy="2252.31" rx="2.2" ry="3.05" fill="#000"/>
<ellipse cx="947.78" cy="2164.56" rx="2.2" ry="3.05" fill="#000"/>
<ellipse cx="984.73" cy="2210.84" rx="2.2" ry="3.05" fill="#000"/>
<ellipse cx="961.44" cy="2238.4" rx="2.2" ry="3.05" fill="#000"/>
<ellipse cx="963.11" cy="2233.24" rx="2.2" ry="3.05" fill="#000"/>
<ellipse cx="940.11" cy="2092.61" rx="2.2" ry="3.05" fill="#000"/>
<ellipse cx="969.78" cy="2258.23" rx="2.2" ry="3.05" fill="#000"/>
<ellipse cx="970.83" cy="2259.51" rx="2.2" ry="3.05" fill="#000"/>
<ellipse cx="972.96" cy="2232.17" rx="2.2" ry="3.05" fill="#000"/>
<ellipse cx="940.19" cy="2111.7" rx="2.2" ry="3.05" fill="#000"/>
<ellipse cx="992.92" cy="2142.87" rx="2.2" ry="3.05" fill="#000"/>
<ellipse cx="949.81" cy="2226.19" rx="2.2" ry="3.05" fill="#000"/>
<ellipse cx="948.99" cy="2177.56" rx="2.2" ry="3.05" fill="#000"/>
<ellipse cx="994.44" cy="2204.38" rx="2.2" ry="3.05" fill="#000"/>
<ellipse cx="948.54" cy="2174.59" rx="2.2" ry="3.05" fill="#000"/>
<ellipse cx="979.7" cy="2205.67" rx="2.2" ry="3.05" fill="#000"/>
<ellipse cx="973.19" cy="2251.37" rx="2.2" ry="3.05" fill="#000"/>
<ellipse cx="972.13" cy="2241.84" rx="2.2" ry="3.05" fill="#000"/>
<ellipse cx="959.16" cy="2230.48" rx="2.2" ry="3.05" fill="#000"/>
<ellipse cx="972.97" cy="2228" rx="2.2" ry="3.05" fill="#000"/>
<ellipse cx="968.21" cy="2264.45" rx="2.2" ry="3.05" fill="#000"/>
<ellipse cx="950.55" cy="2166.62" rx="2.2" ry="3.05" fill="#000"/>
<ellipse cx="965.7" cy="2255.21" rx="2.2" ry="3.05" fill="#000"/>
<ellipse cx="965.38" cy="2250.58" rx="2.2" ry="3.05" fill="#000"/>
<ellipse cx="992.92" cy="2171.44" rx="2.2" ry="3.05" fill="#000"/>
<ellipse cx="968.92" cy="2258.93" rx="2.2" ry="3.05" fill="#000"/>
<ellipse cx="975.33" cy="2235.59" rx="2.2" ry="3.05" fill="#000"/>
<ellipse cx="971.47" cy="2256.97" rx="2.2" ry="3.05" fill="#000"/>
<ellipse cx="963.62" cy="2247.09" rx="2.2" ry="3.05" fill="#000"/>
<ellipse cx="958.6" cy="2242.18" rx="2.2" ry="3.05" fill="#000"/>
<ellipse cx="941.4" cy="2160" rx="2.2" ry="3.05" fill="#000"/>
<ellipse cx="965.82" cy="2256.93" rx="2.2" ry="3.05" fill="#000"/>
<ellipse cx="980.15" cy="2240.44" rx="2.2" ry="3.05" fill="#000"/>
<ellipse cx="955.77" cy="2197.75" rx="2.2" ry="3.05" fill="#000"/>
<ellipse cx="974.4" cy="2228.45" rx="2.2" ry="3.05" fill="#000"/>
<ellipse cx="962.17" cy="2249.29" rx="2.2" ry="3.05" fill="#000"/>
<ellipse cx="965.76" cy="2259.51" rx="2.2" ry="3.05" fill="#000"/>
<ellipse cx="976.59" cy="2247.54" rx="2.2" ry="3.05" fill="#000"/>
<ellipse cx="958.94" cy="2220.39" rx="2.2" ry="3.05" fill="#000"/>
<ellipse cx="989.23" cy="2224.03" rx="2.2" ry="3.05" fill="#000"/>
<ellipse cx="964.25" cy="2257.89" rx="2.2" ry="3.05" fill="#000"/>
<ellipse cx="959.03" cy="2215.09" rx="2.2" ry="3.05" fill="#000"/>
<ellipse cx="969" cy="2258.67" rx="2.2" ry="3.05" fill="#000"/>
<ellipse cx="957.09" cy="2220.8" rx="2.2" ry="3.05" fill="#000"/>
<ellipse cx="990.16" cy="2175.28" rx="2.2" ry="3.05" fill="#000"/>
<ellipse cx="957.01" cy="2213.29" rx="2.2" ry="3.05" fill="#000"/>
<ellipse cx="962.38" cy="2253.6" rx="2.2" ry="3.05" fill="#000"/>
<ellipse cx="975.38" cy="2222.61" rx="2.2" ry="3.05" fill="#000"/>
<ellipse cx="949.61" cy="2190.09" rx="2.2" ry="3.05" fill="#000"/>
<ellipse cx="972.4" cy="2251.08" rx="2.2" ry="3.05" fill="#000"/>
<ellipse cx="964.76" cy="2256.23" rx="2.2" ry="3.05" fill="#000"/>
<ellipse cx="964.62" cy="2252.26" rx="2.2" ry="3.05" fill="#000"/>
<ellipse cx="961.92" cy="2230.74" rx="2.2" ry="3.05" fill="#000"/>
<ellipse cx="969.79" cy="2258.44" rx="2.2" ry="3.05" fill="#000"/>
<ellipse cx="961.33" cy="2252.06" rx="2.2" ry="3.05" fill="#000"/>
<ellipse cx="956.38" cy="2208.12" rx="2.2" ry="3.05" fill="#000"/>
<ellipse cx="947.91" cy="2134.61" rx="2.2" ry="3.05" fill="#000"/>
<ellipse cx="954.52" cy="2196.24" rx="2.2" ry="3.05" fill="#000"/>
<ellipse cx="975.97" cy="2242.47" rx="2.2" ry="3.05" fill="#000"/>
<ellipse cx="988.2" cy="2196.78" rx="2.2" ry="3.05" fill="#000"/>
<ellipse cx="965.78" cy="2255.02" rx="2.2" ry="3.05" fill="#000"/>
<ellipse cx="960.19" cy="2225.8" rx="2.2" ry="3.05" fill="#000"/>
<ellipse cx="942.9" cy="2139.49" rx="2.2" ry="3.05" fill="#000"/>
<ellipse cx="973.25" cy="2235.11" rx="2.2" ry="3.05" fill="#000"/>
<ellipse cx="945.59" cy="2145.36" rx="2.2" ry="3.05" fill="#000"/>
<ellipse cx="967.19" cy="2257.31" rx="2.2" ry="3.05" fill="#000"/>
<ellipse cx="987.25" cy="2189.94" rx="2.2" ry="3.05" fill="#000"/>
<ellipse cx="945.43" cy="2158.52" rx="2.2" ry="3.05" fill="#000"/>
<ellipse cx="967.51" cy="2262.16" rx="2.2" ry="3.05" fill="#000"/>
<ellipse cx="963.14" cy="2237.47" rx="2.2" ry="3.05" fill="#000"/>
<ellipse cx="952.56" cy="2226.58" rx="2.2" ry="3.05" fill="#000"/>
<ellipse cx="963.45" cy="2233.19" rx="2.2" ry="3.05" fill="#000"/>
<ellipse cx="970.89" cy="2253.06" rx="2.2" ry="3.05" fill="#000"/>
<ellipse cx="993.85" cy="2163.68" rx="2.2" ry="3.05" fill="#000"/>
<ellipse cx="959.49" cy="2223.29" rx="2.2" ry="3.05" fill="#000"/>
<ellipse cx="993.71" cy="2211.29" rx="2.2" ry="3.05" fill="#000"/>
<ellipse cx="969.47" cy="2256.35" rx="2.2" ry="3.05" fill="#000"/>
<ellipse cx="960.97" cy="2251.51" rx="2.2" ry="3.05" fill="#000"/>
<ellipse cx="971.41" cy="2242.5" rx="2.2" ry="3.05" fill="#000"/>
<ellipse cx="977.84" cy="2243.92" rx="2.2" ry="3.05" fill="#000"/>
<ellipse cx="977.51" cy="2223.47" rx="2.2" ry="3.05" fill="#000"/>
<ellipse cx="959.02" cy="2225.93" rx="2.2" ry="3.05" fill="#000"/>
<ellipse cx="966.9" cy="2261.33" rx="2.2" ry="3.05" fill="#000"/>
<ellipse cx="954.66" cy="2212.62" rx="2.2" ry="3.05" fill="#000"/>
<ellipse cx="964.33" cy="2257.08" rx="2.2" ry="3.05" fill="#000"/>
<ellipse cx="957.09" cy="2243.34" rx="2.2" ry="3.05" fill="#000"/>
<ellipse cx="972.17" cy="2255.11" rx="2.2" ry="3.05" fill="#000"/>
<ellipse cx="987.02" cy="2176.53" rx="2.2" ry="3.05" fill="#000"/>
<ellipse cx="962.82" cy="2242.39" rx="2.2" ry="3.05" fill="#000"/>
<ellipse cx="968.15" cy="2264.81" rx="2.2" ry="3.05" fill="#000"/>
<ellipse cx="966.52" cy="2259.85" rx="2.2" ry="3.05" fill="#000"/>
<ellipse cx="968.36" cy="2264.47" rx="2.2" ry="3.05" fill="#000"/>
<ellipse cx="969.66" cy="2255.63" rx="2.2" ry="3.05" fill="#000"/>
<ellipse cx="944.73" cy="2179.93" rx="2.2" ry="3.05" fill="#000"/>
<ellipse cx="967.29" cy="2263.21" rx="2.2" ry="3.05" fill="#000"/>
<ellipse cx="972.81" cy="2249.12" rx="2.2" ry="3.05" fill="#000"/>
<ellipse cx="968.12" cy="2264.81" rx="2.2" ry="3.05" fill="#000"/>
<ellipse cx="962.96" cy="2254.88" rx="2.2" ry="3.05" fill="#000"/>
<ellipse cx="968.93" cy="2262.15" rx="2.2" ry="3.05" fill="#000"/>
<ellipse cx="985.47" cy="2230.47" rx="2.2" ry="3.05" fill="#000"/>
<ellipse cx="968.66" cy="2263.46" rx="2.2" ry="3.05" fill="#000"/>
<ellipse cx="943.03" cy="2187.4" rx="2.2" ry="3.05" fill="#000"/>
<ellipse cx="960.5" cy="2218.31" rx="2.2" ry="3.05" fill="#000"/>
<ellipse cx="967.75" cy="2264.64" rx="2.2" ry="3.05" fill="#000"/>
<ellipse cx="971.93" cy="2249.29" rx="2.2" ry="3.05" fill="#000"/>
<ellipse cx="966.82" cy="2257.11" rx="2.2" ry="3.05" fill="#000"/>
<ellipse cx="983.11" cy="2235.97" rx="2.2" ry="3.05" fill="#000"/>
<ellipse cx="967.25" cy="2259.67" rx="2.2" ry="3.05" fill="#000"/>
<ellipse cx="960.05" cy="2226.14" rx="2.2" ry="3.05" fill="#000"/>
<ellipse cx="966.93" cy="2260.59" rx="2.2" ry="3.05" fill="#000"/>
<ellipse cx="951.25" cy="2187.8" rx="2.2" ry="3.05" fill="#000"/>
<ellipse cx="956.37" cy="2217.29" rx="2.2" ry="3.05" fill="#000"/>
<ellipse cx="996.14" cy="2185.48" rx="2.2" ry="3.05" fill="#000"/>
<ellipse cx="983.4" cy="2190.1" rx="2.2" ry="3.05" fill="#000"/>
<ellipse cx="983.2" cy="2234.31" rx="2.2" ry="3.05" fill="#000"/>
<ellipse cx="993.04" cy="2169.56" rx="2.2" ry="3.05" fill="#000"/>
<ellipse cx="957.97" cy="2227.83" rx="2.2" ry="3.05" fill="#000"/>
<ellipse cx="968.11" cy="2263.81" rx="2.2" ry="3.05" fill="#000"/>
<ellipse cx="963.97" cy="2244.09" rx="2.2" ry="3.05" fill="#000"/>
<ellipse cx="994.25" cy="2188.61" rx="2.2" ry="3.05" fill="#000"/>
<ellipse cx="984.57" cy="2205.8" rx="2.2" ry="3.05" fill="#000"/>
<ellipse cx="967.38" cy="2260.52" rx="2.2" ry="3.05" fill="#000"/>
<ellipse cx="964.41" cy="2250.46" rx="2.2" ry="3.05" fill="#000"/>
<ellipse cx="957.95" cy="2201.67" rx="2.2" ry="3.05" fill="#000"/>
<ellipse cx="966.3" cy="2260.21" rx="2.2" ry="3.05" fill="#000"/>
<ellipse cx="967.05" cy="2259.84" rx="2.2" ry="3.05" fill="#000"/>
<ellipse cx="965.43" cy="2248.78" rx="2.2" ry="3.05" fill="#000"/>
<ellipse cx="981.41" cy="2175.74" rx="2.2" ry="3.05" fill="#000"/>
<ellipse cx="949.37" cy="2205.58" rx="2.2" ry="3.05" fill="#000"/>
<ellipse cx="956.95" cy="2242.17" rx="2.2" ry="3.05" fill="#000"/>
<ellipse cx="967.38" cy="2262.32" rx="2.2" ry="3.05" fill="#000"/>
<ellipse cx="974.78" cy="2224.1" rx="2.2" ry="3.05" fill="#000"/>
<ellipse cx="962.72" cy="2241.03" rx="2.2" ry="3.05" fill="#000"/>
<ellipse cx="993.31" cy="2184.25" rx="2.2" ry="3.05" fill="#000"/>
<ellipse cx="946.97" cy="2204.35" rx="2.2" ry="3.05" fill="#000"/>
<ellipse cx="970.95" cy="2258.53" rx="2.2" ry="3.05" fill="#000"/>
<ellipse cx="972.97" cy="2255.59" rx="2.2" ry="3.05" fill="#000"/>
<ellipse cx="987.75" cy="2194.02" rx="2.2" ry="3.05" fill="#000"/>
<ellipse cx="968.33" cy="2263.43" rx="2.2" ry="3.05" fill="#000"/>
<ellipse cx="962" cy="2236.82" rx="2.2" ry="3.05" fill="#000"/>
<ellipse cx="988.69" cy="2212.64" rx="2.2" ry="3.05" fill="#000"/>
<ellipse cx="973.16" cy="2241.02" rx="2.2" ry="3.05" fill="#000"/>
<ellipse cx="994.57" cy="2212.09" rx="2.2" ry="3.05" fill="#000"/>
<ellipse cx="948.57" cy="2165.15" rx="2.2" ry="3.05" fill="#000"/>
<ellipse cx="957.45" cy="2206.39" rx="2.2" ry="3.05" fill="#000"/>
<ellipse cx="955.36" cy="2230.85" rx="2.2" ry="3.05" fill="#000"/>
<ellipse cx="963.02" cy="2243.3" rx="2.2" ry="3.05" fill="#000"/>
<ellipse cx="989.71" cy="2188.45" rx="2.2" ry="3.05" fill="#000"/>
<ellipse cx="968.15" cy="2263.71" rx="2.2" ry="3.05" fill="#000"/>
<ellipse cx="968.15" cy="2265.16" rx="2.2" ry="3.05" fill="#000"/>
<ellipse cx="954.62" cy="2223.07" rx="2.2" ry="3.05" fill="#000"/>
<ellipse cx="961.94" cy="2242.22" rx="2.2" ry="3.05" fill="#000"/>
<ellipse cx="958.3" cy="2223.53" rx="2.2" ry="3.05" fill="#000"/>
<ellipse cx="942.34" cy="2199.31" rx="2.2" ry="3.05" fill="#000"/>
<ellipse cx="986.48" cy="2168.65" rx="2.2" ry="3.05" fill="#000"/>
<ellipse cx="972.14" cy="2257.87" rx="2.2" ry="3.05" fill="#000"/>
<ellipse cx="967.72" cy="2261.46" rx="2.2" ry="3.05" fill="#000"/>
<ellipse cx="951.61" cy="2201.88" rx="2.2" ry="3.05" fill="#000"/>
<ellipse cx="959.75" cy="2223.86" rx="2.2" ry="3.05" fill="#000"/>
<ellipse cx="949.2" cy="2202.3" rx="2.2" ry="3.05" fill="#000"/>
<ellipse cx="943.56" cy="2190.29" rx="2.2" ry="3.05" fill="#000"/>
<ellipse cx="960.43" cy="2232.98" rx="2.2" ry="3.05" fill="#000"/>
<ellipse cx="995.27" cy="2140.61" rx="2.2" ry="3.05" fill="#000"/>
<ellipse cx="979.64" cy="2242.87" rx="2.2" ry="3.05" fill="#000"/>
<ellipse cx="966.41" cy="2254.82" rx="2.2" ry="3.05" fill="#000"/>
<ellipse cx="945.56" cy="2191.71" rx="2.2" ry="3.05" fill="#000"/>
<ellipse cx="968.92" cy="2259.05" rx="2.2" ry="3.05" fill="#000"/>
<ellipse cx="943.85" cy="2171.59" rx="2.2" ry="3.05" fill="#000"/>
<ellipse cx="995.72" cy="2211.14" rx="2.2" ry="3.05" fill="#000"/>
<ellipse cx="969.04" cy="2260.17" rx="2.2" ry="3.05" fill="#000"/>
<ellipse cx="968.14" cy="2265.05" rx="2.2" ry="3.05" fill="#000"/>
<ellipse cx="968.27" cy="2264.82" rx="2.2" ry="3.05" fill="#000"/>
<ellipse cx="970.51" cy="2256.43" rx="2.2" ry="3.05" fill="#000"/>
<ellipse cx="974.88" cy="2240.53" rx="2.2" ry="3.05" fill="#000"/>
<ellipse cx="945.55" cy="2171.34" rx="2.2" ry="3.05" fill="#000"/>
<ellipse cx="957.18" cy="2215.37" rx="2.2" ry="3.05" fill="#000"/>
<ellipse cx="944.4" cy="2141.42" rx="2.2" ry="3.05" fill="#000"/>
<ellipse cx="956.66" cy="2186.19" rx="2.2" ry="3.05" fill="#000"/>
<ellipse cx="965.58" cy="2260.43" rx="2.2" ry="3.05" fill="#000"/>
<ellipse cx="964.13" cy="2255" rx="2.2" ry="3.05" fill="#000"/>
<ellipse cx="965.74" cy="2258.28" rx="2.2" ry="3.05" fill="#000"/>
<ellipse cx="948.99" cy="2178.5" rx="2.2" ry="3.05" fill="#000"/>
<ellipse cx="944.8" cy="2140.51" rx="2.2" ry="3.05" fill="#000"/>
<ellipse cx="960.9" cy="2240.73" rx="2.2" ry="3.05" fill="#000"/>
<ellipse cx="964.29" cy="2254.32" rx="2.2" ry="3.05" fill="#000"/>
<ellipse cx="956.65" cy="2184.65" rx="2.2" ry="3.05" fill="#000"/>
<ellipse cx="965.75" cy="2255.53" rx="2.2" ry="3.05" fill="#000"/>
<ellipse cx="957.72" cy="2234.48" rx="2.2" ry="3.05" fill="#000"/>
<ellipse cx="971.54" cy="2250.61" rx="2.2" ry="3.05" fill="#000"/>
<ellipse cx="942.6" cy="2209.32" rx="2.2" ry="3.05" fill="#000"/>
<ellipse cx="982.18" cy="2185.61" rx="2.2" ry="3.05" fill="#000"/>
<ellipse cx="960.47" cy="2239.19" rx="2.2" ry="3.05" fill="#000"/>
<ellipse cx="951.55" cy="2207.68" rx="2.2" ry="3.05" fill="#000"/>
<ellipse cx="983.35" cy="2185.44" rx="2.2" ry="3.05" fill="#000"/>
<ellipse cx="948.12" cy="2196.13" rx="2.2" ry="3.05" fill="#000"/>
<ellipse cx="974.43" cy="2242.92" rx="2.2" ry="3.05" fill="#000"/>
<ellipse cx="957.9" cy="2207.5" rx="2.2" ry="3.05" fill="#000"/>
<ellipse cx="973.32" cy="2244.45" rx="2.2" ry="3.05" fill="#000"/>
<ellipse cx="986.77" cy="2228.02" rx="2.2" ry="3.05" fill="#000"/>
<ellipse cx="962.85" cy="2244.6" rx="2.2" ry="3.05" fill="#000"/>
<ellipse cx="944.65" cy="2165.27" rx="2.2" ry="3.05" fill="#000"/>
<ellipse cx="973.41" cy="2248.35" rx="2.2" ry="3.05" fill="#000"/>
<ellipse cx="958.79" cy="2221.73" rx="2.2" ry="3.05" fill="#000"/>
<ellipse cx="949.1" cy="2188.6" rx="2.2" ry="3.05" fill="#000"/>
<ellipse cx="973.6" cy="2243.35" rx="2.2" ry="3.05" fill="#000"/>
<ellipse cx="955.97" cy="2214.59" rx="2.2" ry="3.05" fill="#000"/>
<ellipse cx="970.47" cy="2256.51" rx="2.2" ry="3.05" fill="#000"/>
<ellipse cx="960.33" cy="2224.85" rx="2.2" ry="3.05" fill="#000"/>
<ellipse cx="987.44" cy="2205.86" rx="2.2" ry="3.05" fill="#000"/>
<ellipse cx="983.88" cy="2209.32" rx="2.2" ry="3.05" fill="#000"/>
<ellipse cx="951.82" cy="2198.49" rx="2.2" ry="3.05" fill="#000"/>
<ellipse cx="948.31" cy="2158.62" rx="2.2" ry="3.05" fill="#000"/>
<ellipse cx="962.27" cy="2235.11" rx="2.2" ry="3.05" fill="#000"/>
<ellipse cx="971.88" cy="2247.95" rx="2.2" ry="3.05" fill="#000"/>
<ellipse cx="956.82" cy="2243.35" rx="2.2" ry="3.05" fill="#000"/>
<ellipse cx="947.74" cy="2223.71" rx="2.2" ry="3.05" fill="#000"/>
<ellipse cx="991.67" cy="2135.09" rx="2.2" ry="3.05" fill="#000"/>
<ellipse cx="965.99" cy="2255.05" rx="2.2" ry="3.05" fill="#000"/>
<ellipse cx="977.45" cy="2221.44" rx="2.2" ry="3.05" fill="#000"/>
<ellipse cx="966.04" cy="2254.75" rx="2.2" ry="3.05" fill="#000"/>
<ellipse cx="943.57" cy="2191.29" rx="2.2" ry="3.05" fill="#000"/>
<ellipse cx="957.44" cy="2212.15" rx="2.2" ry="3.05" fill="#000"/>
<ellipse cx="945.66" cy="2206.65" rx="2.2" ry="3.05" fill="#000"/>
<ellipse cx="945.72" cy="2149.26" rx="2.2" ry="3.05" fill="#000"/>
<ellipse cx="969.36" cy="2256.98" rx="2.2" ry="3.05" fill="#000"/>
<ellipse cx="961.56" cy="2241.21" rx="2.2" ry="3.05" fill="#000"/>
<ellipse cx="968.81" cy="2261.96" rx="2.2" ry="3.05" fill="#000"/>
<ellipse cx="973.7" cy="2245.89" rx="2.2" ry="3.05" fill="#000"/>
<ellipse cx="982.32" cy="2204.77" rx="2.2" ry="3.05" fill="#000"/>
<ellipse cx="995.49" cy="2209.82" rx="2.2" ry="3.05" fill="#000"/>
<ellipse cx="940.42" cy="2185.12" rx="2.2" ry="3.05" fill="#000"/>
<ellipse cx="992.92" cy="2154.24" rx="2.2" ry="3.05" fill="#000"/>
<ellipse cx="943.32" cy="2147.23" rx="2.2" ry="3.05" fill="#000"/>
<ellipse cx="982.87" cy="2218.33" rx="2.2" ry="3.05" fill="#000"/>
<ellipse cx="943.79" cy="2176.82" rx="2.2" ry="3.05" fill="#000"/>
<ellipse cx="975.16" cy="2238.22" rx="2.2" ry="3.05" fill="#000"/>
<ellipse cx="981.7" cy="2205.77" rx="2.2" ry="3.05" fill="#000"/>
<ellipse cx="973.37" cy="2240.71" rx="2.2" ry="3.05" fill="#000"/>
<ellipse cx="958.93" cy="2233.38" rx="2.2" ry="3.05" fill="#000"/>
<ellipse cx="944.38" cy="2125.18" rx="2.2" ry="3.05" fill="#000"/>
<ellipse cx="959.39" cy="2234.13" rx="2.2" ry="3.05" fill="#000"/>
<ellipse cx="949.23" cy="2178.28" rx="2.2" ry="3.05" fill="#000"/>
<ellipse cx="958.32" cy="2245.1" rx="2.2" ry="3.05" fill="#000"/>
<ellipse cx="947.28" cy="2169.62" rx="2.2" ry="3.05" fill="#000"/>
<ellipse cx="987.28" cy="2207.91" rx="2.2" ry="3.05" fill="#000"/>
<ellipse cx="942.49" cy="2199.89" rx="2.2" ry="3.05" fill="#000"/>
<ellipse cx="948.02" cy="2190.2" rx="2.2" ry="3.05" fill="#000"/>
<ellipse cx="950.53" cy="2212.29" rx="2.2" ry="3.05" fill="#000"/>
<ellipse cx="960.55" cy="2223.45" rx="2.2" ry="3.05" fill="#000"/>
<ellipse cx="967.23" cy="2262.22" rx="2.2" ry="3.05" fill="#000"/>
<ellipse cx="959.56" cy="2233.41" rx="2.2" ry="3.05" fill="#000"/>
<ellipse cx="1048.95" cy="1845.1" rx="2.2" ry="3.05" fill="#ff0000"/>
<ellipse cx="1049.32" cy="1847.35" rx="2.2" ry="3.05" fill="#ff0000"/>
<ellipse cx="1056.43" cy="1859.32" rx="2.2" ry="3.05" fill="#ff0000"/>
<ellipse cx="1048.2" cy="1867.55" rx="2.2" ry="3.05" fill="#ff0000"/>
<ellipse cx="1029.49" cy="1874.66" rx="2.2" ry="3.05" fill="#ff0000"/>
<ellipse cx="1035.85" cy="1884.01" rx="2.2" ry="3.05" fill="#ff0000"/>
<ellipse cx="1041.09" cy="1881.02" rx="2.2" ry="3.05" fill="#ff0000"/>
<ellipse cx="1029.86" cy="1918.06" rx="2.2" ry="3.05" fill="#ff0000"/>
<ellipse cx="1029.12" cy="1958.84" rx="2.2" ry="3.05" fill="#ff0000"/>
<ellipse cx="1029.12" cy="1959.35" rx="2.2" ry="3.05" fill="#ff0000"/>
<ellipse cx="1041.84" cy="1998.64" rx="2.2" ry="3.05" fill="#ff0000"/>
<ellipse cx="1036.6" cy="2005.37" rx="2.2" ry="3.05" fill="#ff0000"/>
<ellipse cx="1051.19" cy="2005.37" rx="2.2" ry="3.05" fill="#ff0000"/>
<ellipse cx="1053.44" cy="2013.61" rx="2.2" ry="3.05" fill="#ff0000"/>
<ellipse cx="1037.72" cy="2018.1" rx="2.2" ry="3.05" fill="#ff0000"/>
<ellipse cx="1050.07" cy="2016.6" rx="2.2" ry="3.05" fill="#ff0000"/>
<ellipse cx="1049.69" cy="2022.96" rx="2.2" ry="3.05" fill="#ff0000"/>
<ellipse cx="1173.91" cy="2005.75" rx="2.2" ry="3.05" fill="#ff0000"/>
<ellipse cx="1184.01" cy="2018.47" rx="2.2" ry="3.05" fill="#ff0000"/>
<ellipse cx="1032.86" cy="2047.28" rx="2.2" ry="3.05" fill="#ff0000"/>
<ellipse cx="1022.76" cy="2060.37" rx="2.2" ry="3.05" fill="#ff0000"/>
<ellipse cx="1029.12" cy="2061.12" rx="2.2" ry="3.05" fill="#ff0000"/>
<ellipse cx="1034.73" cy="2094.05" rx="2.2" ry="3.05" fill="#ff0000"/>
<ellipse cx="1037.35" cy="2095.17" rx="2.2" ry="3.05" fill="#ff0000"/>
<ellipse cx="1032.11" cy="2100.41" rx="2.2" ry="3.05" fill="#ff0000"/>
<ellipse cx="1005.92" cy="2119.49" rx="2.2" ry="3.05" fill="#ff0000"/>
<ellipse cx="1046.7" cy="2154.66" rx="2.2" ry="3.05" fill="#ff0000"/>
<ellipse cx="841.29" cy="1653.16" rx="2.2" ry="3.05" fill="#0000ff"/>
<ellipse cx="717.82" cy="1702.18" rx="2.2" ry="3.05" fill="#0000ff"/>
<ellipse cx="860.75" cy="1786.36" rx="2.2" ry="3.05" fill="#0000ff"/>
<ellipse cx="844.66" cy="1809.18" rx="2.2" ry="3.05" fill="#0000ff"/>
<ellipse cx="842.79" cy="1857.82" rx="2.2" ry="3.05" fill="#0000ff"/>
<ellipse cx="898.54" cy="1871.67" rx="2.2" ry="3.05" fill="#0000ff"/>
<ellipse cx="879.46" cy="1905.71" rx="2.2" ry="3.05" fill="#0000ff"/>
<ellipse cx="768.33" cy="1930.78" rx="2.2" ry="3.05" fill="#0000ff"/>
<ellipse cx="900.78" cy="1952.48" rx="2.2" ry="3.05" fill="#0000ff"/>
<ellipse cx="896.29" cy="1975.82" rx="2.2" ry="3.05" fill="#0000ff"/>
<ellipse cx="869.35" cy="1987.04" rx="2.2" ry="3.05" fill="#0000ff"/>
<ellipse cx="904.9" cy="2012.86" rx="2.2" ry="3.05" fill="#0000ff"/>
<ellipse cx="881.7" cy="2034.56" rx="2.2" ry="3.05" fill="#0000ff"/>
<ellipse cx="903.03" cy="2025.95" rx="2.2" ry="3.05" fill="#0000ff"/>
<ellipse cx="906.39" cy="2036.8" rx="2.2" ry="3.05" fill="#0000ff"/>
<ellipse cx="887.31" cy="2048.78" rx="2.2" ry="3.05" fill="#0000ff"/>
<ellipse cx="893.67" cy="2056.26" rx="2.2" ry="3.05" fill="#0000ff"/>
<ellipse cx="897.41" cy="2058.5" rx="2.2" ry="3.05" fill="#0000ff"/>
<ellipse cx="807.99" cy="2095.17" rx="2.2" ry="3.05" fill="#0000ff"/>
<ellipse cx="848.03" cy="2098.91" rx="2.2" ry="3.05" fill="#0000ff"/>
<ellipse cx="906.77" cy="2097.79" rx="2.2" ry="3.05" fill="#0000ff"/>
<ellipse cx="910.14" cy="2092.18" rx="2.2" ry="3.05" fill="#0000ff"/>
<ellipse cx="906.77" cy="2101.53" rx="2.2" ry="3.05" fill="#0000ff"/>
<ellipse cx="896.67" cy="2113.13" rx="2.2" ry="3.05" fill="#0000ff"/>
<ellipse cx="876.84" cy="2147.18" rx="2.2" ry="3.05" fill="#0000ff"/>
<ellipse cx="945.68" cy="2135.95" rx="2.2" ry="3.05" fill="#0000ff"/>
<ellipse cx="948.3" cy="2135.95" rx="2.2" ry="3.05" fill="#0000ff"/>
<ellipse cx="954.29" cy="2146.43" rx="2.2" ry="3.05" fill="#0000ff"/>
<line x1="997.31" y1="1879.9" x2="1029.12" y2="1875.03" stroke="#ff0000" stroke-width="1" />
<line x1="1041.09" y1="1881.77" x2="1049.69" y2="1896.73" stroke="#ff0000" stroke-width="1" />
<line x1="826.33" y1="2019.22" x2="881.33" y2="2034.18" stroke="#0000ff" stroke-width="1" />
<line x1="877.59" y1="2047.28" x2="887.31" y2="2048.78" stroke="#0000ff" stroke-width="1" />
<line x1="894.42" y1="2098.54" x2="906.39" y2="2097.79" stroke="#0000ff" stroke-width="1" />
<line x1="906.77" y1="2099.66" x2="926.22" y2="2144.56" stroke="#0000ff" stroke-width="1" />
<line x1="910.14" y1="2094.05" x2="926.22" y2="2116.5" stroke="#0000ff" stroke-width="1" />
<text transform="translate(1050.82,1835.48) scale(0.66,1)" font-size="17.9" text-anchor="middle" fill="#ff0000" stroke="#ff0000" stroke-width="0.3">MSH2</text>
<text transform="translate(1020.88,1861.67) scale(0.66,1)" font-size="17.9" text-anchor="middle" fill="#ff0000" stroke="#ff0000" stroke-width="0.3">DNMT1</text>
<text transform="translate(1077.76,1861.67) scale(0.66,1)" font-size="17.9" text-anchor="middle" fill="#ff0000" stroke="#ff0000" stroke-width="0.3">VAV1</text>
<text transform="translate(977.11,1888.61) scale(0.66,1)" font-size="17.9" text-anchor="middle" fill="#ff0000" stroke="#ff0000" stroke-width="0.3">PMS2</text>
<text transform="translate(1070.27,1888.61) scale(0.66,1)" font-size="17.9" text-anchor="middle" fill="#ff0000" stroke="#ff0000" stroke-width="0.3">ATRX</text>
<text transform="translate(1053.06,1914.8) scale(0.66,1)" font-size="17.9" text-anchor="middle" fill="#ff0000" stroke="#ff0000" stroke-width="0.3">MITF</text>
<text transform="translate(1016.39,1907.32) scale(0.66,1)" font-size="17.9" text-anchor="middle" fill="#ff0000" stroke="#ff0000" stroke-width="0.3">Stat3</text>
<text transform="translate(1026.5,1941.74) scale(0.66,1)" font-size="17.9" text-anchor="middle" fill="#ff0000" stroke="#ff0000" stroke-width="0.3">p38-MAPK</text>
<text transform="translate(995.82,1983.03) scale(0.66,1)" font-size="17.9" text-anchor="middle" fill="#ff0000" stroke="#ff0000" stroke-width="0.3">DNA_POLG</text>
<text transform="translate(1053.06,1991.64) scale(0.66,1)" font-size="17.9" text-anchor="middle" fill="#ff0000" stroke="#ff0000" stroke-width="0.3">PAX8</text>
<text transform="translate(1161.56,1998.37) scale(0.66,1)" font-size="17.9" text-anchor="middle" fill="#ff0000" stroke="#ff0000" stroke-width="0.3">PDK1</text>
<text transform="translate(1171.67,2042.15) scale(0.66,1)" font-size="17.9" text-anchor="middle" fill="#ff0000" stroke="#ff0000" stroke-width="0.3">MYH11</text>
<text transform="translate(1041.09,2043.65) scale(0.66,1)" font-size="17.9" text-anchor="middle" fill="#ff0000" stroke="#ff0000" stroke-width="0.3">AMPKa_pT172</text>
<text transform="translate(998.06,2070.59) scale(0.66,1)" font-size="17.9" text-anchor="middle" fill="#ff0000" stroke="#ff0000" stroke-width="0.3">mTOR</text>
<text transform="translate(1051.56,2070.59) scale(0.66,1)" font-size="17.9" text-anchor="middle" fill="#ff0000" stroke="#ff0000" stroke-width="0.3">PTEN</text>
<text transform="translate(1009.66,2097.9) scale(0.66,1)" font-size="17.9" text-anchor="middle" fill="#ff0000" stroke="#ff0000" stroke-width="0.3">PKCa</text>
<text transform="translate(1067.28,2097.15) scale(0.66,1)" font-size="17.9" text-anchor="middle" fill="#ff0000" stroke="#ff0000" stroke-width="0.3">CRABP2</text>
<text transform="translate(1020.14,2124.09) scale(0.66,1)" font-size="17.9" text-anchor="middle" fill="#ff0000" stroke="#ff0000" stroke-width="0.3">WIPI1</text>
<text transform="translate(1034.73,2178.34) scale(0.66,1)" font-size="17.9" text-anchor="middle" fill="#ff0000" stroke="#ff0000" stroke-width="0.3">eEF2</text>
<text transform="translate(829.32,1676.47) scale(0.66,1)" font-size="17.9" text-anchor="middle" fill="#0000ff" stroke="#0000ff" stroke-width="0.3">MCT4</text>
<text transform="translate(729.05,1695.93) scale(0.66,1)" font-size="17.9" text-anchor="middle" fill="#0000ff" stroke="#0000ff" stroke-width="0.3">PAR</text>
<text transform="translate(872.35,1779.74) scale(0.66,1)" font-size="17.9" text-anchor="middle" fill="#0000ff" stroke="#0000ff" stroke-width="0.3">HMHA1</text>
<text transform="translate(821.84,1824.63) scale(0.66,1)" font-size="17.9" text-anchor="middle" fill="#0000ff" stroke="#0000ff" stroke-width="0.3">MEK1</text>
<text transform="translate(831.19,1850.82) scale(0.66,1)" font-size="17.9" text-anchor="middle" fill="#0000ff" stroke="#0000ff" stroke-width="0.3">INPP4b</text>
<text transform="translate(908.64,1895.72) scale(0.66,1)" font-size="17.9" text-anchor="middle" fill="#0000ff" stroke="#0000ff" stroke-width="0.3">Enolase-1</text>
<text transform="translate(867.86,1929.4) scale(0.66,1)" font-size="17.9" text-anchor="middle" fill="#0000ff" stroke="#0000ff" stroke-width="0.3">DDR1_pY513</text>
<text transform="translate(779.56,1924.53) scale(0.66,1)" font-size="17.9" text-anchor="middle" fill="#0000ff" stroke="#0000ff" stroke-width="0.3">Claudin-7</text>
<text transform="translate(947.55,1956.33) scale(0.66,1)" font-size="17.9" text-anchor="middle" fill="#0000ff" stroke="#0000ff" stroke-width="0.3">HER2_pY1248</text>
<text transform="translate(873.84,1969.19) scale(0.66,1)" font-size="17.9" text-anchor="middle" fill="#0000ff" stroke="#0000ff" stroke-width="0.3">4E-BP1</text>
<text transform="translate(849.9,2001.74) scale(0.66,1)" font-size="17.9" text-anchor="middle" fill="#0000ff" stroke="#0000ff" stroke-width="0.3">IRS2</text>
<text transform="translate(925.1,2005.48) scale(0.66,1)" font-size="17.9" text-anchor="middle" fill="#0000ff" stroke="#0000ff" stroke-width="0.3">B7-H3</text>
<text transform="translate(812.11,2027.18) scale(0.66,1)" font-size="17.9" text-anchor="middle" fill="#0000ff" stroke="#0000ff" stroke-width="0.3">CA9</text>
<text transform="translate(865.61,2027.93) scale(0.66,1)" font-size="17.9" text-anchor="middle" fill="#0000ff" stroke="#0000ff" stroke-width="0.3">Akt1_pS473</text>
<text transform="translate(845.03,2054.87) scale(0.66,1)" font-size="17.9" text-anchor="middle" fill="#0000ff" stroke="#0000ff" stroke-width="0.3">Hif-1-alpha</text>
<text transform="translate(929.97,2054.87) scale(0.66,1)" font-size="17.9" text-anchor="middle" fill="#0000ff" stroke="#0000ff" stroke-width="0.3">Rab25</text>
<text transform="translate(881.33,2080.31) scale(0.66,1)" font-size="17.9" text-anchor="middle" fill="#0000ff" stroke="#0000ff" stroke-width="0.3">p21</text>
<text transform="translate(916.5,2081.06) scale(0.66,1)" font-size="17.9" text-anchor="middle" fill="#0000ff" stroke="#0000ff" stroke-width="0.3">PKM2</text>
<text transform="translate(827.45,2088.17) scale(0.66,1)" font-size="17.9" text-anchor="middle" fill="#0000ff" stroke="#0000ff" stroke-width="0.3">ACVRL1</text>
<text transform="translate(875.71,2106.88) scale(0.66,1)" font-size="17.9" text-anchor="middle" fill="#0000ff" stroke="#0000ff" stroke-width="0.3">CD44</text>
<text transform="translate(934.46,2108.37) scale(0.66,1)" font-size="17.9" text-anchor="middle" fill="#0000ff" stroke="#0000ff" stroke-width="0.3">LAD1</text>
<text transform="translate(796.39,2118.48) scale(0.66,1)" font-size="17.9" text-anchor="middle" fill="#0000ff" stroke="#0000ff" stroke-width="0.3">S100A4</text>
<text transform="translate(874.22,2134.94) scale(0.66,1)" font-size="17.9" text-anchor="middle" fill="#0000ff" stroke="#0000ff" stroke-width="0.3">LDHA</text>
<text transform="translate(939.32,2134.94) scale(0.66,1)" font-size="17.9" text-anchor="middle" fill="#0000ff" stroke="#0000ff" stroke-width="0.3">HSP27_pS82</text>
<text transform="translate(928.1,2161.5) scale(0.66,1)" font-size="17.9" text-anchor="middle" fill="#0000ff" stroke="#0000ff" stroke-width="0.3">CDK1_pT14</text>
<text transform="translate(845.78,2170.11) scale(0.66,1)" font-size="17.9" text-anchor="middle" fill="#0000ff" stroke="#0000ff" stroke-width="0.3">EphA2_pS897</text>
<ellipse cx="1172.04" cy="1992.28" rx="41.16" ry="28.44" fill="none" stroke="#000" stroke-width="2.4"/>
<text transform="translate(1225.54,1916.34) scale(0.75,1)" font-size="16.5" fill="#111">diffexpressed</text>
<ellipse cx="1235.65" cy="1942.75" rx="1.8" ry="2.4" fill="#0000ff"/>
<text transform="translate(1235.35,1950.45) scale(0.72,1)" font-size="15.5" font-weight="bold" text-anchor="middle" fill="#0000ff">a</text>
<text transform="translate(1252.48,1948.85) scale(0.67,1)" font-size="15" fill="#111">DOWN</text>
<ellipse cx="1235.65" cy="1972.07" rx="1.8" ry="2.4" fill="#000"/>
<text transform="translate(1235.35,1979.77) scale(0.72,1)" font-size="15.5" font-weight="bold" text-anchor="middle">a</text>
<text transform="translate(1252.48,1978.17) scale(0.67,1)" font-size="15" fill="#111">NO</text>
<ellipse cx="1235.65" cy="2001.63" rx="1.8" ry="2.4" fill="#ff0000"/>
<text transform="translate(1235.35,2009.33) scale(0.72,1)" font-size="15.5" font-weight="bold" text-anchor="middle" fill="#ff0000">a</text>
<text transform="translate(1252.48,2007.73) scale(0.67,1)" font-size="15" fill="#111">UP</text>
</g>
<g id="p-g3_table">
<text transform="translate(1521.03,1568.78)" font-size="33" font-weight="bold" textLength="224.37" lengthAdjust="spacingAndGlyphs">H1975 tumors</text>
<text transform="translate(1484.45,1614.3)" font-size="33" font-weight="bold" textLength="312.98" lengthAdjust="spacingAndGlyphs">Osimertinib vs Cont</text>
<rect x="1302.36" y="1627.71" width="184.35" height="32.92" fill="#5b9bd5"/>
<rect x="1487.7" y="1627.71" width="205.48" height="32.92" fill="#5b9bd5"/>
<text transform="translate(1590.94,1651.85)" font-size="23" font-weight="bold" text-anchor="middle">ANOVA</text>
<rect x="1694.19" y="1627.71" width="302" height="32.92" fill="#5b9bd5"/>
<text transform="translate(1845.19,1651.85)" font-size="23" font-weight="bold" text-anchor="middle">Pairwise</text>
<rect x="1302.36" y="1664.29" width="184.35" height="60.16" fill="#cfd8ea"/>
<text transform="translate(1395.03,1689.49)" font-size="23" font-weight="bold" text-anchor="middle">Protein</text>
<rect x="1487.7" y="1664.29" width="122.97" height="60.16" fill="#cfd8ea"/>
<text transform="translate(1549.69,1689.49)" font-size="23" font-weight="bold" text-anchor="middle">p-Value</text>
<rect x="1611.67" y="1664.29" width="81.51" height="60.16" fill="#cfd8ea"/>
<text transform="translate(1652.93,1689.49)" font-size="23" font-weight="bold" text-anchor="middle">FDR</text>
<rect x="1694.19" y="1664.29" width="122.56" height="60.16" fill="#cfd8ea"/>
<text transform="translate(1755.97,1689.49)" font-size="23" font-weight="bold" text-anchor="middle">Fold</text>
<text transform="translate(1755.97,1716.69)" font-size="23" font-weight="bold" text-anchor="middle">Change</text>
<rect x="1817.75" y="1664.29" width="81.11" height="60.16" fill="#cfd8ea"/>
<text transform="translate(1858.8,1689.49)" font-size="23" font-weight="bold" text-anchor="middle">p-</text>
<text transform="translate(1858.8,1716.69)" font-size="23" font-weight="bold" text-anchor="middle">Value</text>
<rect x="1899.86" y="1664.29" width="96.33" height="60.16" fill="#cfd8ea"/>
<text transform="translate(1948.02,1689.49)" font-size="23" font-weight="bold" text-anchor="middle">FDR</text>
<rect x="1302.36" y="1726.48" width="184.35" height="39.99" fill="#e9ecf5"/>
<text transform="translate(1395.03,1753.25)" font-size="23" font-weight="bold" text-anchor="middle">PDK1</text>
<rect x="1487.7" y="1726.48" width="122.97" height="39.99" fill="#e9ecf5"/>
<text transform="translate(1549.69,1753.25)" font-size="23" font-weight="bold" text-anchor="middle">0.000</text>
<rect x="1611.67" y="1726.48" width="81.51" height="39.99" fill="#e9ecf5"/>
<text transform="translate(1652.93,1753.25)" font-size="23" font-weight="bold" text-anchor="middle">0.000</text>
<rect x="1694.19" y="1726.48" width="122.56" height="39.99" fill="#e9ecf5"/>
<text transform="translate(1755.97,1753.25)" font-size="23" font-weight="bold" text-anchor="middle">4.587</text>
<rect x="1817.75" y="1726.48" width="81.11" height="39.99" fill="#e9ecf5"/>
<text transform="translate(1858.8,1753.25)" font-size="23" font-weight="bold" text-anchor="middle">0.000</text>
<rect x="1899.86" y="1726.48" width="96.33" height="39.99" fill="#e9ecf5"/>
<text transform="translate(1948.02,1753.25)" font-size="23" font-weight="bold" text-anchor="middle">0.001</text>
<rect x="1302.36" y="1767.68" width="184.35" height="39.99" fill="#d0d9eb"/>
<text transform="translate(1395.03,1794.44)" font-size="23" font-weight="bold" text-anchor="middle">Akt</text>
<rect x="1487.7" y="1767.68" width="122.97" height="39.99" fill="#d0d9eb"/>
<text transform="translate(1549.69,1794.44)" font-size="23" font-weight="bold" text-anchor="middle">0.010</text>
<rect x="1611.67" y="1767.68" width="81.51" height="39.99" fill="#d0d9eb"/>
<text transform="translate(1652.93,1794.44)" font-size="23" font-weight="bold" text-anchor="middle">0.017</text>
<rect x="1694.19" y="1767.68" width="122.56" height="39.99" fill="#d0d9eb"/>
<text transform="translate(1755.97,1794.44)" font-size="23" font-weight="bold" text-anchor="middle">1.322</text>
<rect x="1817.75" y="1767.68" width="81.11" height="39.99" fill="#d0d9eb"/>
<text transform="translate(1858.8,1794.44)" font-size="23" font-weight="bold" text-anchor="middle">0.006</text>
<rect x="1899.86" y="1767.68" width="96.33" height="39.99" fill="#d0d9eb"/>
<text transform="translate(1948.02,1794.44)" font-size="23" font-weight="bold" text-anchor="middle">0.017</text>
<rect x="1302.36" y="1808.87" width="184.35" height="39.99" fill="#e9ecf5"/>
<text transform="translate(1395.03,1835.64)" font-size="23" font-weight="bold" text-anchor="middle">Akt2</text>
<rect x="1487.7" y="1808.87" width="122.97" height="39.99" fill="#e9ecf5"/>
<text transform="translate(1549.69,1835.64)" font-size="23" font-weight="bold" text-anchor="middle">0.000</text>
<rect x="1611.67" y="1808.87" width="81.51" height="39.99" fill="#e9ecf5"/>
<text transform="translate(1652.93,1835.64)" font-size="23" font-weight="bold" text-anchor="middle">0.000</text>
<rect x="1694.19" y="1808.87" width="122.56" height="39.99" fill="#e9ecf5"/>
<text transform="translate(1755.97,1835.64)" font-size="23" font-weight="bold" text-anchor="middle">1.327</text>
<rect x="1817.75" y="1808.87" width="81.11" height="39.99" fill="#e9ecf5"/>
<text transform="translate(1858.8,1835.64)" font-size="23" font-weight="bold" text-anchor="middle">0.001</text>
<rect x="1899.86" y="1808.87" width="96.33" height="39.99" fill="#e9ecf5"/>
<text transform="translate(1948.02,1835.64)" font-size="23" font-weight="bold" text-anchor="middle">0.003</text>
<rect x="1302.36" y="1850.07" width="184.35" height="39.99" fill="#d0d9eb"/>
<text transform="translate(1395.03,1876.83)" font-size="23" font-weight="bold" text-anchor="middle">mTOR</text>
<rect x="1487.7" y="1850.07" width="122.97" height="39.99" fill="#d0d9eb"/>
<text transform="translate(1549.69,1876.83)" font-size="23" font-weight="bold" text-anchor="middle">0.006</text>
<rect x="1611.67" y="1850.07" width="81.51" height="39.99" fill="#d0d9eb"/>
<text transform="translate(1652.93,1876.83)" font-size="23" font-weight="bold" text-anchor="middle">0.012</text>
<rect x="1694.19" y="1850.07" width="122.56" height="39.99" fill="#d0d9eb"/>
<text transform="translate(1755.97,1876.83)" font-size="23" font-weight="bold" text-anchor="middle">1.505</text>
<rect x="1817.75" y="1850.07" width="81.11" height="39.99" fill="#d0d9eb"/>
<text transform="translate(1858.8,1876.83)" font-size="23" font-weight="bold" text-anchor="middle">0.001</text>
<rect x="1899.86" y="1850.07" width="96.33" height="39.99" fill="#d0d9eb"/>
<text transform="translate(1948.02,1876.83)" font-size="23" font-weight="bold" text-anchor="middle">0.003</text>
<rect x="1302.36" y="1891.26" width="184.35" height="39.99" fill="#e9ecf5"/>
<text transform="translate(1395.03,1918.03)" font-size="23" font-weight="bold" text-anchor="middle">mTOR_pS2448</text>
<rect x="1487.7" y="1891.26" width="122.97" height="39.99" fill="#e9ecf5"/>
<text transform="translate(1549.69,1918.03)" font-size="23" font-weight="bold" text-anchor="middle">0.002</text>
<rect x="1611.67" y="1891.26" width="81.51" height="39.99" fill="#e9ecf5"/>
<text transform="translate(1652.93,1918.03)" font-size="23" font-weight="bold" text-anchor="middle">0.005</text>
<rect x="1694.19" y="1891.26" width="122.56" height="39.99" fill="#e9ecf5"/>
<text transform="translate(1755.97,1918.03)" font-size="23" font-weight="bold" text-anchor="middle">1.247</text>
<rect x="1817.75" y="1891.26" width="81.11" height="39.99" fill="#e9ecf5"/>
<text transform="translate(1858.8,1918.03)" font-size="23" font-weight="bold" text-anchor="middle">0.010</text>
<rect x="1899.86" y="1891.26" width="96.33" height="39.99" fill="#e9ecf5"/>
<text transform="translate(1948.02,1918.03)" font-size="23" font-weight="bold" text-anchor="middle">0.026</text>
<rect x="1302.36" y="1932.46" width="184.35" height="39.99" fill="#d0d9eb"/>
<text transform="translate(1395.03,1959.22)" font-size="23" font-weight="bold" text-anchor="middle">PI3K-p110-a</text>
<rect x="1487.7" y="1932.46" width="122.97" height="39.99" fill="#d0d9eb"/>
<text transform="translate(1549.69,1959.22)" font-size="23" font-weight="bold" text-anchor="middle">0.000</text>
<rect x="1611.67" y="1932.46" width="81.51" height="39.99" fill="#d0d9eb"/>
<text transform="translate(1652.93,1959.22)" font-size="23" font-weight="bold" text-anchor="middle">0.000</text>
<rect x="1694.19" y="1932.46" width="122.56" height="39.99" fill="#d0d9eb"/>
<text transform="translate(1755.97,1959.22)" font-size="23" font-weight="bold" text-anchor="middle">1.159</text>
<rect x="1817.75" y="1932.46" width="81.11" height="39.99" fill="#d0d9eb"/>
<text transform="translate(1858.8,1959.22)" font-size="23" font-weight="bold" text-anchor="middle">0.000</text>
<rect x="1899.86" y="1932.46" width="96.33" height="39.99" fill="#d0d9eb"/>
<text transform="translate(1948.02,1959.22)" font-size="23" font-weight="bold" text-anchor="middle">0.001</text>
<rect x="1302.36" y="1973.65" width="184.35" height="39.99" fill="#e9ecf5"/>
<text transform="translate(1395.03,2000.42)" font-size="23" font-weight="bold" text-anchor="middle">AMPKa</text>
<rect x="1487.7" y="1973.65" width="122.97" height="39.99" fill="#e9ecf5"/>
<text transform="translate(1549.69,2000.42)" font-size="23" font-weight="bold" text-anchor="middle">0.019</text>
<rect x="1611.67" y="1973.65" width="81.51" height="39.99" fill="#e9ecf5"/>
<text transform="translate(1652.93,2000.42)" font-size="23" font-weight="bold" text-anchor="middle">0.032</text>
<rect x="1694.19" y="1973.65" width="122.56" height="39.99" fill="#e9ecf5"/>
<text transform="translate(1755.97,2000.42)" font-size="23" font-weight="bold" text-anchor="middle">1.258</text>
<rect x="1817.75" y="1973.65" width="81.11" height="39.99" fill="#e9ecf5"/>
<text transform="translate(1858.8,2000.42)" font-size="23" font-weight="bold" text-anchor="middle">0.001</text>
<rect x="1899.86" y="1973.65" width="96.33" height="39.99" fill="#e9ecf5"/>
<text transform="translate(1948.02,2000.42)" font-size="23" font-weight="bold" text-anchor="middle">0.005</text>
<rect x="1302.36" y="2014.85" width="184.35" height="39.99" fill="#d0d9eb"/>
<text transform="translate(1395.03,2041.61)" font-size="23" font-weight="bold" text-anchor="middle">AMPKa_pT172</text>
<rect x="1487.7" y="2014.85" width="122.97" height="39.99" fill="#d0d9eb"/>
<text transform="translate(1549.69,2041.61)" font-size="23" font-weight="bold" text-anchor="middle">0.001</text>
<rect x="1611.67" y="2014.85" width="81.51" height="39.99" fill="#d0d9eb"/>
<text transform="translate(1652.93,2041.61)" font-size="23" font-weight="bold" text-anchor="middle">0.003</text>
<rect x="1694.19" y="2014.85" width="122.56" height="39.99" fill="#d0d9eb"/>
<text transform="translate(1755.97,2041.61)" font-size="23" font-weight="bold" text-anchor="middle">1.615</text>
<rect x="1817.75" y="2014.85" width="81.11" height="39.99" fill="#d0d9eb"/>
<text transform="translate(1858.8,2041.61)" font-size="23" font-weight="bold" text-anchor="middle">0.000</text>
<rect x="1899.86" y="2014.85" width="96.33" height="39.99" fill="#d0d9eb"/>
<text transform="translate(1948.02,2041.61)" font-size="23" font-weight="bold" text-anchor="middle">0.002</text>
<rect x="1302.36" y="2056.04" width="184.35" height="39.99" fill="#e9ecf5"/>
<text transform="translate(1395.03,2082.81)" font-size="23" font-weight="bold" text-anchor="middle">p38-MAPK</text>
<rect x="1487.7" y="2056.04" width="122.97" height="39.99" fill="#e9ecf5"/>
<text transform="translate(1549.69,2082.81)" font-size="23" font-weight="bold" text-anchor="middle">0.000</text>
<rect x="1611.67" y="2056.04" width="81.51" height="39.99" fill="#e9ecf5"/>
<text transform="translate(1652.93,2082.81)" font-size="23" font-weight="bold" text-anchor="middle">0.000</text>
<rect x="1694.19" y="2056.04" width="122.56" height="39.99" fill="#e9ecf5"/>
<text transform="translate(1755.97,2082.81)" font-size="23" font-weight="bold" text-anchor="middle">1.584</text>
<rect x="1817.75" y="2056.04" width="81.11" height="39.99" fill="#e9ecf5"/>
<text transform="translate(1858.8,2082.81)" font-size="23" font-weight="bold" text-anchor="middle">0.000</text>
<rect x="1899.86" y="2056.04" width="96.33" height="39.99" fill="#e9ecf5"/>
<text transform="translate(1948.02,2082.81)" font-size="23" font-weight="bold" text-anchor="middle">0.000</text>
<rect x="1302.36" y="2097.24" width="184.35" height="39.99" fill="#d0d9eb"/>
<text transform="translate(1395.03,2124)" font-size="23" font-weight="bold" text-anchor="middle">Erk5</text>
<rect x="1487.7" y="2097.24" width="122.97" height="39.99" fill="#d0d9eb"/>
<text transform="translate(1549.69,2124)" font-size="23" font-weight="bold" text-anchor="middle">0.000</text>
<rect x="1611.67" y="2097.24" width="81.51" height="39.99" fill="#d0d9eb"/>
<text transform="translate(1652.93,2124)" font-size="23" font-weight="bold" text-anchor="middle">0.000</text>
<rect x="1694.19" y="2097.24" width="122.56" height="39.99" fill="#d0d9eb"/>
<text transform="translate(1755.97,2124)" font-size="23" font-weight="bold" text-anchor="middle">1.242</text>
<rect x="1817.75" y="2097.24" width="81.11" height="39.99" fill="#d0d9eb"/>
<text transform="translate(1858.8,2124)" font-size="23" font-weight="bold" text-anchor="middle">0.000</text>
<rect x="1899.86" y="2097.24" width="96.33" height="39.99" fill="#d0d9eb"/>
<text transform="translate(1948.02,2124)" font-size="23" font-weight="bold" text-anchor="middle">0.000</text>
<rect x="1302.36" y="2138.43" width="184.35" height="39.99" fill="#e9ecf5"/>
<text transform="translate(1395.03,2165.2)" font-size="23" font-weight="bold" text-anchor="middle">A-Raf</text>
<rect x="1487.7" y="2138.43" width="122.97" height="39.99" fill="#e9ecf5"/>
<text transform="translate(1549.69,2165.2)" font-size="23" font-weight="bold" text-anchor="middle">0.000</text>
<rect x="1611.67" y="2138.43" width="81.51" height="39.99" fill="#e9ecf5"/>
<text transform="translate(1652.93,2165.2)" font-size="23" font-weight="bold" text-anchor="middle">0.000</text>
<rect x="1694.19" y="2138.43" width="122.56" height="39.99" fill="#e9ecf5"/>
<text transform="translate(1755.97,2165.2)" font-size="23" font-weight="bold" text-anchor="middle">1.292</text>
<rect x="1817.75" y="2138.43" width="81.11" height="39.99" fill="#e9ecf5"/>
<text transform="translate(1858.8,2165.2)" font-size="23" font-weight="bold" text-anchor="middle">0.000</text>
<rect x="1899.86" y="2138.43" width="96.33" height="39.99" fill="#e9ecf5"/>
<text transform="translate(1948.02,2165.2)" font-size="23" font-weight="bold" text-anchor="middle">0.001</text>
<rect x="1302.36" y="2179.63" width="184.35" height="39.99" fill="#d0d9eb"/>
<text transform="translate(1395.03,2206.39)" font-size="23" font-weight="bold" text-anchor="middle">B-Raf_pS445</text>
<rect x="1487.7" y="2179.63" width="122.97" height="39.99" fill="#d0d9eb"/>
<text transform="translate(1549.69,2206.39)" font-size="23" font-weight="bold" text-anchor="middle">0.031</text>
<rect x="1611.67" y="2179.63" width="81.51" height="39.99" fill="#d0d9eb"/>
<text transform="translate(1652.93,2206.39)" font-size="23" font-weight="bold" text-anchor="middle">0.047</text>
<rect x="1694.19" y="2179.63" width="122.56" height="39.99" fill="#d0d9eb"/>
<text transform="translate(1755.97,2206.39)" font-size="23" font-weight="bold" text-anchor="middle">1.369</text>
<rect x="1817.75" y="2179.63" width="81.11" height="39.99" fill="#d0d9eb"/>
<text transform="translate(1858.8,2206.39)" font-size="23" font-weight="bold" text-anchor="middle">0.015</text>
<rect x="1899.86" y="2179.63" width="96.33" height="39.99" fill="#d0d9eb"/>
<text transform="translate(1948.02,2206.39)" font-size="23" font-weight="bold" text-anchor="middle">0.037</text>
<rect x="1302.36" y="2220.82" width="184.35" height="39.99" fill="#e9ecf5"/>
<text transform="translate(1395.03,2247.59)" font-size="23" font-weight="bold" text-anchor="middle">MEK1</text>
<rect x="1487.7" y="2220.82" width="122.97" height="39.99" fill="#e9ecf5"/>
<text transform="translate(1549.69,2247.59)" font-size="23" font-weight="bold" text-anchor="middle">0.000</text>
<rect x="1611.67" y="2220.82" width="81.51" height="39.99" fill="#e9ecf5"/>
<text transform="translate(1652.93,2247.59)" font-size="23" font-weight="bold" text-anchor="middle">0.000</text>
<rect x="1694.19" y="2220.82" width="122.56" height="39.99" fill="#e9ecf5"/>
<text transform="translate(1755.97,2247.59)" font-size="23" font-weight="bold" text-anchor="middle">-2.495</text>
<rect x="1817.75" y="2220.82" width="81.11" height="39.99" fill="#e9ecf5"/>
<text transform="translate(1858.8,2247.59)" font-size="23" font-weight="bold" text-anchor="middle">0.000</text>
<rect x="1899.86" y="2220.82" width="96.33" height="39.99" fill="#e9ecf5"/>
<text transform="translate(1948.02,2247.59)" font-size="23" font-weight="bold" text-anchor="middle">0.000</text>
<rect x="1302.36" y="2262.02" width="184.35" height="39.99" fill="#d0d9eb"/>
<text transform="translate(1395.03,2288.78)" font-size="23" font-weight="bold" text-anchor="middle">EGFR</text>
<rect x="1487.7" y="2262.02" width="122.97" height="39.99" fill="#d0d9eb"/>
<text transform="translate(1549.69,2288.78)" font-size="23" font-weight="bold" text-anchor="middle">0.000</text>
<rect x="1611.67" y="2262.02" width="81.51" height="39.99" fill="#d0d9eb"/>
<text transform="translate(1652.93,2288.78)" font-size="23" font-weight="bold" text-anchor="middle">0.000</text>
<rect x="1694.19" y="2262.02" width="122.56" height="39.99" fill="#d0d9eb"/>
<text transform="translate(1755.97,2288.78)" font-size="23" font-weight="bold" text-anchor="middle">-1.425</text>
<rect x="1817.75" y="2262.02" width="81.11" height="39.99" fill="#d0d9eb"/>
<text transform="translate(1858.8,2288.78)" font-size="23" font-weight="bold" text-anchor="middle">0.001</text>
<rect x="1899.86" y="2262.02" width="96.33" height="39.99" fill="#d0d9eb"/>
<text transform="translate(1948.02,2288.78)" font-size="23" font-weight="bold" text-anchor="middle">0.003</text>
<rect x="1302.36" y="2303.21" width="184.35" height="39.99" fill="#e9ecf5"/>
<text transform="translate(1395.03,2329.98)" font-size="23" font-weight="bold" text-anchor="middle">PD-L1</text>
<rect x="1487.7" y="2303.21" width="122.97" height="39.99" fill="#e9ecf5"/>
<text transform="translate(1549.69,2329.98)" font-size="23" font-weight="bold" text-anchor="middle">0.000</text>
<rect x="1611.67" y="2303.21" width="81.51" height="39.99" fill="#e9ecf5"/>
<text transform="translate(1652.93,2329.98)" font-size="23" font-weight="bold" text-anchor="middle">0.001</text>
<rect x="1694.19" y="2303.21" width="122.56" height="39.99" fill="#e9ecf5"/>
<text transform="translate(1755.97,2329.98)" font-size="23" font-weight="bold" text-anchor="middle">1.408</text>
<rect x="1817.75" y="2303.21" width="81.11" height="39.99" fill="#e9ecf5"/>
<text transform="translate(1858.8,2329.98)" font-size="23" font-weight="bold" text-anchor="middle">0.008</text>
<rect x="1899.86" y="2303.21" width="96.33" height="39.99" fill="#e9ecf5"/>
<text transform="translate(1948.02,2329.98)" font-size="23" font-weight="bold" text-anchor="middle">0.022</text>
</g>
</svg>
</body>
</html>
